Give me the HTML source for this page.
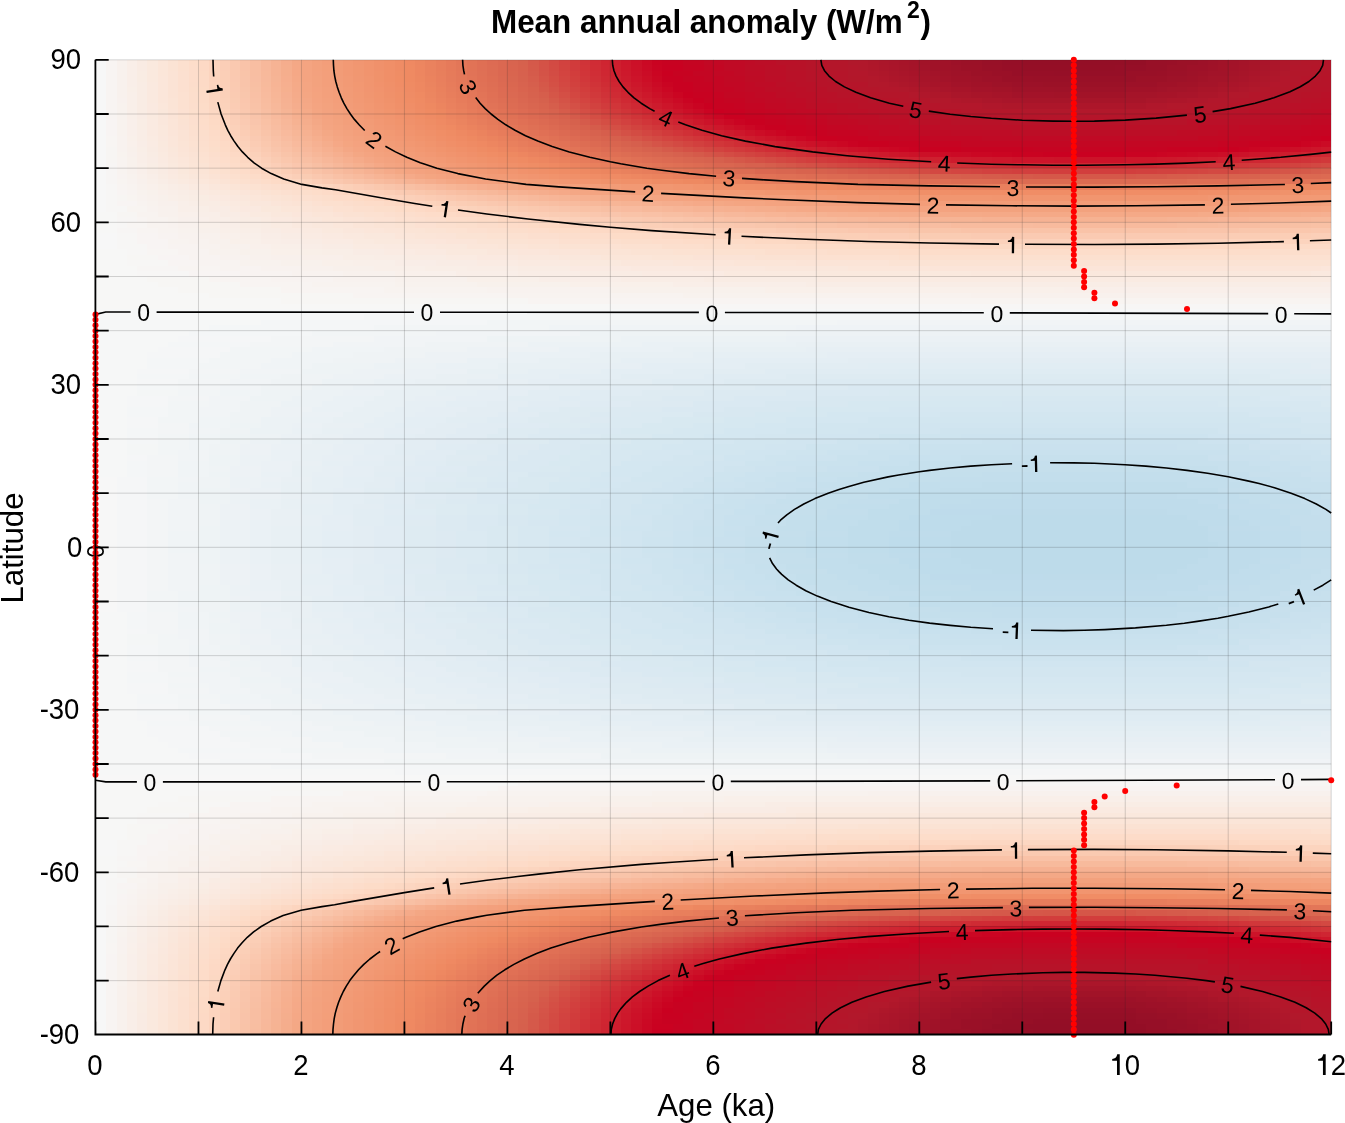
<!DOCTYPE html>
<html><head><meta charset="utf-8"><style>
html,body{margin:0;padding:0;background:#fff;}
body{width:1345px;height:1123px;position:relative;overflow:hidden;font-family:"Liberation Sans",sans-serif;}
#hm div{position:absolute;left:95.5px;width:1235.7px;}
svg{position:absolute;left:0;top:0;will-change:transform;}
</style></head><body>
<div id="hm">
<div style="top:1029.38px;height:5.44px;background:linear-gradient(90deg,#f7f7f7 0 10.3px,#f8f4f2 0 20.6px,#f8f1ed 0 30.9px,#f9eee8 0 41.2px,#f9ebe3 0 51.5px,#fae9de 0 61.8px,#fbe6d9 0 72.1px,#fbe3d4 0 82.4px,#fce0cf 0 92.7px,#fdddca 0 103.0px,#fdd9c5 0 113.3px,#fcd4be 0 123.6px,#fbceb6 0 133.9px,#fac9af 0 144.2px,#f9c3a8 0 154.5px,#f8bda1 0 164.8px,#f7b89a 0 175.1px,#f6b393 0 185.4px,#f5ad8c 0 195.7px,#f4a885 0 206.0px,#f4a480 0 216.2px,#f3a17d 0 226.5px,#f39e7a 0 236.8px,#f29c77 0 247.1px,#f29974 0 257.4px,#f19671 0 267.7px,#f1946e 0 278.0px,#f0916a 0 288.3px,#f08f67 0 298.6px,#ef8c64 0 308.9px,#ee8962 0 319.2px,#ec8560 0 329.5px,#ea815e 0 339.8px,#e87d5c 0 350.1px,#e57a5a 0 360.4px,#e37658 0 370.7px,#e17256 0 381.0px,#df6e54 0 391.3px,#dc6b52 0 401.6px,#da6751 0 411.9px,#d8644f 0 422.2px,#d6604d 0 432.5px,#d55849 0 442.8px,#d45046 0 453.1px,#d34942 0 463.4px,#d2413e 0 473.7px,#d13a3b 0 484.0px,#d03237 0 494.3px,#cf2b34 0 504.6px,#ce2431 0 514.9px,#ce1d2d 0 525.2px,#cd162a 0 535.5px,#cc0f27 0 545.8px,#cb0824 0 556.1px,#ca0121 0 576.7px,#c60422 0 597.3px,#c30723 0 617.9px,#c10924 0 638.4px,#bf0b25 0 648.7px,#bd0d26 0 669.3px,#bb0f27 0 679.6px,#b91128 0 700.2px,#b71329 0 720.8px,#b4162a 0 741.4px,#b2182b 0 762.0px,#af172b 0 772.3px,#ac162a 0 782.6px,#aa152a 0 792.9px,#a71529 0 803.2px,#a51429 0 813.5px,#a31329 0 823.8px,#a11328 0 834.1px,#9f1228 0 844.4px,#9d1128 0 854.7px,#9b1127 0 875.3px,#991027 0 885.6px,#970f27 0 906.2px,#940f26 0 937.1px,#930e26 0 1050.3px,#960f26 0 1070.9px,#970f27 0 1081.2px,#991027 0 1101.8px,#9c1128 0 1122.4px,#9f1228 0 1132.7px,#a11328 0 1143.0px,#a31329 0 1153.3px,#a51429 0 1163.6px,#a81529 0 1173.9px,#aa152a 0 1184.2px,#ad162a 0 1194.5px,#af172b 0 1204.8px,#b3172b 0 1225.4px,#b4162a 0 1236.7px)"></div>
<div style="top:1023.97px;height:5.44px;background:linear-gradient(90deg,#f7f7f7 0 10.3px,#f8f4f2 0 20.6px,#f8f1ed 0 30.9px,#f9eee8 0 41.2px,#f9ebe3 0 51.5px,#fae9de 0 61.8px,#fbe6d9 0 72.1px,#fbe3d4 0 82.4px,#fce0cf 0 92.7px,#fdddca 0 103.0px,#fdd9c5 0 113.3px,#fcd4be 0 123.6px,#fbceb7 0 133.9px,#fac9af 0 144.2px,#f9c3a8 0 154.5px,#f8bea1 0 164.8px,#f7b89a 0 175.1px,#f6b393 0 185.4px,#f5ad8c 0 195.7px,#f4a885 0 206.0px,#f4a480 0 216.2px,#f3a17d 0 226.5px,#f39e7a 0 236.8px,#f29c77 0 247.1px,#f29974 0 257.4px,#f19671 0 267.7px,#f1946e 0 278.0px,#f0916a 0 288.3px,#f08f67 0 298.6px,#ef8c64 0 308.9px,#ef8962 0 319.2px,#ec8560 0 329.5px,#ea815e 0 339.8px,#e87e5c 0 350.1px,#e57a5a 0 360.4px,#e37658 0 370.7px,#e17256 0 381.0px,#df6f54 0 391.3px,#dd6b52 0 401.6px,#da6751 0 411.9px,#d8644f 0 422.2px,#d6604d 0 432.5px,#d5594a 0 442.8px,#d45146 0 453.1px,#d34942 0 463.4px,#d2413f 0 473.7px,#d13a3b 0 484.0px,#d03238 0 494.3px,#cf2b34 0 504.6px,#ce2431 0 514.9px,#ce1d2e 0 525.2px,#cd162a 0 535.5px,#cc0f27 0 545.8px,#cb0824 0 556.1px,#ca0221 0 576.7px,#c70322 0 597.3px,#c40623 0 617.9px,#c10924 0 638.4px,#bf0b25 0 648.7px,#bd0d26 0 669.3px,#ba1027 0 689.9px,#b81228 0 710.5px,#b61429 0 731.1px,#b4162a 0 751.7px,#b2182b 0 762.0px,#af172b 0 772.3px,#ad162a 0 782.6px,#aa152a 0 792.9px,#a81529 0 803.2px,#a51429 0 813.5px,#a31329 0 823.8px,#a11328 0 834.1px,#9f1228 0 844.4px,#9d1128 0 865.0px,#9a1027 0 885.6px,#981027 0 895.9px,#950f26 0 926.8px,#930e26 0 957.7px,#930e26 0 1029.8px,#940e26 0 1050.3px,#960f27 0 1070.9px,#981027 0 1091.5px,#9a1027 0 1101.8px,#9c1127 0 1112.1px,#9e1228 0 1132.7px,#a11328 0 1143.0px,#a31329 0 1153.3px,#a61429 0 1163.6px,#a81529 0 1173.9px,#aa162a 0 1184.2px,#ad162a 0 1194.5px,#b0172b 0 1204.8px,#b3172b 0 1225.4px,#b4162a 0 1236.7px)"></div>
<div style="top:1018.55px;height:5.44px;background:linear-gradient(90deg,#f7f7f7 0 10.3px,#f8f4f2 0 20.6px,#f8f1ed 0 30.9px,#f9eee8 0 41.2px,#f9ebe3 0 51.5px,#fae9de 0 61.8px,#fbe6d9 0 72.1px,#fbe3d4 0 82.4px,#fce0cf 0 92.7px,#fdddca 0 103.0px,#fdd9c5 0 113.3px,#fcd4be 0 123.6px,#fbceb7 0 133.9px,#fac9b0 0 144.2px,#f9c3a9 0 154.5px,#f8bea2 0 164.8px,#f7b89b 0 175.1px,#f6b394 0 185.4px,#f5ad8d 0 195.7px,#f4a886 0 206.0px,#f4a481 0 216.2px,#f3a17d 0 226.5px,#f39e7a 0 236.8px,#f29c77 0 247.1px,#f29974 0 257.4px,#f19671 0 267.7px,#f1946e 0 278.0px,#f0916b 0 288.3px,#f08f68 0 298.6px,#ef8c65 0 308.9px,#ef8962 0 319.2px,#ec8660 0 329.5px,#ea825e 0 339.8px,#e87e5c 0 350.1px,#e57a5a 0 360.4px,#e37658 0 370.7px,#e17356 0 381.0px,#df6f54 0 391.3px,#dd6b53 0 401.6px,#db6851 0 411.9px,#d8644f 0 422.2px,#d6614d 0 432.5px,#d5594a 0 442.8px,#d45146 0 453.1px,#d34a43 0 463.4px,#d2423f 0 473.7px,#d13b3b 0 484.0px,#d03338 0 494.3px,#cf2c35 0 504.6px,#cf2531 0 514.9px,#ce1e2e 0 525.2px,#cd172b 0 535.5px,#cc1028 0 545.8px,#cb0924 0 556.1px,#ca0321 0 566.4px,#c80221 0 587.0px,#c60422 0 597.3px,#c40623 0 617.9px,#c20824 0 628.1px,#c00a25 0 648.7px,#be0c26 0 659.0px,#bc0e27 0 679.6px,#b91128 0 700.2px,#b71329 0 720.8px,#b5152a 0 741.4px,#b3172b 0 762.0px,#b0172b 0 772.3px,#ae172a 0 782.6px,#ab162a 0 792.9px,#a91529 0 803.2px,#a61429 0 813.5px,#a41429 0 823.8px,#a21328 0 834.1px,#a01228 0 844.4px,#9d1128 0 865.0px,#9a1027 0 885.6px,#981027 0 906.2px,#960f26 0 937.1px,#940e26 0 1040.0px,#960f27 0 1070.9px,#991027 0 1091.5px,#9b1127 0 1101.8px,#9e1128 0 1122.4px,#a01228 0 1132.7px,#a21328 0 1143.0px,#a41429 0 1153.3px,#a61429 0 1163.6px,#a9152a 0 1173.9px,#ab162a 0 1184.2px,#ae172a 0 1194.5px,#b0182b 0 1204.8px,#b3172b 0 1225.4px,#b4162a 0 1236.7px)"></div>
<div style="top:1013.13px;height:5.44px;background:linear-gradient(90deg,#f7f7f7 0 10.3px,#f8f4f2 0 20.6px,#f8f1ed 0 30.9px,#f9eee8 0 41.2px,#f9ebe3 0 51.5px,#fae9de 0 61.8px,#fbe6d9 0 72.1px,#fbe3d4 0 82.4px,#fce0d0 0 92.7px,#fdddcb 0 103.0px,#fdd9c5 0 113.3px,#fcd4be 0 123.6px,#fbceb7 0 133.9px,#fac9b0 0 144.2px,#f9c3a9 0 154.5px,#f8bea2 0 164.8px,#f7b99b 0 175.1px,#f6b394 0 185.4px,#f5ae8d 0 195.7px,#f5a886 0 206.0px,#f4a481 0 216.2px,#f3a17e 0 226.5px,#f39f7a 0 236.8px,#f29c77 0 247.1px,#f29974 0 257.4px,#f19771 0 267.7px,#f1946e 0 278.0px,#f0926b 0 288.3px,#f08f68 0 298.6px,#ef8c65 0 308.9px,#ef8a62 0 319.2px,#ed8660 0 329.5px,#ea825e 0 339.8px,#e87e5c 0 350.1px,#e67a5a 0 360.4px,#e47758 0 370.7px,#e17357 0 381.0px,#df6f55 0 391.3px,#dd6c53 0 401.6px,#db6851 0 411.9px,#d9654f 0 422.2px,#d7614e 0 432.5px,#d55a4a 0 442.8px,#d45347 0 453.1px,#d34b43 0 463.4px,#d24340 0 473.7px,#d13c3c 0 484.0px,#d13539 0 494.3px,#d02d35 0 504.6px,#cf2632 0 514.9px,#ce1f2f 0 525.2px,#cd182b 0 535.5px,#cc1128 0 545.8px,#cb0b25 0 556.1px,#cb0422 0 566.4px,#c90121 0 587.0px,#c60422 0 607.6px,#c30723 0 628.1px,#c10924 0 638.4px,#bf0b25 0 659.0px,#bd0d26 0 669.3px,#bb0f27 0 689.9px,#b81228 0 710.5px,#b61429 0 731.1px,#b4162a 0 751.7px,#b2182b 0 772.3px,#af172b 0 782.6px,#ac162a 0 792.9px,#aa152a 0 803.2px,#a81529 0 813.5px,#a61429 0 823.8px,#a31329 0 844.4px,#a01228 0 854.7px,#9d1128 0 875.3px,#9b1127 0 895.9px,#981027 0 916.5px,#960f27 0 947.4px,#950f26 0 1040.0px,#971027 0 1060.6px,#991027 0 1081.2px,#9b1127 0 1091.5px,#9d1128 0 1112.1px,#a01228 0 1122.4px,#a21328 0 1132.7px,#a41329 0 1143.0px,#a61429 0 1153.3px,#a81529 0 1163.6px,#aa162a 0 1173.9px,#ad162a 0 1184.2px,#af172b 0 1194.5px,#b2182b 0 1215.1px,#b4162a 0 1236.7px)"></div>
<div style="top:1007.72px;height:5.44px;background:linear-gradient(90deg,#f7f7f7 0 10.3px,#f8f4f2 0 20.6px,#f8f1ed 0 30.9px,#f9eee8 0 41.2px,#f9ece3 0 51.5px,#fae9de 0 61.8px,#fbe6da 0 72.1px,#fbe3d5 0 82.4px,#fce0d0 0 92.7px,#fdddcb 0 103.0px,#fddac5 0 113.3px,#fcd4be 0 123.6px,#fbcfb7 0 133.9px,#fac9b0 0 144.2px,#f9c4a9 0 154.5px,#f8bea2 0 164.8px,#f7b99b 0 175.1px,#f6b395 0 185.4px,#f6ae8e 0 195.7px,#f5a987 0 206.0px,#f4a481 0 216.2px,#f3a27e 0 226.5px,#f39f7b 0 236.8px,#f29c78 0 247.1px,#f29a75 0 257.4px,#f19771 0 267.7px,#f1946e 0 278.0px,#f0926b 0 288.3px,#f08f68 0 298.6px,#f08d65 0 308.9px,#ef8a62 0 319.2px,#ed8760 0 329.5px,#eb835e 0 339.8px,#e87f5c 0 350.1px,#e67b5b 0 360.4px,#e47759 0 370.7px,#e27457 0 381.0px,#e07055 0 391.3px,#dd6c53 0 401.6px,#db6951 0 411.9px,#d96550 0 422.2px,#d7624e 0 432.5px,#d65c4b 0 442.8px,#d55448 0 453.1px,#d44d44 0 463.4px,#d34540 0 473.7px,#d23e3d 0 484.0px,#d1363a 0 494.3px,#d02f36 0 504.6px,#cf2833 0 514.9px,#ce2130 0 525.2px,#cd1a2c 0 535.5px,#cc1329 0 545.8px,#cc0d26 0 556.1px,#cb0623 0 566.4px,#ca0020 0 576.7px,#c80221 0 597.3px,#c50522 0 617.9px,#c30723 0 628.1px,#c00a24 0 648.7px,#bf0b25 0 659.0px,#bd0d26 0 679.6px,#ba1027 0 700.2px,#b81228 0 720.8px,#b61429 0 741.4px,#b3172a 0 772.3px,#b1182b 0 782.6px,#ae172a 0 792.9px,#ac162a 0 803.2px,#aa152a 0 813.5px,#a81529 0 823.8px,#a61429 0 834.1px,#a41329 0 844.4px,#a21328 0 854.7px,#9f1228 0 875.3px,#9d1128 0 895.9px,#9a1027 0 916.5px,#981027 0 947.4px,#970f27 0 1040.0px,#9a1027 0 1060.6px,#9c1127 0 1081.2px,#9d1128 0 1091.5px,#a01228 0 1112.1px,#a21328 0 1122.4px,#a41329 0 1132.7px,#a61429 0 1143.0px,#a81529 0 1153.3px,#aa152a 0 1163.6px,#ac162a 0 1173.9px,#af172a 0 1184.2px,#b1182b 0 1194.5px,#b4162a 0 1225.4px,#b51529 0 1236.7px)"></div>
<div style="top:1002.30px;height:5.44px;background:linear-gradient(90deg,#f7f7f7 0 10.3px,#f8f4f2 0 20.6px,#f8f1ed 0 30.9px,#f9eee8 0 41.2px,#f9ece3 0 51.5px,#fae9df 0 61.8px,#fbe6da 0 72.1px,#fbe3d5 0 82.4px,#fce0d0 0 92.7px,#fcddcb 0 103.0px,#fddac6 0 113.3px,#fcd5bf 0 123.6px,#fbcfb8 0 133.9px,#facab1 0 144.2px,#f9c4aa 0 154.5px,#f8bfa3 0 164.8px,#f7b99c 0 175.1px,#f7b495 0 185.4px,#f6af8e 0 195.7px,#f5a988 0 206.0px,#f4a481 0 216.2px,#f3a27e 0 226.5px,#f39f7b 0 236.8px,#f29d78 0 247.1px,#f29a75 0 257.4px,#f19772 0 267.7px,#f1956f 0 278.0px,#f1926c 0 288.3px,#f09069 0 298.6px,#f08d66 0 308.9px,#ef8b63 0 319.2px,#ed8761 0 329.5px,#eb835f 0 339.8px,#e9805d 0 350.1px,#e77c5b 0 360.4px,#e47859 0 370.7px,#e27557 0 381.0px,#e07155 0 391.3px,#de6d54 0 401.6px,#dc6a52 0 411.9px,#da6650 0 422.2px,#d8634e 0 432.5px,#d65e4c 0 442.8px,#d55749 0 453.1px,#d44f45 0 463.4px,#d34842 0 473.7px,#d2403e 0 484.0px,#d1393b 0 494.3px,#d03237 0 504.6px,#cf2b34 0 514.9px,#ce2431 0 525.2px,#ce1d2e 0 535.5px,#cd162a 0 545.8px,#cc1027 0 556.1px,#cb0924 0 566.4px,#ca0321 0 576.7px,#c80221 0 597.3px,#c50522 0 617.9px,#c30723 0 638.4px,#c10924 0 648.7px,#bf0b25 0 669.3px,#bc0e26 0 689.9px,#ba1027 0 710.5px,#b81228 0 731.1px,#b61429 0 751.7px,#b4162a 0 772.3px,#b2182b 0 792.9px,#af172a 0 803.2px,#ac162a 0 813.5px,#aa152a 0 823.8px,#a81529 0 834.1px,#a61429 0 844.4px,#a41329 0 865.0px,#a11228 0 885.6px,#9e1228 0 906.2px,#9c1128 0 926.8px,#9a1027 0 968.0px,#9a1027 0 1029.8px,#9b1127 0 1050.3px,#9d1128 0 1070.9px,#9f1228 0 1091.5px,#a11328 0 1101.8px,#a31329 0 1112.1px,#a51429 0 1132.7px,#a81529 0 1143.0px,#aa162a 0 1153.3px,#ac162a 0 1163.6px,#af172a 0 1173.9px,#b1182b 0 1184.2px,#b3172a 0 1215.1px,#b61429 0 1236.7px)"></div>
<div style="top:996.88px;height:5.44px;background:linear-gradient(90deg,#f7f7f7 0 10.3px,#f8f4f2 0 20.6px,#f8f1ed 0 30.9px,#f9efe8 0 41.2px,#f9ece4 0 51.5px,#fae9df 0 61.8px,#fbe6da 0 72.1px,#fbe3d5 0 82.4px,#fce0d0 0 92.7px,#fcdecb 0 103.0px,#fddac6 0 113.3px,#fcd5bf 0 123.6px,#fbd0b8 0 133.9px,#facab2 0 144.2px,#f9c5ab 0 154.5px,#f8bfa4 0 164.8px,#f8ba9d 0 175.1px,#f7b596 0 185.4px,#f6af8f 0 195.7px,#f5aa88 0 206.0px,#f4a582 0 216.2px,#f3a27f 0 226.5px,#f3a07c 0 236.8px,#f39d79 0 247.1px,#f29a75 0 257.4px,#f29872 0 267.7px,#f1956f 0 278.0px,#f1936c 0 288.3px,#f09069 0 298.6px,#f08e66 0 308.9px,#ef8b64 0 319.2px,#ee8861 0 329.5px,#ec845f 0 339.8px,#e9815d 0 350.1px,#e77d5b 0 360.4px,#e5795a 0 370.7px,#e37658 0 381.0px,#e17256 0 391.3px,#df6e54 0 401.6px,#dc6b52 0 411.9px,#da6751 0 422.2px,#d8644f 0 432.5px,#d6614d 0 442.8px,#d5594a 0 453.1px,#d45246 0 463.4px,#d34a43 0 473.7px,#d2433f 0 484.0px,#d13c3c 0 494.3px,#d13539 0 504.6px,#d02e35 0 514.9px,#cf2732 0 525.2px,#ce202f 0 535.5px,#cd192c 0 545.8px,#cc1329 0 556.1px,#cc0c26 0 566.4px,#cb0623 0 576.7px,#ca0020 0 587.0px,#c80221 0 607.6px,#c60422 0 617.9px,#c30723 0 638.4px,#c10924 0 659.0px,#be0c25 0 679.6px,#bc0e26 0 700.2px,#ba1027 0 720.8px,#b81228 0 741.4px,#b61429 0 762.0px,#b4162a 0 792.9px,#b2182b 0 803.2px,#af172b 0 813.5px,#ad172a 0 823.8px,#ab162a 0 834.1px,#a91529 0 854.7px,#a51429 0 875.3px,#a31329 0 895.9px,#a01228 0 916.5px,#9e1228 0 947.4px,#9d1128 0 1040.0px,#9f1228 0 1060.6px,#a11328 0 1081.2px,#a31329 0 1091.5px,#a51429 0 1112.1px,#a81529 0 1122.4px,#ab162a 0 1143.0px,#ad172a 0 1153.3px,#b0172b 0 1163.6px,#b2182b 0 1184.2px,#b4162a 0 1215.1px,#b71329 0 1236.7px)"></div>
<div style="top:991.47px;height:5.44px;background:linear-gradient(90deg,#f7f7f7 0 10.3px,#f8f4f2 0 20.6px,#f8f1ed 0 30.9px,#f9efe9 0 41.2px,#f9ece4 0 51.5px,#fae9df 0 61.8px,#fbe6da 0 72.1px,#fbe3d5 0 82.4px,#fce1d1 0 92.7px,#fcdecc 0 103.0px,#fddbc7 0 113.3px,#fcd6c0 0 123.6px,#fbd0b9 0 133.9px,#facbb2 0 144.2px,#f9c5ab 0 154.5px,#f9c0a5 0 164.8px,#f8bb9e 0 175.1px,#f7b597 0 185.4px,#f6b090 0 195.7px,#f5ab8a 0 206.0px,#f4a683 0 216.2px,#f4a37f 0 226.5px,#f3a07c 0 236.8px,#f39e79 0 247.1px,#f29b76 0 257.4px,#f29873 0 267.7px,#f19670 0 278.0px,#f1936d 0 288.3px,#f0916a 0 298.6px,#f08e67 0 308.9px,#ef8c64 0 319.2px,#ef8962 0 329.5px,#ec8660 0 339.8px,#ea825e 0 350.1px,#e87e5c 0 360.4px,#e67a5a 0 370.7px,#e47758 0 381.0px,#e17357 0 391.3px,#df7055 0 401.6px,#dd6c53 0 411.9px,#db6951 0 422.2px,#d96550 0 432.5px,#d7624e 0 442.8px,#d65d4b 0 453.1px,#d55548 0 463.4px,#d44e44 0 473.7px,#d34741 0 484.0px,#d23f3e 0 494.3px,#d1383a 0 504.6px,#d03137 0 514.9px,#cf2a34 0 525.2px,#ce2431 0 535.5px,#ce1d2e 0 545.8px,#cd172b 0 556.1px,#cc1028 0 566.4px,#cb0a25 0 576.7px,#ca0422 0 587.0px,#ca0020 0 597.3px,#c70321 0 617.9px,#c50522 0 638.4px,#c30723 0 648.7px,#c10924 0 669.3px,#be0c25 0 689.9px,#bc0e26 0 710.5px,#ba1027 0 731.1px,#b81228 0 751.7px,#b61429 0 782.6px,#b4162a 0 803.2px,#b2182b 0 823.8px,#af172b 0 834.1px,#ac162a 0 854.7px,#aa152a 0 865.0px,#a81529 0 885.6px,#a51429 0 906.2px,#a31329 0 926.8px,#a11328 0 1050.3px,#a41429 0 1070.9px,#a71429 0 1091.5px,#a9152a 0 1112.1px,#ad162a 0 1132.7px,#af172b 0 1143.0px,#b2182b 0 1163.6px,#b4162a 0 1184.2px,#b61429 0 1215.1px,#b81228 0 1236.7px)"></div>
<div style="top:986.05px;height:5.44px;background:linear-gradient(90deg,#f7f7f7 0 10.3px,#f8f4f2 0 20.6px,#f8f1ed 0 30.9px,#f9efe9 0 41.2px,#f9ece4 0 51.5px,#fae9df 0 61.8px,#fbe6da 0 72.1px,#fbe4d6 0 82.4px,#fce1d1 0 92.7px,#fcdecc 0 103.0px,#fddbc7 0 113.3px,#fcd6c1 0 123.6px,#fbd1ba 0 133.9px,#facbb3 0 144.2px,#fac6ac 0 154.5px,#f9c1a6 0 164.8px,#f8bc9f 0 175.1px,#f7b698 0 185.4px,#f6b192 0 195.7px,#f5ac8b 0 206.0px,#f4a784 0 216.2px,#f4a380 0 226.5px,#f3a17d 0 236.8px,#f39e7a 0 247.1px,#f29c77 0 257.4px,#f29974 0 267.7px,#f19771 0 278.0px,#f1946e 0 288.3px,#f0926b 0 298.6px,#f08f68 0 308.9px,#f08d65 0 319.2px,#ef8a62 0 329.5px,#ed8760 0 339.8px,#eb835f 0 350.1px,#e97f5d 0 360.4px,#e77c5b 0 370.7px,#e47859 0 381.0px,#e27557 0 391.3px,#e07156 0 401.6px,#de6e54 0 411.9px,#dc6a52 0 422.2px,#da6750 0 432.5px,#d8644f 0 442.8px,#d6604d 0 453.1px,#d5594a 0 463.4px,#d45246 0 473.7px,#d34b43 0 484.0px,#d24340 0 494.3px,#d23c3c 0 504.6px,#d13639 0 514.9px,#d02f36 0 525.2px,#cf2833 0 535.5px,#ce2230 0 545.8px,#cd1b2d 0 556.1px,#cd152a 0 566.4px,#cc0f27 0 576.7px,#cb0924 0 587.0px,#ca0321 0 597.3px,#c90121 0 617.9px,#c60422 0 638.4px,#c30723 0 659.0px,#c10924 0 679.6px,#be0c25 0 700.2px,#bc0e26 0 720.8px,#ba1027 0 741.4px,#b81228 0 762.0px,#b61429 0 782.6px,#b5152a 0 813.5px,#b2172b 0 844.4px,#b0172b 0 854.7px,#ae172a 0 875.3px,#ac162a 0 885.6px,#aa152a 0 906.2px,#a81529 0 937.1px,#a61429 0 1040.0px,#a81529 0 1070.9px,#aa162a 0 1081.2px,#ac162a 0 1101.8px,#af172b 0 1122.4px,#b3172b 0 1153.3px,#b5152a 0 1184.2px,#b71329 0 1204.8px,#b81228 0 1225.4px,#ba1027 0 1236.7px)"></div>
<div style="top:980.64px;height:5.44px;background:linear-gradient(90deg,#f7f7f7 0 10.3px,#f8f4f2 0 20.6px,#f8f2ee 0 30.9px,#f9efe9 0 41.2px,#f9ece4 0 51.5px,#fae9df 0 61.8px,#fbe7db 0 72.1px,#fbe4d6 0 82.4px,#fce1d1 0 92.7px,#fcdecd 0 103.0px,#fddcc8 0 113.3px,#fcd7c2 0 123.6px,#fbd2bb 0 133.9px,#fbccb4 0 144.2px,#fac7ae 0 154.5px,#f9c2a7 0 164.8px,#f8bda0 0 175.1px,#f7b79a 0 185.4px,#f6b293 0 195.7px,#f5ad8c 0 206.0px,#f4a886 0 216.2px,#f4a481 0 226.5px,#f3a17e 0 236.8px,#f39f7b 0 247.1px,#f29c78 0 257.4px,#f29a75 0 267.7px,#f19772 0 278.0px,#f1956f 0 288.3px,#f1926c 0 298.6px,#f09069 0 308.9px,#f08e66 0 319.2px,#ef8b64 0 329.5px,#ee8861 0 339.8px,#ec855f 0 350.1px,#ea815e 0 360.4px,#e87d5c 0 370.7px,#e57a5a 0 381.0px,#e37658 0 391.3px,#e17356 0 401.6px,#df6f55 0 411.9px,#dd6c53 0 422.2px,#db6951 0 432.5px,#d96550 0 442.8px,#d7624e 0 453.1px,#d65e4c 0 463.4px,#d55648 0 473.7px,#d44f45 0 484.0px,#d34842 0 494.3px,#d2413f 0 504.6px,#d13a3b 0 514.9px,#d03438 0 525.2px,#d02d35 0 535.5px,#cf2732 0 545.8px,#ce202f 0 556.1px,#cd1a2c 0 566.4px,#cd1429 0 576.7px,#cc0e27 0 587.0px,#cb0824 0 597.3px,#ca0221 0 617.9px,#c70321 0 638.4px,#c50522 0 659.0px,#c20824 0 679.6px,#c00a25 0 700.2px,#be0c26 0 720.8px,#bc0e27 0 741.4px,#ba1027 0 762.0px,#b81228 0 792.9px,#b51529 0 823.8px,#b4162a 0 854.7px,#b2182b 0 885.6px,#b0172b 0 895.9px,#ae172a 0 926.8px,#ab162a 0 968.0px,#ab162a 0 1029.8px,#ac162a 0 1050.3px,#ae172a 0 1070.9px,#b0172b 0 1091.5px,#b3172b 0 1122.4px,#b5152a 0 1163.6px,#b71329 0 1184.2px,#b91128 0 1215.1px,#bb0f27 0 1236.7px)"></div>
<div style="top:975.22px;height:5.44px;background:linear-gradient(90deg,#f7f7f7 0 10.3px,#f8f4f2 0 20.6px,#f8f2ee 0 30.9px,#f9efe9 0 41.2px,#f9ece4 0 51.5px,#fae9e0 0 61.8px,#fae7db 0 72.1px,#fbe4d6 0 82.4px,#fce1d2 0 92.7px,#fcdfcd 0 103.0px,#fddcc9 0 113.3px,#fcd8c3 0 123.6px,#fcd2bc 0 133.9px,#fbcdb5 0 144.2px,#fac8af 0 154.5px,#f9c3a8 0 164.8px,#f8bea2 0 175.1px,#f7b99b 0 185.4px,#f6b495 0 195.7px,#f6ae8e 0 206.0px,#f5a988 0 216.2px,#f4a582 0 226.5px,#f3a27f 0 236.8px,#f3a07c 0 247.1px,#f39d79 0 257.4px,#f29b76 0 267.7px,#f29873 0 278.0px,#f19670 0 288.3px,#f1936d 0 298.6px,#f0916a 0 308.9px,#f08f68 0 319.2px,#ef8c65 0 329.5px,#ef8a62 0 339.8px,#ed8660 0 350.1px,#eb835e 0 360.4px,#e97f5d 0 370.7px,#e77c5b 0 381.0px,#e47859 0 391.3px,#e27557 0 401.6px,#e07156 0 411.9px,#de6e54 0 422.2px,#dc6b52 0 432.5px,#db6851 0 442.8px,#d9644f 0 453.1px,#d7614e 0 463.4px,#d55c4b 0 473.7px,#d55448 0 484.0px,#d44e44 0 494.3px,#d34741 0 504.6px,#d2403e 0 514.9px,#d1393b 0 525.2px,#d03338 0 535.5px,#d02c35 0 545.8px,#cf2632 0 556.1px,#ce202f 0 566.4px,#cd1a2c 0 576.7px,#cd1429 0 587.0px,#cc0e27 0 597.3px,#cb0924 0 607.6px,#ca0321 0 617.9px,#c90121 0 638.4px,#c60422 0 659.0px,#c40623 0 679.6px,#c20824 0 700.2px,#bf0b25 0 720.8px,#bd0d26 0 741.4px,#bc0e27 0 762.0px,#b91128 0 792.9px,#b71329 0 823.8px,#b51529 0 854.7px,#b4162a 0 906.2px,#b2182b 0 968.0px,#b1182b 0 1029.8px,#b3172b 0 1091.5px,#b5152a 0 1132.7px,#b71329 0 1163.6px,#b91128 0 1194.5px,#bb0f27 0 1215.1px,#bd0d26 0 1236.7px)"></div>
<div style="top:969.80px;height:5.44px;background:linear-gradient(90deg,#f7f7f7 0 10.3px,#f8f4f2 0 20.6px,#f8f2ee 0 30.9px,#f9efe9 0 41.2px,#f9ece5 0 51.5px,#faeae0 0 61.8px,#fae7dc 0 72.1px,#fbe4d7 0 82.4px,#fce2d2 0 92.7px,#fcdfce 0 103.0px,#fddcc9 0 113.3px,#fdd8c4 0 123.6px,#fcd3bd 0 133.9px,#fbceb7 0 144.2px,#fac9b0 0 154.5px,#f9c4aa 0 164.8px,#f8bfa3 0 175.1px,#f7ba9d 0 185.4px,#f7b596 0 195.7px,#f6b090 0 206.0px,#f5ab8a 0 216.2px,#f4a683 0 226.5px,#f4a380 0 236.8px,#f3a17d 0 247.1px,#f39e7a 0 257.4px,#f29c77 0 267.7px,#f29974 0 278.0px,#f19771 0 288.3px,#f1956e 0 298.6px,#f1926c 0 308.9px,#f09069 0 319.2px,#f08d66 0 329.5px,#ef8b63 0 339.8px,#ee8861 0 350.1px,#ec855f 0 360.4px,#ea815e 0 370.7px,#e87e5c 0 381.0px,#e67a5a 0 391.3px,#e47759 0 401.6px,#e27457 0 411.9px,#e07055 0 422.2px,#de6d54 0 432.5px,#dc6a52 0 442.8px,#da6750 0 453.1px,#d8644f 0 463.4px,#d6614d 0 473.7px,#d55a4a 0 484.0px,#d45347 0 494.3px,#d44d44 0 504.6px,#d34641 0 514.9px,#d2403e 0 525.2px,#d1393b 0 535.5px,#d03338 0 545.8px,#d02d35 0 556.1px,#cf2732 0 566.4px,#ce212f 0 576.7px,#cd1b2d 0 587.0px,#cd152a 0 597.3px,#cc1027 0 607.6px,#cb0a25 0 617.9px,#cb0522 0 628.1px,#c90120 0 648.7px,#c70321 0 669.3px,#c50523 0 689.9px,#c20824 0 710.5px,#c00a24 0 731.1px,#be0c25 0 751.7px,#bd0d26 0 772.3px,#bb0f27 0 803.2px,#b91128 0 834.1px,#b61429 0 885.6px,#b4162a 0 1112.1px,#b71328 0 1143.0px,#b91128 0 1173.9px,#bc0e27 0 1204.8px,#be0c26 0 1225.4px,#bf0b25 0 1236.7px)"></div>
<div style="top:964.39px;height:5.44px;background:linear-gradient(90deg,#f7f7f7 0 10.3px,#f8f4f3 0 20.6px,#f8f2ee 0 30.9px,#f9efea 0 41.2px,#f9ede5 0 51.5px,#faeae1 0 61.8px,#fae7dc 0 72.1px,#fbe5d8 0 82.4px,#fbe2d3 0 92.7px,#fcdfcf 0 103.0px,#fdddca 0 113.3px,#fdd9c5 0 123.6px,#fcd4bf 0 133.9px,#fbcfb8 0 144.2px,#facab2 0 154.5px,#f9c5ab 0 164.8px,#f9c0a5 0 175.1px,#f8bb9f 0 185.4px,#f7b698 0 195.7px,#f6b292 0 206.0px,#f5ad8c 0 216.2px,#f4a886 0 226.5px,#f4a481 0 236.8px,#f3a27e 0 247.1px,#f39f7b 0 257.4px,#f29d78 0 267.7px,#f29a75 0 278.0px,#f29873 0 288.3px,#f19670 0 298.6px,#f1936d 0 308.9px,#f0916a 0 319.2px,#f08f68 0 329.5px,#ef8d65 0 339.8px,#ef8a62 0 350.1px,#ed8760 0 360.4px,#eb845f 0 370.7px,#e9805d 0 381.0px,#e77d5b 0 391.3px,#e5795a 0 401.6px,#e37658 0 411.9px,#e17356 0 422.2px,#df7055 0 432.5px,#dd6d53 0 442.8px,#dc6952 0 453.1px,#da6650 0 463.4px,#d8634f 0 473.7px,#d6604d 0 484.0px,#d55a4a 0 494.3px,#d45347 0 504.6px,#d44d44 0 514.9px,#d34641 0 525.2px,#d2403e 0 535.5px,#d13a3b 0 545.8px,#d03438 0 556.1px,#d02e36 0 566.4px,#cf2833 0 576.7px,#ce2230 0 587.0px,#ce1d2e 0 597.3px,#cd172b 0 607.6px,#cc1228 0 617.9px,#cc0d26 0 628.1px,#cb0824 0 638.4px,#ca0321 0 648.7px,#c90121 0 669.3px,#c70322 0 689.9px,#c40623 0 710.5px,#c20823 0 731.1px,#c10924 0 751.7px,#be0c25 0 782.6px,#bc0e26 0 813.5px,#ba1027 0 844.4px,#b81228 0 895.9px,#b71329 0 1101.8px,#ba1028 0 1143.0px,#bc0e27 0 1173.9px,#be0c26 0 1204.8px,#c00a25 0 1225.4px,#c10924 0 1236.7px)"></div>
<div style="top:958.97px;height:5.44px;background:linear-gradient(90deg,#f7f7f7 0 10.3px,#f8f4f3 0 20.6px,#f8f2ee 0 30.9px,#f9efea 0 41.2px,#f9ede5 0 51.5px,#faeae1 0 61.8px,#fae8dd 0 72.1px,#fbe5d8 0 82.4px,#fbe2d4 0 92.7px,#fce0cf 0 103.0px,#fdddcb 0 113.3px,#fddac6 0 123.6px,#fcd6c0 0 133.9px,#fbd1ba 0 144.2px,#faccb3 0 154.5px,#fac7ad 0 164.8px,#f9c2a7 0 175.1px,#f8bda1 0 185.4px,#f7b89b 0 195.7px,#f6b394 0 206.0px,#f6af8e 0 216.2px,#f5aa88 0 226.5px,#f4a582 0 236.8px,#f4a37f 0 247.1px,#f3a07c 0 257.4px,#f39e7a 0 267.7px,#f29c77 0 278.0px,#f29974 0 288.3px,#f19771 0 298.6px,#f1956f 0 308.9px,#f1926c 0 319.2px,#f09069 0 329.5px,#f08e67 0 339.8px,#ef8c64 0 350.1px,#ef8962 0 360.4px,#ed8660 0 370.7px,#eb835e 0 381.0px,#e97f5d 0 391.3px,#e77c5b 0 401.6px,#e57959 0 411.9px,#e37658 0 422.2px,#e17356 0 432.5px,#df6f55 0 442.8px,#dd6c53 0 453.1px,#dc6952 0 463.4px,#da6650 0 473.7px,#d8634f 0 484.0px,#d6614d 0 494.3px,#d55b4b 0 504.6px,#d55448 0 514.9px,#d44e45 0 525.2px,#d34842 0 535.5px,#d2423f 0 545.8px,#d13c3c 0 556.1px,#d13639 0 566.4px,#d03037 0 576.7px,#cf2b34 0 587.0px,#cf2531 0 597.3px,#ce202f 0 607.6px,#cd1b2c 0 617.9px,#cd152a 0 628.1px,#cc1028 0 638.4px,#cb0c25 0 648.7px,#cb0723 0 659.0px,#ca0121 0 679.6px,#c80221 0 700.2px,#c60422 0 720.8px,#c30723 0 751.7px,#c10924 0 772.3px,#bf0b25 0 803.2px,#bd0d26 0 834.1px,#bc0e27 0 875.3px,#b91128 0 1112.1px,#bd0d26 0 1153.3px,#bf0b25 0 1184.2px,#c10924 0 1204.8px,#c30723 0 1236.7px)"></div>
<div style="top:953.55px;height:5.44px;background:linear-gradient(90deg,#f7f7f7 0 10.3px,#f8f4f3 0 20.6px,#f8f2ee 0 30.9px,#f9efea 0 41.2px,#f9ede6 0 51.5px,#faeae1 0 61.8px,#fae8dd 0 72.1px,#fbe5d9 0 82.4px,#fbe3d4 0 92.7px,#fce0d0 0 103.0px,#fcdecc 0 113.3px,#fddbc8 0 123.6px,#fcd7c2 0 133.9px,#fbd2bb 0 144.2px,#fbcdb5 0 154.5px,#fac8af 0 164.8px,#f9c4a9 0 175.1px,#f8bfa3 0 185.4px,#f8ba9d 0 195.7px,#f7b597 0 206.0px,#f6b191 0 216.2px,#f5ac8b 0 226.5px,#f4a785 0 236.8px,#f4a481 0 247.1px,#f3a27e 0 257.4px,#f39f7b 0 267.7px,#f39d78 0 278.0px,#f29b76 0 288.3px,#f29873 0 298.6px,#f19670 0 308.9px,#f1946e 0 319.2px,#f0926b 0 329.5px,#f09069 0 339.8px,#f08d66 0 350.1px,#ef8b64 0 360.4px,#ee8961 0 370.7px,#ec8660 0 381.0px,#ea825e 0 391.3px,#e97f5d 0 401.6px,#e77c5b 0 411.9px,#e57959 0 422.2px,#e37658 0 432.5px,#e17356 0 442.8px,#df7055 0 453.1px,#de6d53 0 463.4px,#dc6a52 0 473.7px,#da6750 0 484.0px,#d8644f 0 494.3px,#d7614e 0 504.6px,#d65d4b 0 514.9px,#d55749 0 525.2px,#d45146 0 535.5px,#d34b43 0 545.8px,#d34540 0 556.1px,#d23f3e 0 566.4px,#d1393b 0 576.7px,#d03438 0 587.0px,#d02e36 0 597.3px,#cf2933 0 607.6px,#cf2431 0 617.9px,#ce1f2f 0 628.1px,#cd1a2c 0 638.4px,#cd152a 0 648.7px,#cc1128 0 659.0px,#cc0c26 0 669.3px,#cb0824 0 679.6px,#ca0422 0 689.9px,#c90120 0 710.5px,#c70321 0 731.1px,#c60422 0 751.7px,#c40623 0 782.6px,#c10924 0 813.5px,#bf0b25 0 854.7px,#bd0d26 0 906.2px,#bc0e26 0 1091.5px,#be0c25 0 1132.7px,#c10924 0 1173.9px,#c20823 0 1194.5px,#c40623 0 1225.4px,#c60422 0 1236.7px)"></div>
<div style="top:948.14px;height:5.44px;background:linear-gradient(90deg,#f7f7f7 0 10.3px,#f8f5f3 0 20.6px,#f8f2ef 0 30.9px,#f9f0ea 0 41.2px,#f9ede6 0 51.5px,#faebe2 0 61.8px,#fae8de 0 72.1px,#fbe6da 0 82.4px,#fbe3d5 0 92.7px,#fce1d1 0 103.0px,#fcdecd 0 113.3px,#fddcc9 0 123.6px,#fdd8c3 0 133.9px,#fcd3bd 0 144.2px,#fbcfb7 0 154.5px,#facab1 0 164.8px,#f9c5ab 0 175.1px,#f9c1a5 0 185.4px,#f8bca0 0 195.7px,#f7b89a 0 206.0px,#f6b394 0 216.2px,#f6ae8e 0 226.5px,#f5aa88 0 236.8px,#f4a582 0 247.1px,#f4a37f 0 257.4px,#f3a17d 0 267.7px,#f39e7a 0 278.0px,#f29c78 0 288.3px,#f29a75 0 298.6px,#f29872 0 308.9px,#f19670 0 319.2px,#f1946d 0 329.5px,#f0916b 0 339.8px,#f08f68 0 350.1px,#f08d66 0 360.4px,#ef8b63 0 370.7px,#ee8961 0 381.0px,#ec8560 0 391.3px,#ea825e 0 401.6px,#e97f5d 0 411.9px,#e77c5b 0 422.2px,#e5795a 0 432.5px,#e37658 0 442.8px,#e17357 0 453.1px,#e07055 0 463.4px,#de6e54 0 473.7px,#dc6b52 0 484.0px,#db6851 0 494.3px,#d96550 0 504.6px,#d8634e 0 514.9px,#d6604d 0 525.2px,#d55a4a 0 535.5px,#d55447 0 545.8px,#d44e45 0 556.1px,#d34942 0 566.4px,#d24340 0 576.7px,#d23e3d 0 587.0px,#d1393b 0 597.3px,#d03338 0 607.6px,#d02e36 0 617.9px,#cf2a33 0 628.1px,#cf2531 0 638.4px,#ce202f 0 648.7px,#cd1c2d 0 659.0px,#cd172b 0 669.3px,#cc1329 0 679.6px,#cc0f27 0 689.9px,#cb0b25 0 700.2px,#cb0723 0 710.5px,#ca0321 0 720.8px,#c90120 0 741.4px,#c70321 0 772.3px,#c50522 0 792.9px,#c40623 0 834.1px,#c10924 0 875.3px,#bf0b25 0 1112.1px,#c20823 0 1153.3px,#c40623 0 1184.2px,#c70322 0 1215.1px,#c90121 0 1236.7px)"></div>
<div style="top:942.72px;height:5.44px;background:linear-gradient(90deg,#f7f7f7 0 10.3px,#f8f5f3 0 20.6px,#f8f2ef 0 30.9px,#f9f0eb 0 41.2px,#f9ede7 0 51.5px,#faebe3 0 61.8px,#fae9de 0 72.1px,#fbe6da 0 82.4px,#fbe4d6 0 92.7px,#fce1d2 0 103.0px,#fcdfce 0 113.3px,#fdddca 0 123.6px,#fddac5 0 133.9px,#fcd5bf 0 144.2px,#fbd1ba 0 154.5px,#faccb4 0 164.8px,#fac7ae 0 175.1px,#f9c3a8 0 185.4px,#f8bea2 0 195.7px,#f7ba9d 0 206.0px,#f7b597 0 216.2px,#f6b191 0 226.5px,#f5ad8c 0 236.8px,#f5a886 0 247.1px,#f4a481 0 257.4px,#f3a27f 0 267.7px,#f3a07c 0 278.0px,#f39e7a 0 288.3px,#f29c77 0 298.6px,#f29a75 0 308.9px,#f29872 0 319.2px,#f19570 0 329.5px,#f1936d 0 339.8px,#f0916b 0 350.1px,#f08f68 0 360.4px,#f08d66 0 370.7px,#ef8b64 0 381.0px,#ee8961 0 391.3px,#ed8660 0 401.6px,#eb835e 0 411.9px,#e9805d 0 422.2px,#e77d5b 0 432.5px,#e67a5a 0 442.8px,#e47759 0 453.1px,#e27457 0 463.4px,#e07256 0 473.7px,#df6f54 0 484.0px,#dd6c53 0 494.3px,#dc6a52 0 504.6px,#da6750 0 514.9px,#d9644f 0 525.2px,#d7624e 0 535.5px,#d65e4c 0 545.8px,#d5594a 0 556.1px,#d45347 0 566.4px,#d44e45 0 576.7px,#d34942 0 587.0px,#d24440 0 597.3px,#d23f3d 0 607.6px,#d13a3b 0 617.9px,#d13539 0 628.1px,#d03037 0 638.4px,#cf2c35 0 648.7px,#cf2732 0 659.0px,#ce2330 0 669.3px,#ce1f2f 0 679.6px,#cd1b2d 0 689.9px,#cd172b 0 700.2px,#cc1329 0 710.5px,#cc0f27 0 720.8px,#cb0c26 0 731.1px,#cb0924 0 741.4px,#cb0522 0 751.7px,#ca0221 0 762.0px,#c90120 0 782.6px,#c80221 0 813.5px,#c50522 0 865.0px,#c30723 0 926.8px,#c20824 0 1081.2px,#c50523 0 1132.7px,#c70322 0 1163.6px,#c80221 0 1194.5px,#ca0020 0 1204.8px,#ca0221 0 1215.1px,#cb0522 0 1225.4px,#cb0824 0 1236.7px)"></div>
<div style="top:937.30px;height:5.44px;background:linear-gradient(90deg,#f7f7f7 0 10.3px,#f7f5f3 0 20.6px,#f8f2ef 0 30.9px,#f8f0eb 0 41.2px,#f9eee7 0 51.5px,#f9ebe3 0 61.8px,#fae9df 0 72.1px,#fae7db 0 82.4px,#fbe4d7 0 92.7px,#fbe2d3 0 103.0px,#fce0cf 0 113.3px,#fcdecb 0 123.6px,#fddbc7 0 133.9px,#fcd7c2 0 144.2px,#fcd3bc 0 154.5px,#fbceb6 0 164.8px,#facab1 0 175.1px,#f9c5ab 0 185.4px,#f9c1a6 0 195.7px,#f8bda0 0 206.0px,#f7b89b 0 216.2px,#f6b495 0 226.5px,#f6b090 0 236.8px,#f5ab8a 0 247.1px,#f4a785 0 257.4px,#f4a481 0 267.7px,#f3a27e 0 278.0px,#f3a07c 0 288.3px,#f39e79 0 298.6px,#f29c77 0 308.9px,#f29a74 0 319.2px,#f29872 0 329.5px,#f19670 0 339.8px,#f1946d 0 350.1px,#f0926b 0 360.4px,#f09069 0 370.7px,#f08e66 0 381.0px,#ef8c64 0 391.3px,#ef8a62 0 401.6px,#ed8760 0 411.9px,#eb845f 0 422.2px,#ea815e 0 432.5px,#e87e5c 0 442.8px,#e67c5b 0 453.1px,#e57959 0 463.4px,#e37658 0 473.7px,#e27357 0 484.0px,#e07155 0 494.3px,#de6e54 0 504.6px,#dd6c53 0 514.9px,#db6952 0 525.2px,#da6750 0 535.5px,#d9644f 0 545.8px,#d7624e 0 556.1px,#d65f4d 0 566.4px,#d55a4a 0 576.7px,#d55548 0 587.0px,#d45045 0 597.3px,#d34b43 0 607.6px,#d34641 0 617.9px,#d2423f 0 628.1px,#d23d3d 0 638.4px,#d1393b 0 648.7px,#d13439 0 659.0px,#d03037 0 669.3px,#d02c35 0 679.6px,#cf2833 0 689.9px,#cf2431 0 700.2px,#ce212f 0 710.5px,#ce1d2e 0 720.8px,#cd1a2c 0 731.1px,#cd162a 0 741.4px,#cc1329 0 751.7px,#cc1028 0 762.0px,#cc0d26 0 772.3px,#cb0a25 0 782.6px,#cb0824 0 792.9px,#cb0522 0 803.2px,#ca0321 0 813.5px,#c90120 0 854.7px,#c70321 0 916.5px,#c60422 0 1091.5px,#c80221 0 1132.7px,#ca0020 0 1153.3px,#ca0321 0 1163.6px,#cb0522 0 1173.9px,#cb0824 0 1184.2px,#cb0a25 0 1194.5px,#cc0d26 0 1204.8px,#cc1028 0 1215.1px,#cc1329 0 1225.4px,#cd162a 0 1236.7px)"></div>
<div style="top:931.89px;height:5.44px;background:linear-gradient(90deg,#f7f7f7 0 10.3px,#f7f5f3 0 20.6px,#f8f3ef 0 30.9px,#f8f0ec 0 41.2px,#f9eee8 0 51.5px,#f9ece4 0 61.8px,#faeae0 0 72.1px,#fae7dc 0 82.4px,#fbe5d8 0 92.7px,#fbe3d4 0 103.0px,#fce1d1 0 113.3px,#fcdecd 0 123.6px,#fddcc9 0 133.9px,#fdd9c4 0 144.2px,#fcd5bf 0 154.5px,#fbd0b9 0 164.8px,#fbccb4 0 175.1px,#fac8af 0 185.4px,#f9c4a9 0 195.7px,#f8bfa4 0 206.0px,#f8bb9e 0 216.2px,#f7b799 0 226.5px,#f6b394 0 236.8px,#f6af8e 0 247.1px,#f5ab89 0 257.4px,#f4a784 0 267.7px,#f4a481 0 278.0px,#f3a27e 0 288.3px,#f3a07c 0 298.6px,#f39e79 0 308.9px,#f29c77 0 319.2px,#f29a75 0 329.5px,#f29872 0 339.8px,#f19670 0 350.1px,#f1946e 0 360.4px,#f1926c 0 370.7px,#f09069 0 381.0px,#f08e67 0 391.3px,#ef8d65 0 401.6px,#ef8b63 0 411.9px,#ee8861 0 422.2px,#ec8660 0 432.5px,#eb835e 0 442.8px,#e9805d 0 453.1px,#e87e5c 0 463.4px,#e67b5b 0 473.7px,#e57859 0 484.0px,#e37658 0 494.3px,#e27357 0 504.6px,#e07155 0 514.9px,#df6f54 0 525.2px,#dd6c53 0 535.5px,#dc6a52 0 545.8px,#da6851 0 556.1px,#d96550 0 566.4px,#d8634f 0 576.7px,#d7614d 0 587.0px,#d65d4c 0 597.3px,#d5594a 0 607.6px,#d55447 0 617.9px,#d45045 0 628.1px,#d34b43 0 638.4px,#d34741 0 648.7px,#d2433f 0 659.0px,#d23f3d 0 669.3px,#d13b3c 0 679.6px,#d1373a 0 689.9px,#d03338 0 700.2px,#d03036 0 710.5px,#d02c35 0 720.8px,#cf2933 0 731.1px,#cf2632 0 741.4px,#ce2330 0 751.7px,#ce202f 0 762.0px,#ce1d2d 0 772.3px,#cd1a2c 0 782.6px,#cd172b 0 792.9px,#cd152a 0 803.2px,#cc1329 0 813.5px,#cc1028 0 823.8px,#cc0e27 0 834.1px,#cb0c25 0 854.7px,#cb0924 0 865.0px,#cb0723 0 885.6px,#cb0422 0 906.2px,#ca0221 0 926.8px,#ca0120 0 1060.6px,#ca0322 0 1070.9px,#cb0522 0 1091.5px,#cb0723 0 1101.8px,#cb0924 0 1112.1px,#cb0b25 0 1132.7px,#cc0e27 0 1143.0px,#cc1028 0 1153.3px,#cc1329 0 1163.6px,#cd152a 0 1173.9px,#cd172b 0 1184.2px,#cd1a2c 0 1194.5px,#ce1d2d 0 1204.8px,#ce1f2f 0 1215.1px,#ce2230 0 1225.4px,#cf2532 0 1236.7px)"></div>
<div style="top:926.47px;height:5.44px;background:linear-gradient(90deg,#f7f7f7 0 10.3px,#f7f5f3 0 20.6px,#f8f3f0 0 30.9px,#f8f1ec 0 41.2px,#f9eee8 0 51.5px,#f9ece5 0 61.8px,#faeae1 0 72.1px,#fae8dd 0 82.4px,#fbe6da 0 92.7px,#fbe4d6 0 103.0px,#fce1d2 0 113.3px,#fcdfce 0 123.6px,#fdddcb 0 133.9px,#fddbc7 0 144.2px,#fcd7c2 0 154.5px,#fcd3bd 0 164.8px,#fbcfb7 0 175.1px,#facbb2 0 185.4px,#fac7ad 0 195.7px,#f9c3a8 0 206.0px,#f8bfa3 0 216.2px,#f8bb9e 0 226.5px,#f7b798 0 236.8px,#f6b393 0 247.1px,#f6af8e 0 257.4px,#f5ab89 0 267.7px,#f4a784 0 278.0px,#f4a481 0 288.3px,#f3a27e 0 298.6px,#f3a07c 0 308.9px,#f39e7a 0 319.2px,#f29c78 0 329.5px,#f29a76 0 339.8px,#f29973 0 350.1px,#f19771 0 360.4px,#f1956f 0 370.7px,#f1936d 0 381.0px,#f0916b 0 391.3px,#f09069 0 401.6px,#f08e67 0 411.9px,#ef8c65 0 422.2px,#ef8a63 0 432.5px,#ee8861 0 442.8px,#ec8560 0 453.1px,#eb835e 0 463.4px,#e9805d 0 473.7px,#e87e5c 0 484.0px,#e67b5b 0 494.3px,#e5795a 0 504.6px,#e47758 0 514.9px,#e27457 0 525.2px,#e17256 0 535.5px,#df7055 0 545.8px,#de6e54 0 556.1px,#dd6c53 0 566.4px,#dc6952 0 576.7px,#da6751 0 587.0px,#d96550 0 597.3px,#d8634f 0 607.6px,#d7614e 0 617.9px,#d65f4c 0 628.1px,#d55b4a 0 638.4px,#d55649 0 648.7px,#d45247 0 659.0px,#d44f45 0 669.3px,#d34b43 0 679.6px,#d34741 0 689.9px,#d24340 0 700.2px,#d2403e 0 710.5px,#d23d3c 0 720.8px,#d1393b 0 731.1px,#d13639 0 741.4px,#d03338 0 751.7px,#d03137 0 762.0px,#d02e35 0 772.3px,#cf2b34 0 782.6px,#cf2933 0 792.9px,#cf2632 0 803.2px,#cf2431 0 813.5px,#ce2230 0 823.8px,#ce202f 0 834.1px,#ce1e2e 0 844.4px,#cd1c2d 0 865.0px,#cd192c 0 885.6px,#cd162a 0 906.2px,#cd1429 0 926.8px,#cc1229 0 968.0px,#cc1228 0 1029.8px,#cc1429 0 1060.6px,#cd152a 0 1070.9px,#cd172b 0 1091.5px,#cd192c 0 1101.8px,#cd1b2d 0 1122.4px,#ce1e2e 0 1132.7px,#ce202f 0 1143.0px,#ce2230 0 1153.3px,#ce2431 0 1163.6px,#cf2632 0 1173.9px,#cf2933 0 1184.2px,#cf2b34 0 1194.5px,#d02e35 0 1204.8px,#d03037 0 1215.1px,#d03338 0 1225.4px,#d13639 0 1236.7px)"></div>
<div style="top:921.05px;height:5.44px;background:linear-gradient(90deg,#f7f7f7 0 10.3px,#f7f5f3 0 20.6px,#f8f3f0 0 30.9px,#f8f1ec 0 41.2px,#f9efe9 0 51.5px,#f9ede5 0 61.8px,#faebe2 0 72.1px,#fae9de 0 82.4px,#fbe7db 0 92.7px,#fbe5d7 0 103.0px,#fbe2d4 0 113.3px,#fce0d0 0 123.6px,#fcdecd 0 133.9px,#fddcc9 0 144.2px,#fddac5 0 154.5px,#fcd6c0 0 164.8px,#fbd2bb 0 175.1px,#fbceb6 0 185.4px,#facab1 0 195.7px,#fac6ac 0 206.0px,#f9c2a7 0 216.2px,#f8bea3 0 226.5px,#f8bb9e 0 236.8px,#f7b799 0 247.1px,#f6b394 0 257.4px,#f6af8f 0 267.7px,#f5ac8a 0 278.0px,#f4a886 0 288.3px,#f4a582 0 298.6px,#f4a37f 0 308.9px,#f3a17d 0 319.2px,#f39f7b 0 329.5px,#f39d79 0 339.8px,#f29c77 0 350.1px,#f29a75 0 360.4px,#f29873 0 370.7px,#f19671 0 381.0px,#f1956f 0 391.3px,#f1936d 0 401.6px,#f0916b 0 411.9px,#f09069 0 422.2px,#f08e67 0 432.5px,#ef8c65 0 442.8px,#ef8b63 0 453.1px,#ee8961 0 463.4px,#ed8660 0 473.7px,#eb845f 0 484.0px,#ea825e 0 494.3px,#e97f5d 0 504.6px,#e77d5c 0 514.9px,#e67b5a 0 525.2px,#e57959 0 535.5px,#e37758 0 545.8px,#e27457 0 556.1px,#e17256 0 566.4px,#e07055 0 576.7px,#df6e54 0 587.0px,#dd6b53 0 607.6px,#db6951 0 617.9px,#da6750 0 628.1px,#d96550 0 638.4px,#d8634e 0 659.0px,#d6604d 0 669.3px,#d65c4b 0 679.6px,#d5594a 0 689.9px,#d55648 0 700.2px,#d45247 0 710.5px,#d44f45 0 720.8px,#d34c44 0 731.1px,#d34942 0 741.4px,#d34641 0 751.7px,#d24340 0 762.0px,#d2413e 0 772.3px,#d23e3d 0 782.6px,#d13c3c 0 792.9px,#d13a3b 0 803.2px,#d1373a 0 813.5px,#d13539 0 823.8px,#d03338 0 844.4px,#d03037 0 854.7px,#d02e35 0 875.3px,#cf2b34 0 895.9px,#cf2933 0 926.8px,#cf2632 0 978.3px,#cf2632 0 1029.8px,#cf2833 0 1060.6px,#cf2a34 0 1081.2px,#d02c35 0 1101.8px,#d02e36 0 1112.1px,#d03036 0 1122.4px,#d03238 0 1143.0px,#d13539 0 1153.3px,#d1373a 0 1163.6px,#d1393b 0 1173.9px,#d13c3c 0 1184.2px,#d23e3d 0 1194.5px,#d2413e 0 1204.8px,#d2433f 0 1215.1px,#d34641 0 1225.4px,#d34942 0 1236.7px)"></div>
<div style="top:915.64px;height:5.44px;background:linear-gradient(90deg,#f7f7f7 0 10.3px,#f7f5f4 0 20.6px,#f8f3f0 0 30.9px,#f8f1ed 0 41.2px,#f9efea 0 51.5px,#f9ede6 0 61.8px,#f9ebe3 0 72.1px,#fae9e0 0 82.4px,#fae7dc 0 92.7px,#fbe6d9 0 103.0px,#fbe4d6 0 113.3px,#fce2d2 0 123.6px,#fce0cf 0 133.9px,#fcdecc 0 144.2px,#fddcc8 0 154.5px,#fdd9c4 0 164.8px,#fcd5c0 0 175.1px,#fbd2bb 0 185.4px,#fbceb6 0 195.7px,#facab1 0 206.0px,#fac7ad 0 216.2px,#f9c3a8 0 226.5px,#f8bfa4 0 236.8px,#f8bc9f 0 247.1px,#f7b89a 0 257.4px,#f7b596 0 267.7px,#f6b191 0 278.0px,#f5ad8d 0 288.3px,#f5aa88 0 298.6px,#f4a684 0 308.9px,#f4a481 0 319.2px,#f3a27f 0 329.5px,#f3a17d 0 339.8px,#f39f7b 0 350.1px,#f39d79 0 360.4px,#f29c77 0 370.7px,#f29a75 0 381.0px,#f29873 0 391.3px,#f19771 0 401.6px,#f1956f 0 411.9px,#f1946d 0 422.2px,#f0926c 0 432.5px,#f0916a 0 442.8px,#f08f68 0 453.1px,#f08e66 0 463.4px,#ef8b64 0 484.0px,#ee8961 0 494.3px,#ed8760 0 504.6px,#ec845f 0 514.9px,#ea825e 0 525.2px,#e9805d 0 535.5px,#e87e5c 0 545.8px,#e77c5b 0 556.1px,#e67a5a 0 566.4px,#e47859 0 576.7px,#e37658 0 587.0px,#e27457 0 607.6px,#e07155 0 617.9px,#df6f55 0 628.1px,#de6d53 0 648.7px,#dc6952 0 669.3px,#da6650 0 689.9px,#d8644f 0 710.5px,#d7624e 0 720.8px,#d6604d 0 731.1px,#d65e4c 0 741.4px,#d55b4b 0 751.7px,#d5594a 0 762.0px,#d55648 0 772.3px,#d45447 0 782.6px,#d45146 0 792.9px,#d44f45 0 803.2px,#d44d44 0 813.5px,#d34b43 0 823.8px,#d34942 0 844.4px,#d34541 0 865.0px,#d2433f 0 885.6px,#d2403e 0 906.2px,#d23e3d 0 937.1px,#d23d3c 0 1050.3px,#d23f3e 0 1070.9px,#d2413f 0 1091.5px,#d24440 0 1112.1px,#d34641 0 1122.4px,#d34842 0 1143.0px,#d34b43 0 1153.3px,#d44d44 0 1163.6px,#d44f45 0 1173.9px,#d45146 0 1184.2px,#d45347 0 1194.5px,#d55648 0 1204.8px,#d55849 0 1215.1px,#d55b4b 0 1225.4px,#d65e4c 0 1236.7px)"></div>
<div style="top:910.22px;height:5.44px;background:linear-gradient(90deg,#f7f7f7 0 10.3px,#f7f5f4 0 20.6px,#f8f3f1 0 30.9px,#f8f2ee 0 41.2px,#f9f0eb 0 51.5px,#f9eee7 0 61.8px,#f9ece4 0 72.1px,#faeae1 0 82.4px,#fae9de 0 92.7px,#fae7db 0 103.0px,#fbe5d8 0 113.3px,#fbe3d5 0 123.6px,#fce1d2 0 133.9px,#fcdfcf 0 144.2px,#fcdecc 0 154.5px,#fddcc8 0 164.8px,#fdd9c5 0 175.1px,#fcd6c0 0 185.4px,#fcd2bc 0 195.7px,#fbcfb7 0 206.0px,#facbb3 0 216.2px,#fac8af 0 226.5px,#f9c5aa 0 236.8px,#f9c1a6 0 247.1px,#f8bea2 0 257.4px,#f8bb9d 0 267.7px,#f7b799 0 278.0px,#f6b495 0 288.3px,#f6b191 0 298.6px,#f5ad8d 0 308.9px,#f5aa89 0 319.2px,#f4a784 0 329.5px,#f4a481 0 339.8px,#f4a37f 0 350.1px,#f3a17e 0 360.4px,#f3a07c 0 370.7px,#f39e7a 0 381.0px,#f29d78 0 391.3px,#f29a75 0 411.9px,#f29873 0 422.2px,#f19771 0 432.5px,#f1956e 0 453.1px,#f1926c 0 463.4px,#f0906a 0 484.0px,#f08e66 0 504.6px,#ef8c64 0 514.9px,#ef8a63 0 525.2px,#ee8961 0 535.5px,#ed8760 0 545.8px,#ec855f 0 556.1px,#eb835f 0 566.4px,#ea815e 0 576.7px,#e87f5c 0 597.3px,#e77c5b 0 607.6px,#e57a5a 0 628.1px,#e37658 0 648.7px,#e27357 0 669.3px,#e07155 0 689.9px,#de6e54 0 710.5px,#dd6b53 0 731.1px,#dc6a52 0 741.4px,#db6851 0 762.0px,#d96650 0 782.6px,#d8644f 0 813.5px,#d7614e 0 834.1px,#d6604d 0 854.7px,#d65d4c 0 875.3px,#d55b4b 0 895.9px,#d5594a 0 916.5px,#d55749 0 947.4px,#d55648 0 1040.0px,#d5594a 0 1070.9px,#d55b4b 0 1091.5px,#d65d4c 0 1112.1px,#d6604d 0 1132.7px,#d7614e 0 1153.3px,#d8634f 0 1184.2px,#d96650 0 1204.8px,#db6851 0 1225.4px,#dc6952 0 1236.7px)"></div>
<div style="top:904.81px;height:5.44px;background:linear-gradient(90deg,#f7f7f7 0 10.3px,#f7f5f4 0 20.6px,#f8f4f1 0 30.9px,#f8f2ef 0 41.2px,#f8f0ec 0 51.5px,#f9efe9 0 61.8px,#f9ede6 0 72.1px,#f9ebe3 0 82.4px,#faeae0 0 92.7px,#fae8dd 0 103.0px,#fbe6db 0 113.3px,#fbe5d8 0 123.6px,#fbe3d5 0 133.9px,#fce1d2 0 144.2px,#fce0cf 0 154.5px,#fcdecc 0 164.8px,#fdddca 0 175.1px,#fddbc7 0 185.4px,#fcd8c3 0 195.7px,#fcd5bf 0 206.0px,#fbd1bb 0 216.2px,#fbceb7 0 226.5px,#facbb3 0 236.8px,#fac8af 0 247.1px,#f9c5ab 0 257.4px,#f9c2a7 0 267.7px,#f8bfa3 0 278.0px,#f8bc9f 0 288.3px,#f7b99b 0 298.6px,#f7b697 0 308.9px,#f6b394 0 319.2px,#f6b090 0 329.5px,#f5ad8c 0 339.8px,#f5aa88 0 350.1px,#f4a785 0 360.4px,#f4a582 0 370.7px,#f4a380 0 381.0px,#f3a27e 0 391.3px,#f3a07d 0 401.6px,#f39f7b 0 411.9px,#f39e79 0 422.2px,#f29c78 0 432.5px,#f29a75 0 453.1px,#f29872 0 473.7px,#f1956f 0 494.3px,#f1936c 0 514.9px,#f0906a 0 535.5px,#f08f68 0 545.8px,#f08d66 0 566.4px,#ef8b64 0 576.7px,#ef8a62 0 597.3px,#ed8760 0 617.9px,#eb845f 0 638.4px,#e9815d 0 659.0px,#e87f5c 0 669.3px,#e77d5b 0 689.9px,#e67a5a 0 710.5px,#e47859 0 731.1px,#e37658 0 751.7px,#e27457 0 772.3px,#e07156 0 803.2px,#df6f55 0 823.8px,#de6e54 0 854.7px,#dd6c53 0 885.6px,#dc6a52 0 947.4px,#dc6a52 0 1060.6px,#dd6c53 0 1112.1px,#de6e54 0 1143.0px,#df7055 0 1173.9px,#e17256 0 1194.5px,#e27457 0 1215.1px,#e37658 0 1236.7px)"></div>
<div style="top:899.39px;height:5.44px;background:linear-gradient(90deg,#f7f7f7 0 10.3px,#f7f6f5 0 20.6px,#f8f4f2 0 30.9px,#f8f3f0 0 41.2px,#f8f1ed 0 51.5px,#f9f0eb 0 61.8px,#f9eee8 0 72.1px,#f9ede6 0 82.4px,#f9ece4 0 92.7px,#faeae1 0 103.0px,#fae9df 0 113.3px,#fae7dc 0 123.6px,#fbe6da 0 133.9px,#fbe4d7 0 144.2px,#fbe3d5 0 154.5px,#fce2d2 0 164.8px,#fce0d0 0 175.1px,#fcdfcd 0 185.4px,#fcddcb 0 195.7px,#fddcc9 0 206.0px,#fddac6 0 216.2px,#fcd7c2 0 226.5px,#fcd5bf 0 236.8px,#fcd2bc 0 247.1px,#fbcfb8 0 257.4px,#fbcdb5 0 267.7px,#facab1 0 278.0px,#fac7ae 0 288.3px,#f9c5ab 0 298.6px,#f9c2a7 0 308.9px,#f8c0a4 0 319.2px,#f8bda1 0 329.5px,#f8ba9d 0 339.8px,#f7b89a 0 350.1px,#f7b597 0 360.4px,#f6b394 0 370.7px,#f6b091 0 381.0px,#f6ae8e 0 391.3px,#f5ac8a 0 401.6px,#f5a987 0 411.9px,#f4a784 0 422.2px,#f4a582 0 432.5px,#f4a480 0 442.8px,#f3a27e 0 463.4px,#f3a07c 0 484.0px,#f39e7a 0 494.3px,#f29c78 0 514.9px,#f29a75 0 535.5px,#f29873 0 556.1px,#f19671 0 576.7px,#f1946e 0 597.3px,#f1936c 0 617.9px,#f0916a 0 638.4px,#f08f68 0 659.0px,#f08e66 0 679.6px,#ef8c65 0 700.2px,#ef8a63 0 731.1px,#ee8861 0 751.7px,#ed8660 0 772.3px,#ec845f 0 803.2px,#ea825e 0 834.1px,#e9805d 0 865.0px,#e87f5c 0 926.8px,#e77d5c 0 1070.9px,#e97f5d 0 1122.4px,#ea815e 0 1153.3px,#eb835f 0 1184.2px,#ec8560 0 1204.8px,#ed8761 0 1236.7px)"></div>
<div style="top:893.97px;height:5.44px;background:linear-gradient(90deg,#f7f7f7 0 10.3px,#f7f6f5 0 20.6px,#f8f4f3 0 30.9px,#f8f3f1 0 41.2px,#f8f2ee 0 51.5px,#f8f1ec 0 61.8px,#f9efea 0 72.1px,#f9eee8 0 82.4px,#f9ede6 0 92.7px,#f9ece3 0 103.0px,#faeae1 0 113.3px,#fae9df 0 123.6px,#fae8dd 0 133.9px,#fbe7db 0 144.2px,#fbe5d9 0 154.5px,#fbe4d6 0 164.8px,#fbe3d4 0 175.1px,#fce1d2 0 185.4px,#fce0d0 0 195.7px,#fcdfce 0 206.0px,#fcdecc 0 216.2px,#fddcca 0 226.5px,#fddbc7 0 236.8px,#fdd9c5 0 247.1px,#fcd7c2 0 257.4px,#fcd4bf 0 267.7px,#fcd2bc 0 278.0px,#fbd0b9 0 288.3px,#fbcdb6 0 298.6px,#facbb3 0 308.9px,#fac9b0 0 319.2px,#fac7ad 0 329.5px,#f9c4aa 0 339.8px,#f9c2a7 0 350.1px,#f8c0a4 0 360.4px,#f8bea1 0 370.7px,#f8bb9f 0 381.0px,#f7b99c 0 391.3px,#f7b799 0 401.6px,#f7b597 0 411.9px,#f6b394 0 422.2px,#f6b191 0 432.5px,#f6af8f 0 442.8px,#f5ad8c 0 453.1px,#f5ab89 0 463.4px,#f5a987 0 473.7px,#f4a785 0 484.0px,#f4a581 0 504.6px,#f4a37f 0 525.2px,#f3a17d 0 545.8px,#f39f7b 0 566.4px,#f39e79 0 587.0px,#f29c77 0 607.6px,#f29a75 0 628.1px,#f29974 0 648.7px,#f19772 0 679.6px,#f1956f 0 710.5px,#f1946d 0 741.4px,#f0926b 0 772.3px,#f0906a 0 813.5px,#f08f67 0 875.3px,#f08d66 0 968.0px,#f08d65 0 1081.2px,#f08e67 0 1132.7px,#f08f68 0 1173.9px,#f0916a 0 1204.8px,#f1926c 0 1236.7px)"></div>
<div style="top:888.56px;height:5.44px;background:linear-gradient(90deg,#f7f7f7 0 10.3px,#f7f6f5 0 20.6px,#f7f5f3 0 30.9px,#f8f4f1 0 41.2px,#f8f2ef 0 51.5px,#f8f1ed 0 61.8px,#f8f0eb 0 72.1px,#f9efe9 0 82.4px,#f9eee7 0 92.7px,#f9ede5 0 103.0px,#f9ece3 0 113.3px,#faeae1 0 123.6px,#fae9df 0 144.2px,#fae7dc 0 154.5px,#fbe6da 0 164.8px,#fbe5d8 0 175.1px,#fbe4d6 0 185.4px,#fbe2d4 0 195.7px,#fce1d2 0 206.0px,#fce0d0 0 216.2px,#fcdfce 0 226.5px,#fcdecc 0 236.8px,#fdddca 0 247.1px,#fddcc8 0 257.4px,#fddac6 0 267.7px,#fdd8c3 0 278.0px,#fcd6c1 0 288.3px,#fcd4be 0 298.6px,#fcd2bc 0 308.9px,#fbd0b9 0 319.2px,#fbceb6 0 329.5px,#faccb4 0 339.8px,#facab1 0 350.1px,#fac8af 0 360.4px,#f9c6ac 0 370.7px,#f9c4aa 0 381.0px,#f9c2a7 0 391.3px,#f9c0a5 0 401.6px,#f8bea2 0 411.9px,#f8bca0 0 422.2px,#f8ba9d 0 432.5px,#f7b99b 0 442.8px,#f7b799 0 453.1px,#f7b597 0 463.4px,#f6b394 0 473.7px,#f6b292 0 484.0px,#f6b090 0 494.3px,#f6ae8e 0 504.6px,#f5ac8c 0 514.9px,#f5ab89 0 525.2px,#f5a987 0 535.5px,#f4a885 0 545.8px,#f4a583 0 566.4px,#f4a480 0 587.0px,#f3a27f 0 607.6px,#f3a17d 0 638.4px,#f39f7a 0 669.3px,#f29d78 0 700.2px,#f29b76 0 731.1px,#f29a74 0 772.3px,#f29872 0 813.5px,#f19671 0 875.3px,#f1956f 0 947.4px,#f1956f 0 1091.5px,#f19670 0 1153.3px,#f29872 0 1194.5px,#f29974 0 1225.4px,#f29a75 0 1236.7px)"></div>
<div style="top:883.14px;height:5.44px;background:linear-gradient(90deg,#f7f7f7 0 10.3px,#f7f6f5 0 20.6px,#f8f4f3 0 41.2px,#f8f3f0 0 51.5px,#f8f2ee 0 61.8px,#f8f0eb 0 82.4px,#f9efe9 0 92.7px,#f9eee7 0 103.0px,#f9ede5 0 113.3px,#faebe3 0 133.9px,#faeae0 0 144.2px,#fae8de 0 154.5px,#fae7db 0 175.1px,#fbe5d9 0 185.4px,#fbe4d7 0 195.7px,#fbe3d4 0 216.2px,#fce1d2 0 226.5px,#fce0d0 0 236.8px,#fcdfce 0 257.4px,#fdddcb 0 267.7px,#fddcc8 0 288.3px,#fddac5 0 298.6px,#fcd8c3 0 308.9px,#fcd6c1 0 319.2px,#fcd4be 0 329.5px,#fcd2bc 0 339.8px,#fbd1ba 0 350.1px,#fbcfb7 0 360.4px,#fbcdb5 0 370.7px,#facbb3 0 381.0px,#fac9b1 0 391.3px,#fac8ae 0 401.6px,#f9c6ac 0 411.9px,#f9c4aa 0 422.2px,#f9c3a8 0 432.5px,#f9c1a6 0 442.8px,#f8bfa4 0 453.1px,#f8bea2 0 463.4px,#f8bc9f 0 473.7px,#f8ba9d 0 484.0px,#f7b99b 0 494.3px,#f7b79a 0 504.6px,#f7b698 0 514.9px,#f7b496 0 525.2px,#f6b394 0 535.5px,#f6b292 0 545.8px,#f6b090 0 556.1px,#f6af8e 0 566.4px,#f5ad8d 0 576.7px,#f5ac8b 0 587.0px,#f5ab89 0 597.3px,#f5a988 0 607.6px,#f4a885 0 628.1px,#f4a582 0 648.7px,#f4a481 0 679.6px,#f3a27f 0 710.5px,#f3a17d 0 731.1px,#f3a07c 0 782.6px,#f39e79 0 834.1px,#f29c77 0 916.5px,#f29b77 0 1122.4px,#f39d79 0 1163.6px,#f39f7a 0 1215.1px,#f3a07c 0 1236.7px)"></div>
<div style="top:877.72px;height:5.44px;background:linear-gradient(90deg,#f7f7f7 0 10.3px,#f7f6f5 0 30.9px,#f8f4f1 0 51.5px,#f8f2ef 0 61.8px,#f8f1ed 0 82.4px,#f9efea 0 92.7px,#f9eee8 0 113.3px,#f9ece4 0 133.9px,#faebe2 0 144.2px,#fae9e0 0 164.8px,#fae7dc 0 185.4px,#fbe6da 0 195.7px,#fbe5d8 0 216.2px,#fbe3d4 0 236.8px,#fce1d1 0 257.4px,#fce0cf 0 267.7px,#fcdecd 0 288.3px,#fdddca 0 308.9px,#fddbc7 0 319.2px,#fddac5 0 329.5px,#fdd8c3 0 339.8px,#fcd6c1 0 350.1px,#fcd5bf 0 360.4px,#fcd3bd 0 370.7px,#fbd2bb 0 381.0px,#fbd0b9 0 391.3px,#fbceb7 0 401.6px,#fbcdb5 0 411.9px,#facbb3 0 422.2px,#facab1 0 432.5px,#fac8af 0 442.8px,#fac7ad 0 453.1px,#f9c5ab 0 463.4px,#f9c4a9 0 473.7px,#f9c2a8 0 484.0px,#f9c1a6 0 494.3px,#f8c0a4 0 504.6px,#f8bea2 0 514.9px,#f8bca0 0 535.5px,#f8ba9d 0 545.8px,#f7b89b 0 566.4px,#f7b698 0 587.0px,#f6b395 0 607.6px,#f6b192 0 628.1px,#f6b090 0 638.4px,#f6ae8e 0 659.0px,#f5ad8c 0 669.3px,#f5ab8a 0 689.9px,#f5a987 0 710.5px,#f4a885 0 731.1px,#f4a683 0 751.7px,#f4a481 0 792.9px,#f4a380 0 844.4px,#f3a27e 0 916.5px,#f3a17d 0 1112.1px,#f4a37f 0 1173.9px,#f4a481 0 1204.8px,#f4a582 0 1236.7px)"></div>
<div style="top:872.31px;height:5.44px;background:linear-gradient(90deg,#f7f7f6 0 20.6px,#f7f5f3 0 41.2px,#f8f3f0 0 61.8px,#f8f1ed 0 82.4px,#f9f0ea 0 103.0px,#f9eee8 0 123.6px,#f9ece5 0 144.2px,#faebe2 0 164.8px,#fae9df 0 185.4px,#fae8dd 0 195.7px,#fbe6da 0 216.2px,#fbe5d8 0 236.8px,#fbe3d5 0 257.4px,#fce2d3 0 267.7px,#fce1d0 0 288.3px,#fcdfce 0 308.9px,#fcdecc 0 319.2px,#fdddca 0 339.8px,#fddbc8 0 350.1px,#fddac6 0 360.4px,#fdd9c4 0 370.7px,#fcd7c2 0 381.0px,#fcd6c0 0 391.3px,#fcd4be 0 411.9px,#fbd2bb 0 422.2px,#fbd0b9 0 432.5px,#fbcfb7 0 442.8px,#fbcdb6 0 453.1px,#fbccb4 0 463.4px,#facbb2 0 473.7px,#fac9b1 0 484.0px,#fac8af 0 494.3px,#fac6ad 0 514.9px,#f9c4a9 0 535.5px,#f9c1a6 0 556.1px,#f8bfa3 0 576.7px,#f8bea1 0 587.0px,#f8bc9f 0 607.6px,#f7ba9d 0 628.1px,#f7b89a 0 648.7px,#f7b698 0 669.3px,#f7b496 0 689.9px,#f6b393 0 710.5px,#f6b191 0 731.1px,#f6b090 0 751.7px,#f6ae8e 0 772.3px,#f5ad8c 0 792.9px,#f5ac8b 0 823.8px,#f5aa89 0 854.7px,#f5a987 0 885.6px,#f4a886 0 1112.1px,#f5aa88 0 1143.0px,#f5ab8a 0 1163.6px,#f5ac8b 0 1194.5px,#f5ae8d 0 1215.1px,#f6af8f 0 1236.7px)"></div>
<div style="top:866.89px;height:5.44px;background:linear-gradient(90deg,#f7f7f6 0 20.6px,#f7f5f4 0 41.2px,#f8f4f2 0 51.5px,#f8f3f0 0 72.1px,#f8f2ee 0 82.4px,#f8f0ec 0 103.0px,#f9efea 0 113.3px,#f9eee8 0 133.9px,#f9ede6 0 144.2px,#f9ece4 0 164.8px,#faebe2 0 175.1px,#fae9e0 0 195.7px,#fae8de 0 206.0px,#fae7dc 0 226.5px,#fbe6da 0 236.8px,#fbe5d8 0 257.4px,#fbe3d5 0 278.0px,#fce2d3 0 298.6px,#fce0d0 0 319.2px,#fcdfce 0 339.8px,#fcddcb 0 360.4px,#fddcc9 0 381.0px,#fddbc7 0 391.3px,#fddac5 0 401.6px,#fdd8c4 0 411.9px,#fcd7c1 0 432.5px,#fcd5bf 0 442.8px,#fcd3bd 0 463.4px,#fbd0ba 0 484.0px,#fbceb7 0 504.6px,#faccb4 0 525.2px,#facab2 0 535.5px,#fac9af 0 556.1px,#fac7ad 0 576.7px,#f9c5aa 0 597.3px,#f9c3a8 0 617.9px,#f9c1a6 0 638.4px,#f8bfa3 0 659.0px,#f8bda1 0 679.6px,#f8bc9f 0 700.2px,#f8ba9d 0 720.8px,#f7b99c 0 741.4px,#f7b79a 0 772.3px,#f7b697 0 803.2px,#f7b496 0 834.1px,#f6b394 0 885.6px,#f6b192 0 1112.1px,#f6b394 0 1153.3px,#f7b596 0 1184.2px,#f7b698 0 1204.8px,#f7b79a 0 1236.7px)"></div>
<div style="top:861.47px;height:5.44px;background:linear-gradient(90deg,#f7f7f6 0 20.6px,#f7f6f5 0 30.9px,#f8f5f3 0 51.5px,#f8f3f0 0 72.1px,#f8f2ee 0 92.7px,#f8f0eb 0 113.3px,#f9efea 0 123.6px,#f9eee8 0 144.2px,#f9ede5 0 164.8px,#f9ece4 0 175.1px,#faebe2 0 195.7px,#fae9df 0 216.2px,#fae8de 0 226.5px,#fae7dc 0 247.1px,#fbe6d9 0 267.7px,#fbe4d7 0 288.3px,#fbe3d5 0 308.9px,#fce2d3 0 329.5px,#fce0d0 0 350.1px,#fcdfce 0 370.7px,#fcdecc 0 391.3px,#fdddca 0 411.9px,#fddbc8 0 432.5px,#fddac5 0 453.1px,#fcd7c2 0 473.7px,#fcd5c0 0 494.3px,#fcd4be 0 504.6px,#fcd2bc 0 525.2px,#fbd0b9 0 545.8px,#fbceb7 0 566.4px,#fbccb4 0 587.0px,#facbb3 0 597.3px,#facab1 0 617.9px,#fac8af 0 638.4px,#fac6ad 0 659.0px,#f9c5ab 0 679.6px,#f9c3a9 0 710.5px,#f9c2a7 0 731.1px,#f9c0a5 0 762.0px,#f8bfa3 0 792.9px,#f8bda1 0 823.8px,#f8bc9f 0 854.7px,#f8bb9d 0 926.8px,#f7ba9c 0 1091.5px,#f8bb9e 0 1143.0px,#f8bda0 0 1184.2px,#f8bea2 0 1215.1px,#f8c0a4 0 1236.7px)"></div>
<div style="top:856.06px;height:5.44px;background:linear-gradient(90deg,#f7f7f6 0 20.6px,#f7f5f4 0 41.2px,#f8f4f3 0 51.5px,#f8f3f1 0 72.1px,#f8f2ef 0 92.7px,#f8f1ed 0 113.3px,#f9f0ea 0 133.9px,#f9eee8 0 154.5px,#f9ede6 0 175.1px,#f9ece4 0 195.7px,#faeae2 0 216.2px,#fae9df 0 236.8px,#fae8dd 0 257.4px,#fae7db 0 278.0px,#fbe6da 0 288.3px,#fbe5d8 0 308.9px,#fbe4d6 0 329.5px,#fbe3d4 0 350.1px,#fce1d2 0 370.7px,#fce0d0 0 391.3px,#fcdfce 0 411.9px,#fcdecc 0 432.5px,#fdddca 0 453.1px,#fddcc9 0 473.7px,#fddbc7 0 494.3px,#fdd9c4 0 514.9px,#fcd8c3 0 525.2px,#fcd6c1 0 545.8px,#fcd4bf 0 566.4px,#fcd3bc 0 587.0px,#fbd1ba 0 607.6px,#fbd0b8 0 628.1px,#fbceb7 0 648.7px,#fbcdb5 0 669.3px,#facbb3 0 689.9px,#facab1 0 710.5px,#fac9b0 0 741.4px,#fac7ae 0 772.3px,#f9c5ac 0 813.5px,#f9c4a9 0 865.0px,#f9c2a7 0 947.4px,#f9c2a7 0 1081.2px,#f9c3a8 0 1132.7px,#f9c4aa 0 1163.6px,#f9c5ab 0 1204.8px,#fac7ad 0 1236.7px)"></div>
<div style="top:850.64px;height:5.44px;background:linear-gradient(90deg,#f7f7f7 0 20.6px,#f7f6f5 0 41.2px,#f8f4f3 0 61.8px,#f8f3f1 0 82.4px,#f8f2ef 0 103.0px,#f8f1ec 0 123.6px,#f9f0eb 0 144.2px,#f9efe9 0 164.8px,#f9ede7 0 185.4px,#f9ece5 0 206.0px,#faebe3 0 226.5px,#faeae1 0 247.1px,#fae9df 0 267.7px,#fae8dd 0 288.3px,#fbe6da 0 319.2px,#fbe5d8 0 339.8px,#fbe4d6 0 360.4px,#fbe3d5 0 381.0px,#fce2d2 0 411.9px,#fce0d0 0 432.5px,#fcdfcf 0 453.1px,#fcdecd 0 484.0px,#fdddca 0 514.9px,#fddcc8 0 535.5px,#fddbc7 0 556.1px,#fdd9c5 0 576.7px,#fcd8c3 0 597.3px,#fcd6c1 0 617.9px,#fcd5bf 0 638.4px,#fcd4bd 0 669.3px,#fbd2bb 0 689.9px,#fbd1ba 0 720.8px,#fbcfb8 0 751.7px,#fbceb6 0 772.3px,#fbccb4 0 823.8px,#facbb2 0 875.3px,#facab1 0 1143.0px,#faccb3 0 1184.2px,#fbcdb5 0 1225.4px,#fbceb7 0 1236.7px)"></div>
<div style="top:845.22px;height:5.44px;background:linear-gradient(90deg,#f7f7f7 0 20.6px,#f7f6f5 0 41.2px,#f8f4f3 0 72.1px,#f8f3f0 0 92.7px,#f8f2ee 0 113.3px,#f8f1ed 0 133.9px,#f9f0eb 0 154.5px,#f9efe9 0 185.4px,#f9ede6 0 206.0px,#f9ece5 0 226.5px,#faebe3 0 247.1px,#faeae1 0 267.7px,#fae9df 0 288.3px,#fae8de 0 308.9px,#fae7dc 0 339.8px,#fbe6da 0 360.4px,#fbe5d8 0 391.3px,#fbe4d6 0 411.9px,#fbe2d4 0 442.8px,#fce1d1 0 473.7px,#fce0cf 0 504.6px,#fcdfcd 0 535.5px,#fcdecb 0 566.4px,#fddcca 0 597.3px,#fddbc8 0 638.4px,#fddac6 0 659.0px,#fdd8c4 0 689.9px,#fcd7c2 0 731.1px,#fcd5bf 0 762.0px,#fcd4be 0 813.5px,#fcd2bc 0 854.7px,#fbd1ba 0 916.5px,#fbd0b9 0 1112.1px,#fbd2bb 0 1163.6px,#fcd3bd 0 1194.5px,#fcd4be 0 1236.7px)"></div>
<div style="top:839.81px;height:5.44px;background:linear-gradient(90deg,#f7f7f7 0 20.6px,#f7f6f5 0 51.5px,#f8f4f3 0 72.1px,#f8f3f1 0 103.0px,#f8f2ef 0 123.6px,#f8f1ec 0 154.5px,#f9f0ea 0 175.1px,#f9efe8 0 206.0px,#f9ede7 0 226.5px,#f9ece5 0 257.4px,#faebe3 0 278.0px,#faeae1 0 308.9px,#fae9de 0 339.8px,#fae7dc 0 370.7px,#fbe6da 0 391.3px,#fbe5d9 0 422.2px,#fbe4d7 0 453.1px,#fbe3d5 0 484.0px,#fce2d3 0 525.2px,#fce1d0 0 556.1px,#fcdfcf 0 597.3px,#fcdecc 0 638.4px,#fdddcb 0 679.6px,#fddcc9 0 741.4px,#fddbc6 0 792.9px,#fdd9c5 0 834.1px,#fdd8c3 0 885.6px,#fcd7c2 0 1143.0px,#fdd9c4 0 1194.5px,#fddac6 0 1225.4px,#fddbc7 0 1236.7px)"></div>
<div style="top:834.39px;height:5.44px;background:linear-gradient(90deg,#f7f7f6 0 30.9px,#f7f6f4 0 51.5px,#f8f4f3 0 82.4px,#f8f3f1 0 113.3px,#f8f2ee 0 144.2px,#f8f1ed 0 164.8px,#f9f0eb 0 195.7px,#f9efe9 0 226.5px,#f9ede7 0 257.4px,#f9ece4 0 288.3px,#faebe2 0 319.2px,#faeae0 0 350.1px,#fae9df 0 381.0px,#fae8dd 0 411.9px,#fbe6da 0 453.1px,#fbe5d8 0 484.0px,#fbe4d6 0 525.2px,#fbe3d4 0 566.4px,#fce2d2 0 607.6px,#fce0d0 0 659.0px,#fcdfce 0 710.5px,#fcdecc 0 782.6px,#fdddca 0 875.3px,#fddcc9 0 1173.9px,#fcddcb 0 1236.7px)"></div>
<div style="top:828.98px;height:5.44px;background:linear-gradient(90deg,#f7f7f6 0 30.9px,#f7f6f4 0 61.8px,#f8f4f3 0 92.7px,#f8f3f1 0 123.6px,#f8f2ef 0 154.5px,#f8f1ed 0 195.7px,#f9f0ea 0 226.5px,#f9efe8 0 257.4px,#f9ede7 0 288.3px,#f9ece5 0 329.5px,#faebe2 0 360.4px,#faeae0 0 401.6px,#fae9de 0 442.8px,#fae8dc 0 473.7px,#fbe6da 0 525.2px,#fbe5d8 0 566.4px,#fbe4d6 0 617.9px,#fbe3d4 0 669.3px,#fce2d2 0 741.4px,#fce1d0 0 823.8px,#fcdfcf 0 1215.1px,#fce1d1 0 1236.7px)"></div>
<div style="top:823.56px;height:5.44px;background:linear-gradient(90deg,#f7f7f6 0 30.9px,#f7f6f4 0 72.1px,#f8f4f3 0 103.0px,#f8f3f1 0 144.2px,#f8f2ee 0 185.4px,#f8f1ec 0 216.2px,#f9f0eb 0 257.4px,#f9eee8 0 298.6px,#f9ede6 0 339.8px,#f9ece4 0 381.0px,#faebe2 0 422.2px,#faeae0 0 463.4px,#fae9de 0 514.9px,#fae7dc 0 566.4px,#fbe6da 0 617.9px,#fbe5d8 0 689.9px,#fbe4d6 0 762.0px,#fbe3d4 0 895.9px,#fbe2d3 0 1184.2px,#fbe3d5 0 1236.7px)"></div>
<div style="top:818.14px;height:5.44px;background:linear-gradient(90deg,#f7f7f6 0 41.2px,#f7f5f4 0 82.4px,#f8f4f2 0 123.6px,#f8f3f0 0 164.8px,#f8f2ef 0 206.0px,#f8f1ec 0 257.4px,#f9f0ea 0 298.6px,#f9efe9 0 339.8px,#f9ede7 0 391.3px,#f9ece5 0 442.8px,#faebe3 0 494.3px,#faeae0 0 556.1px,#fae9de 0 617.9px,#fae7dc 0 700.2px,#fbe6da 0 792.9px,#fbe5d8 0 1236.7px)"></div>
<div style="top:812.73px;height:5.44px;background:linear-gradient(90deg,#f7f7f6 0 41.2px,#f7f6f5 0 92.7px,#f8f4f2 0 144.2px,#f8f3f0 0 195.7px,#f8f2ee 0 247.1px,#f8f1ec 0 298.6px,#f9f0eb 0 350.1px,#f9efe8 0 411.9px,#f9ede6 0 473.7px,#f9ece4 0 535.5px,#faebe3 0 607.6px,#faeae0 0 700.2px,#fae9de 0 823.8px,#fae8dd 0 1236.7px)"></div>
<div style="top:807.31px;height:5.44px;background:linear-gradient(90deg,#f7f7f6 0 51.5px,#f7f6f4 0 113.3px,#f8f4f2 0 175.1px,#f8f3f0 0 236.8px,#f8f2ee 0 298.6px,#f8f1ec 0 360.4px,#f9f0ea 0 432.5px,#f9efe8 0 504.6px,#f9ede7 0 587.0px,#f9ece5 0 689.9px,#faebe2 0 834.1px,#faeae1 0 1236.7px)"></div>
<div style="top:801.89px;height:5.44px;background:linear-gradient(90deg,#f7f7f6 0 61.8px,#f7f6f5 0 133.9px,#f8f4f2 0 216.2px,#f8f3f0 0 288.3px,#f8f2ee 0 370.7px,#f8f1ed 0 453.1px,#f9f0eb 0 556.1px,#f9efe8 0 669.3px,#f9ede6 0 844.4px,#f9ede5 0 1236.7px)"></div>
<div style="top:796.48px;height:5.44px;background:linear-gradient(90deg,#f7f7f6 0 82.4px,#f7f6f4 0 175.1px,#f8f4f2 0 278.0px,#f8f3f0 0 381.0px,#f8f2ee 0 494.3px,#f8f1ec 0 628.1px,#f9f0ea 0 834.1px,#f9efe9 0 1236.7px)"></div>
<div style="top:791.06px;height:5.44px;background:linear-gradient(90deg,#f7f7f6 0 103.0px,#f7f6f5 0 247.1px,#f8f4f2 0 391.3px,#f8f3f0 0 556.1px,#f8f2ee 0 772.3px,#f8f1ed 0 1236.7px)"></div>
<div style="top:785.64px;height:5.44px;background:linear-gradient(90deg,#f7f7f6 0 175.1px,#f7f6f4 0 401.6px,#f8f4f2 0 679.6px,#f8f3f1 0 1236.7px)"></div>
<div style="top:780.23px;height:5.44px;background:linear-gradient(90deg,#f7f7f6 0 422.2px,#f7f5f4 0 1204.8px,#f7f5f3 0 1236.7px)"></div>
<div style="top:774.81px;height:5.44px;background:linear-gradient(90deg,#f7f7f7 0 1236.7px)"></div>
<div style="top:769.39px;height:5.44px;background:linear-gradient(90deg,#f6f7f7 0 298.6px,#f5f6f7 0 1236.7px)"></div>
<div style="top:763.98px;height:5.44px;background:linear-gradient(90deg,#f6f7f7 0 175.1px,#f4f6f7 0 411.9px,#f2f5f6 0 1236.7px)"></div>
<div style="top:758.56px;height:5.44px;background:linear-gradient(90deg,#f6f7f7 0 123.6px,#f4f6f7 0 288.3px,#f2f5f6 0 473.7px,#f0f4f6 0 772.3px,#f0f3f6 0 1236.7px)"></div>
<div style="top:753.14px;height:5.44px;background:linear-gradient(90deg,#f6f7f7 0 92.7px,#f5f6f7 0 216.2px,#f3f5f6 0 350.1px,#f1f4f6 0 504.6px,#eef3f5 0 741.4px,#edf2f5 0 1236.7px)"></div>
<div style="top:747.73px;height:5.44px;background:linear-gradient(90deg,#f6f7f7 0 82.4px,#f4f6f7 0 185.4px,#f2f5f6 0 288.3px,#f0f4f6 0 401.6px,#eef3f5 0 535.5px,#ecf2f5 0 731.1px,#ebf1f5 0 1236.7px)"></div>
<div style="top:742.31px;height:5.44px;background:linear-gradient(90deg,#f6f7f7 0 72.1px,#f5f6f7 0 154.5px,#f3f5f6 0 247.1px,#f0f4f6 0 339.8px,#eef3f5 0 442.8px,#ecf2f5 0 566.4px,#eaf1f5 0 731.1px,#e9f0f4 0 1236.7px)"></div>
<div style="top:736.90px;height:5.44px;background:linear-gradient(90deg,#f6f7f7 0 61.8px,#f5f6f7 0 133.9px,#f3f5f6 0 216.2px,#f0f4f6 0 298.6px,#eef3f5 0 381.0px,#edf2f5 0 473.7px,#eaf1f5 0 587.0px,#e8f0f4 0 741.4px,#e7eff4 0 1236.7px)"></div>
<div style="top:731.48px;height:5.44px;background:linear-gradient(90deg,#f6f7f7 0 51.5px,#f5f6f7 0 123.6px,#f2f5f6 0 195.7px,#f0f4f6 0 267.7px,#eef3f5 0 339.8px,#ecf2f5 0 422.2px,#eaf1f5 0 504.6px,#e9f0f4 0 607.6px,#e6eff4 0 762.0px,#e5eff4 0 1225.4px,#e7eff4 0 1236.7px)"></div>
<div style="top:726.06px;height:5.44px;background:linear-gradient(90deg,#f6f7f7 0 51.5px,#f5f6f7 0 113.3px,#f3f5f6 0 175.1px,#f1f4f6 0 236.8px,#eef3f5 0 308.9px,#ecf2f5 0 370.7px,#eaf1f5 0 453.1px,#e8f0f4 0 535.5px,#e6eff4 0 638.4px,#e4eef4 0 782.6px,#e3eef3 0 1204.8px,#e5eef4 0 1236.7px)"></div>
<div style="top:720.65px;height:5.44px;background:linear-gradient(90deg,#f6f7f7 0 51.5px,#f4f6f7 0 103.0px,#f2f5f6 0 164.8px,#f1f4f6 0 216.2px,#eff3f5 0 278.0px,#edf2f5 0 339.8px,#eaf1f5 0 411.9px,#e8f0f4 0 484.0px,#e6eff4 0 556.1px,#e4eef4 0 659.0px,#e2edf3 0 803.2px,#e1edf3 0 1184.2px,#e3edf3 0 1236.7px)"></div>
<div style="top:715.23px;height:5.44px;background:linear-gradient(90deg,#f6f7f7 0 41.2px,#f5f6f7 0 92.7px,#f3f5f6 0 154.5px,#f0f4f6 0 206.0px,#eef3f5 0 257.4px,#ecf2f5 0 319.2px,#eaf1f5 0 370.7px,#e8f0f4 0 442.8px,#e6eff4 0 504.6px,#e4eef4 0 587.0px,#e2edf3 0 679.6px,#e0ecf3 0 834.1px,#dfecf3 0 1163.6px,#e1edf3 0 1236.7px)"></div>
<div style="top:709.81px;height:5.44px;background:linear-gradient(90deg,#f6f7f7 0 41.2px,#f4f6f7 0 92.7px,#f2f5f6 0 144.2px,#f0f4f6 0 195.7px,#eef3f5 0 236.8px,#ecf2f5 0 298.6px,#eaf1f5 0 350.1px,#e9f0f4 0 401.6px,#e7eff4 0 463.4px,#e5eef4 0 535.5px,#e3edf3 0 607.6px,#e0ecf3 0 710.5px,#deebf2 0 875.3px,#deebf2 0 1143.0px,#dfecf3 0 1236.7px)"></div>
<div style="top:704.40px;height:5.44px;background:linear-gradient(90deg,#f6f7f7 0 41.2px,#f5f6f7 0 82.4px,#f3f5f6 0 133.9px,#f1f4f6 0 175.1px,#eff3f5 0 226.5px,#ecf2f5 0 278.0px,#eaf1f5 0 329.5px,#e8f0f4 0 381.0px,#e6eff4 0 432.5px,#e5eef4 0 494.3px,#e3edf3 0 556.1px,#e1ecf3 0 638.4px,#deebf2 0 741.4px,#dceaf2 0 1236.7px)"></div>
<div style="top:698.98px;height:5.44px;background:linear-gradient(90deg,#f6f7f7 0 41.2px,#f4f6f7 0 82.4px,#f3f5f6 0 123.6px,#f0f4f6 0 175.1px,#eef3f5 0 216.2px,#edf2f5 0 257.4px,#ebf1f5 0 308.9px,#e8f0f4 0 360.4px,#e6eff4 0 411.9px,#e4eef4 0 463.4px,#e2edf3 0 525.2px,#e0ecf3 0 587.0px,#deebf2 0 669.3px,#dceaf2 0 772.3px,#dbeaf2 0 1204.8px,#ddebf2 0 1236.7px)"></div>
<div style="top:693.56px;height:5.44px;background:linear-gradient(90deg,#f6f7f7 0 41.2px,#f4f6f7 0 82.4px,#f2f5f6 0 123.6px,#f0f4f6 0 164.8px,#eef3f5 0 206.0px,#ecf2f5 0 247.1px,#ebf1f5 0 288.3px,#e9f0f4 0 339.8px,#e7eff4 0 381.0px,#e5eef4 0 432.5px,#e2edf3 0 494.3px,#e0ecf3 0 545.8px,#deebf2 0 617.9px,#dceaf2 0 700.2px,#dae9f2 0 813.5px,#d9e9f1 0 1173.9px,#dbeaf2 0 1236.7px)"></div>
<div style="top:688.15px;height:5.44px;background:linear-gradient(90deg,#f6f7f7 0 30.9px,#f5f6f7 0 72.1px,#f3f5f6 0 113.3px,#f1f4f6 0 154.5px,#eff3f5 0 195.7px,#ecf2f5 0 236.8px,#eaf1f5 0 278.0px,#e9f0f4 0 319.2px,#e6eff4 0 370.7px,#e4eef4 0 411.9px,#e3edf3 0 463.4px,#e1ecf3 0 514.9px,#deebf2 0 576.7px,#ddeaf2 0 638.4px,#dae9f2 0 731.1px,#d8e8f1 0 865.0px,#d7e8f1 0 1143.0px,#d9e9f2 0 1236.7px)"></div>
<div style="top:682.73px;height:5.44px;background:linear-gradient(90deg,#f6f7f7 0 30.9px,#f5f6f7 0 72.1px,#f2f5f6 0 113.3px,#f1f4f6 0 144.2px,#eff3f5 0 185.4px,#edf2f5 0 226.5px,#eaf1f5 0 267.7px,#e8f0f4 0 308.9px,#e6eff4 0 350.1px,#e5eef4 0 391.3px,#e3edf3 0 442.8px,#e0ecf3 0 494.3px,#deebf2 0 545.8px,#dceaf2 0 607.6px,#dae9f2 0 669.3px,#d9e9f1 0 762.0px,#d6e8f1 0 1204.8px,#d9e9f1 0 1236.7px)"></div>
<div style="top:677.31px;height:5.44px;background:linear-gradient(90deg,#f6f7f7 0 30.9px,#f4f6f7 0 72.1px,#f3f5f6 0 103.0px,#f1f4f6 0 144.2px,#eef3f5 0 185.4px,#ecf2f5 0 216.2px,#ebf1f5 0 257.4px,#e8f0f4 0 298.6px,#e6eff4 0 339.8px,#e4eef4 0 381.0px,#e2edf3 0 422.2px,#e1ecf3 0 463.4px,#dfebf3 0 514.9px,#ddeaf2 0 566.4px,#dbeaf2 0 628.1px,#d9e9f1 0 700.2px,#d7e8f1 0 803.2px,#d5e7f1 0 1173.9px,#d7e8f1 0 1236.7px)"></div>
<div style="top:671.90px;height:5.44px;background:linear-gradient(90deg,#f6f7f7 0 30.9px,#f4f6f7 0 72.1px,#f2f5f6 0 103.0px,#f1f4f6 0 133.9px,#eff3f5 0 175.1px,#edf2f5 0 206.0px,#ebf1f5 0 247.1px,#e8f0f4 0 288.3px,#e7eff4 0 319.2px,#e5eef4 0 360.4px,#e3edf3 0 401.6px,#e1ecf3 0 442.8px,#dfebf3 0 494.3px,#dceaf2 0 545.8px,#dae9f2 0 597.3px,#d9e9f1 0 659.0px,#d7e8f1 0 741.4px,#d4e7f1 0 865.0px,#d3e6f0 0 1132.7px,#d5e7f1 0 1225.4px,#d7e8f1 0 1236.7px)"></div>
<div style="top:666.48px;height:5.44px;background:linear-gradient(90deg,#f6f7f7 0 30.9px,#f5f6f7 0 61.8px,#f3f5f6 0 103.0px,#f0f4f6 0 133.9px,#eff3f5 0 164.8px,#edf2f5 0 206.0px,#eaf1f5 0 236.8px,#e8f0f4 0 278.0px,#e7eff4 0 308.9px,#e5eef4 0 350.1px,#e2edf3 0 391.3px,#e0ecf3 0 432.5px,#deebf2 0 473.7px,#dceaf2 0 525.2px,#dae9f2 0 576.7px,#d8e9f1 0 628.1px,#d6e8f1 0 700.2px,#d4e7f1 0 782.6px,#d3e6f0 0 1194.5px,#d5e7f1 0 1236.7px)"></div>
<div style="top:661.07px;height:5.44px;background:linear-gradient(90deg,#f6f7f7 0 30.9px,#f5f6f7 0 61.8px,#f3f5f6 0 92.7px,#f1f4f6 0 133.9px,#eef3f5 0 164.8px,#edf2f5 0 195.7px,#eaf1f5 0 236.8px,#e8f0f4 0 267.7px,#e7eff4 0 298.6px,#e5eef4 0 339.8px,#e2edf3 0 381.0px,#e0ecf3 0 411.9px,#dfebf3 0 453.1px,#ddeaf2 0 504.6px,#dae9f2 0 545.8px,#d9e9f1 0 597.3px,#d7e8f1 0 659.0px,#d4e7f1 0 731.1px,#d2e6f0 0 834.1px,#d1e5f0 0 1153.3px,#d4e6f0 0 1236.7px)"></div>
<div style="top:655.65px;height:5.44px;background:linear-gradient(90deg,#f6f7f7 0 30.9px,#f4f6f7 0 61.8px,#f3f5f6 0 92.7px,#f1f4f6 0 123.6px,#eff3f5 0 154.5px,#edf2f5 0 195.7px,#eaf1f5 0 226.5px,#e9f0f4 0 257.4px,#e6eff4 0 298.6px,#e4eef4 0 329.5px,#e3edf3 0 360.4px,#e1ecf3 0 401.6px,#dfebf2 0 442.8px,#dceaf2 0 484.0px,#dbeaf2 0 525.2px,#d9e9f1 0 576.7px,#d7e8f1 0 628.1px,#d5e7f1 0 689.9px,#d3e6f0 0 772.3px,#d1e5f0 0 865.0px,#cfe4ef 0 1112.1px,#d2e5f0 0 1194.5px,#d3e6f0 0 1236.7px)"></div>
<div style="top:650.23px;height:5.44px;background:linear-gradient(90deg,#f6f7f7 0 30.9px,#f4f6f7 0 61.8px,#f2f5f6 0 92.7px,#f0f4f6 0 123.6px,#eff3f5 0 154.5px,#edf2f5 0 185.4px,#ebf1f5 0 216.2px,#e8f0f4 0 257.4px,#e6eff4 0 288.3px,#e4eef4 0 319.2px,#e3edf3 0 350.1px,#e1ecf3 0 391.3px,#deebf2 0 432.5px,#dceaf2 0 473.7px,#dae9f2 0 514.9px,#d8e9f1 0 556.1px,#d6e8f1 0 607.6px,#d5e7f1 0 659.0px,#d3e6f0 0 731.1px,#d1e5f0 0 792.9px,#cee4ef 0 875.3px,#cde3ef 0 1101.8px,#cfe4f0 0 1163.6px,#d2e5f0 0 1236.7px)"></div>
<div style="top:644.82px;height:5.44px;background:linear-gradient(90deg,#f6f7f7 0 30.9px,#f4f6f7 0 61.8px,#f2f5f6 0 92.7px,#f0f4f6 0 123.6px,#eef3f5 0 154.5px,#ecf2f5 0 185.4px,#eaf1f5 0 216.2px,#e8f0f4 0 247.1px,#e6eff4 0 278.0px,#e5eef4 0 308.9px,#e2edf3 0 350.1px,#e0ecf3 0 381.0px,#deebf2 0 422.2px,#dceaf2 0 453.1px,#dbeaf2 0 494.3px,#d9e9f1 0 535.5px,#d7e8f1 0 587.0px,#d4e7f1 0 638.4px,#d2e6f0 0 700.2px,#d1e5f0 0 751.7px,#cee4ef 0 813.5px,#cce3ef 0 906.2px,#cbe2ee 0 1081.2px,#cde3ef 0 1153.3px,#d0e4f0 0 1204.8px,#d1e5f0 0 1236.7px)"></div>
<div style="top:639.40px;height:5.44px;background:linear-gradient(90deg,#f6f7f7 0 30.9px,#f4f6f6 0 61.8px,#f2f5f6 0 92.7px,#f1f4f6 0 113.3px,#eff3f5 0 144.2px,#edf2f5 0 175.1px,#ebf1f5 0 206.0px,#e9f0f4 0 236.8px,#e7eff4 0 267.7px,#e5eef4 0 308.9px,#e2edf3 0 339.8px,#e0ecf3 0 370.7px,#deebf2 0 411.9px,#dceaf2 0 442.8px,#dae9f2 0 484.0px,#d8e9f1 0 525.2px,#d7e8f1 0 566.4px,#d5e7f1 0 617.9px,#d3e6f0 0 669.3px,#d1e5f0 0 720.8px,#cee4ef 0 762.0px,#cde3ef 0 823.8px,#cae2ee 0 1143.0px,#cee3ef 0 1194.5px,#d0e4f0 0 1236.7px)"></div>
<div style="top:633.98px;height:5.44px;background:linear-gradient(90deg,#f6f7f7 0 30.9px,#f4f6f6 0 61.8px,#f2f5f6 0 82.4px,#f1f4f6 0 113.3px,#eff3f5 0 144.2px,#edf2f5 0 175.1px,#eaf1f5 0 206.0px,#e8f0f4 0 236.8px,#e6eff4 0 267.7px,#e4eef4 0 298.6px,#e3edf3 0 329.5px,#e1ecf3 0 360.4px,#deebf2 0 401.6px,#dceaf2 0 432.5px,#dae9f2 0 473.7px,#d8e8f1 0 514.9px,#d6e8f1 0 556.1px,#d4e7f1 0 597.3px,#d3e6f0 0 648.7px,#d1e5f0 0 689.9px,#cfe4ef 0 731.1px,#cce3ef 0 782.6px,#cae2ee 0 844.4px,#c9e1ee 0 1122.4px,#cbe2ee 0 1173.9px,#cde3ef 0 1215.1px,#cfe4ef 0 1236.7px)"></div>
<div style="top:628.57px;height:5.44px;background:linear-gradient(90deg,#f6f7f7 0 30.9px,#f5f6f7 0 51.5px,#f3f5f6 0 82.4px,#f1f4f6 0 113.3px,#eef3f5 0 144.2px,#ecf2f5 0 175.1px,#eaf1f5 0 206.0px,#e9f0f4 0 226.5px,#e7eff4 0 257.4px,#e5eef4 0 288.3px,#e3edf3 0 319.2px,#e1ecf3 0 360.4px,#deebf2 0 391.3px,#ddeaf2 0 422.2px,#dae9f2 0 463.4px,#d9e9f1 0 494.3px,#d7e8f1 0 535.5px,#d4e7f1 0 587.0px,#d2e6f0 0 628.1px,#d1e5f0 0 669.3px,#cee4ef 0 710.5px,#cce3ef 0 751.7px,#cae2ee 0 803.2px,#c8e1ee 0 875.3px,#c7e0ed 0 1101.8px,#cae1ee 0 1163.6px,#cce2ee 0 1204.8px,#cde3ef 0 1236.7px)"></div>
<div style="top:623.15px;height:5.44px;background:linear-gradient(90deg,#f6f7f7 0 30.9px,#f4f6f7 0 51.5px,#f3f5f6 0 82.4px,#f0f4f6 0 113.3px,#eef3f5 0 144.2px,#edf2f5 0 164.8px,#ebf1f5 0 195.7px,#e9f0f4 0 226.5px,#e7eff4 0 257.4px,#e4eef4 0 288.3px,#e2edf3 0 319.2px,#e0ecf3 0 350.1px,#dfebf2 0 381.0px,#ddebf2 0 411.9px,#dbeaf2 0 453.1px,#d9e9f1 0 484.0px,#d7e8f1 0 525.2px,#d5e7f1 0 566.4px,#d2e6f0 0 617.9px,#d1e5f0 0 648.7px,#cfe4ef 0 679.6px,#cde3ef 0 720.8px,#cbe2ee 0 762.0px,#c9e1ee 0 823.8px,#c6e0ed 0 937.1px,#c6dfed 0 1070.9px,#c7e0ed 0 1143.0px,#c9e1ee 0 1184.2px,#cbe2ee 0 1225.4px,#cde3ef 0 1236.7px)"></div>
<div style="top:617.73px;height:5.44px;background:linear-gradient(90deg,#f6f7f7 0 30.9px,#f4f6f7 0 51.5px,#f3f5f6 0 82.4px,#f0f4f6 0 113.3px,#eff3f5 0 133.9px,#edf2f5 0 164.8px,#ebf1f5 0 195.7px,#e8f0f4 0 226.5px,#e6eff4 0 257.4px,#e4eef4 0 278.0px,#e3edf3 0 308.9px,#e1ecf3 0 339.8px,#dfecf3 0 370.7px,#ddeaf2 0 411.9px,#dae9f2 0 442.8px,#d9e9f1 0 473.7px,#d7e8f1 0 514.9px,#d5e7f1 0 556.1px,#d3e6f0 0 597.3px,#d1e5f0 0 638.4px,#cee4ef 0 669.3px,#cce3ef 0 700.2px,#cae2ee 0 741.4px,#c8e1ee 0 792.9px,#c6e0ed 0 854.7px,#c5dfed 0 1112.1px,#c7e0ed 0 1173.9px,#cae1ee 0 1215.1px,#cbe2ee 0 1236.7px)"></div>
<div style="top:612.32px;height:5.44px;background:linear-gradient(90deg,#f6f7f7 0 30.9px,#f4f6f7 0 51.5px,#f3f5f6 0 82.4px,#f0f4f6 0 113.3px,#eef3f5 0 133.9px,#edf2f5 0 164.8px,#eaf1f5 0 195.7px,#e9f0f4 0 216.2px,#e7eff4 0 247.1px,#e5eef4 0 278.0px,#e2edf3 0 308.9px,#e0ecf3 0 339.8px,#deebf2 0 370.7px,#dceaf2 0 401.6px,#dbeaf2 0 432.5px,#d8e9f1 0 473.7px,#d6e8f1 0 504.6px,#d5e7f1 0 545.8px,#d3e6f0 0 587.0px,#d1e5f0 0 617.9px,#cfe4ef 0 648.7px,#cde3ef 0 679.6px,#cbe2ee 0 720.8px,#c8e1ee 0 762.0px,#c6e0ed 0 813.5px,#c4dfec 0 895.9px,#c3deec 0 1081.2px,#c5dfed 0 1143.0px,#c7e0ed 0 1194.5px,#cae1ee 0 1236.7px)"></div>
<div style="top:606.90px;height:5.44px;background:linear-gradient(90deg,#f7f7f7 0 20.6px,#f5f6f7 0 51.5px,#f2f5f6 0 82.4px,#f1f4f6 0 103.0px,#eff3f5 0 133.9px,#ecf2f5 0 164.8px,#ebf1f5 0 185.4px,#e9f0f4 0 216.2px,#e6eff4 0 247.1px,#e4eef4 0 278.0px,#e3edf3 0 298.6px,#e1ecf3 0 329.5px,#dfecf3 0 360.4px,#ddebf2 0 391.3px,#dbeaf2 0 432.5px,#d8e8f1 0 463.4px,#d7e8f1 0 494.3px,#d5e7f1 0 535.5px,#d3e6f0 0 576.7px,#d1e5f0 0 607.6px,#cee4ef 0 638.4px,#cce3ef 0 669.3px,#cae2ee 0 700.2px,#c8e1ee 0 741.4px,#c7e0ed 0 782.6px,#c5dfec 0 844.4px,#c3deec 0 1122.4px,#c6dfed 0 1173.9px,#c8e0ed 0 1215.1px,#c9e1ee 0 1236.7px)"></div>
<div style="top:601.48px;height:5.44px;background:linear-gradient(90deg,#f7f7f7 0 20.6px,#f5f6f7 0 51.5px,#f2f5f6 0 82.4px,#f0f4f6 0 103.0px,#eff3f5 0 133.9px,#ecf2f5 0 164.8px,#eaf1f5 0 185.4px,#e9f0f4 0 216.2px,#e6eff4 0 247.1px,#e4eef4 0 267.7px,#e3edf3 0 298.6px,#e1ecf3 0 329.5px,#deebf2 0 360.4px,#dceaf2 0 391.3px,#dae9f2 0 422.2px,#d9e9f1 0 453.1px,#d6e8f1 0 494.3px,#d4e7f1 0 525.2px,#d3e6f0 0 566.4px,#d1e5f0 0 597.3px,#cee4ef 0 628.1px,#cce3ef 0 659.0px,#cae2ee 0 689.9px,#c8e1ee 0 720.8px,#c7e0ed 0 762.0px,#c5dfec 0 813.5px,#c2deec 0 895.9px,#c1ddec 0 1081.2px,#c3deec 0 1143.0px,#c5dfed 0 1194.5px,#c7e0ed 0 1225.4px,#c9e1ee 0 1236.7px)"></div>
<div style="top:596.07px;height:5.44px;background:linear-gradient(90deg,#f7f7f7 0 20.6px,#f5f6f7 0 51.5px,#f2f5f6 0 82.4px,#f0f4f6 0 103.0px,#eef3f5 0 133.9px,#edf2f5 0 154.5px,#ebf1f5 0 185.4px,#e8f0f4 0 216.2px,#e6eff4 0 236.8px,#e5eef4 0 267.7px,#e2edf3 0 298.6px,#e0ecf3 0 329.5px,#dfebf2 0 350.1px,#ddebf2 0 381.0px,#dae9f2 0 422.2px,#d8e8f1 0 453.1px,#d6e8f1 0 484.0px,#d4e7f1 0 525.2px,#d2e6f0 0 556.1px,#d1e5f0 0 587.0px,#cee4ef 0 617.9px,#cde3ef 0 638.4px,#cbe2ee 0 669.3px,#c9e1ee 0 710.5px,#c7e0ed 0 741.4px,#c5dfec 0 792.9px,#c2deec 0 854.7px,#c1ddeb 0 1112.1px,#c3deec 0 1163.6px,#c5dfed 0 1204.8px,#c7e0ed 0 1236.7px)"></div>
<div style="top:590.65px;height:5.44px;background:linear-gradient(90deg,#f7f7f7 0 20.6px,#f5f6f7 0 51.5px,#f2f5f6 0 82.4px,#f0f4f6 0 103.0px,#eef3f5 0 133.9px,#ecf2f5 0 154.5px,#ebf1f5 0 185.4px,#e9f0f4 0 206.0px,#e7eff4 0 236.8px,#e4eef4 0 267.7px,#e3edf3 0 288.3px,#e1ecf3 0 319.2px,#dfebf3 0 350.1px,#ddeaf2 0 381.0px,#dbeaf2 0 411.9px,#d9e9f1 0 442.8px,#d7e8f1 0 473.7px,#d5e7f1 0 514.9px,#d2e6f0 0 556.1px,#d1e5f0 0 576.7px,#cfe4ef 0 607.6px,#cce3ef 0 638.4px,#cae2ee 0 659.0px,#c8e1ee 0 700.2px,#c6e0ed 0 731.1px,#c5dfec 0 772.3px,#c3deec 0 823.8px,#c0ddeb 0 926.8px,#c0dceb 0 1070.9px,#c1ddec 0 1132.7px,#c3deec 0 1184.2px,#c6dfed 0 1225.4px,#c7e0ed 0 1236.7px)"></div>
<div style="top:585.24px;height:5.44px;background:linear-gradient(90deg,#f7f7f7 0 20.6px,#f5f6f7 0 51.5px,#f3f5f6 0 72.1px,#f1f4f6 0 103.0px,#eef3f5 0 133.9px,#ecf2f5 0 154.5px,#eaf1f5 0 185.4px,#e8f0f4 0 206.0px,#e7eff4 0 236.8px,#e4eef4 0 267.7px,#e2edf3 0 288.3px,#e1ecf3 0 319.2px,#deebf2 0 350.1px,#dceaf2 0 381.0px,#dae9f2 0 411.9px,#d8e8f1 0 442.8px,#d6e8f1 0 473.7px,#d5e7f1 0 504.6px,#d3e6f0 0 545.8px,#d0e5f0 0 576.7px,#cee4ef 0 597.3px,#cce3ef 0 628.1px,#cbe2ee 0 648.7px,#c9e1ee 0 679.6px,#c7e0ed 0 720.8px,#c4dfec 0 762.0px,#c2deec 0 803.2px,#c1ddeb 0 875.3px,#bfdceb 0 1101.8px,#c2ddec 0 1153.3px,#c3deec 0 1194.5px,#c5dfed 0 1236.7px)"></div>
<div style="top:579.82px;height:5.44px;background:linear-gradient(90deg,#f7f7f7 0 20.6px,#f5f6f7 0 51.5px,#f3f5f6 0 72.1px,#f1f4f6 0 103.0px,#eff3f5 0 123.6px,#edf2f5 0 154.5px,#eaf1f5 0 185.4px,#e8f0f4 0 206.0px,#e6eff4 0 236.8px,#e5eef4 0 257.4px,#e3edf3 0 288.3px,#e0ecf3 0 319.2px,#deebf2 0 350.1px,#dceaf2 0 370.7px,#dbeaf2 0 401.6px,#d9e9f1 0 432.5px,#d6e8f1 0 473.7px,#d4e7f1 0 504.6px,#d3e6f0 0 535.5px,#d1e5f0 0 566.4px,#cfe4ef 0 587.0px,#cde3ef 0 617.9px,#cae2ee 0 648.7px,#c8e1ee 0 679.6px,#c6e0ed 0 710.5px,#c4dfec 0 751.7px,#c2deec 0 792.9px,#c0ddeb 0 854.7px,#bfdceb 0 1112.1px,#c1ddec 0 1163.6px,#c3deec 0 1204.8px,#c5dfed 0 1236.7px)"></div>
<div style="top:574.40px;height:5.44px;background:linear-gradient(90deg,#f7f7f7 0 20.6px,#f5f6f7 0 51.5px,#f3f5f6 0 72.1px,#f1f4f6 0 103.0px,#eff3f5 0 123.6px,#edf2f5 0 154.5px,#ebf1f5 0 175.1px,#e9f0f4 0 206.0px,#e6eff4 0 236.8px,#e4eef4 0 257.4px,#e2edf3 0 288.3px,#e0ecf3 0 319.2px,#deebf2 0 339.8px,#ddebf2 0 370.7px,#dbeaf2 0 401.6px,#d9e9f1 0 432.5px,#d7e8f1 0 463.4px,#d4e7f1 0 504.6px,#d2e6f0 0 535.5px,#d0e5f0 0 566.4px,#cee4ef 0 587.0px,#cde3ef 0 607.6px,#cbe2ee 0 638.4px,#c8e1ee 0 669.3px,#c6e0ed 0 700.2px,#c4dfec 0 741.4px,#c2deec 0 782.6px,#c0ddeb 0 834.1px,#bedbeb 0 947.4px,#bedbea 0 1060.6px,#bfdceb 0 1132.7px,#c1ddec 0 1173.9px,#c3deec 0 1215.1px,#c5dfed 0 1236.7px)"></div>
<div style="top:568.99px;height:5.44px;background:linear-gradient(90deg,#f7f7f7 0 20.6px,#f5f6f7 0 51.5px,#f3f5f6 0 72.1px,#f1f4f6 0 103.0px,#eff3f5 0 123.6px,#edf2f5 0 154.5px,#ebf1f5 0 175.1px,#e9f0f4 0 206.0px,#e7eff4 0 226.5px,#e5eef4 0 257.4px,#e2edf3 0 288.3px,#e1ecf3 0 308.9px,#dfebf3 0 339.8px,#dceaf2 0 370.7px,#dae9f2 0 401.6px,#d8e8f1 0 432.5px,#d6e8f1 0 463.4px,#d5e7f1 0 494.3px,#d2e6f0 0 535.5px,#d1e5f0 0 556.1px,#cee4ef 0 587.0px,#cce3ef 0 607.6px,#cae2ee 0 638.4px,#c8e1ee 0 659.0px,#c7e0ed 0 689.9px,#c5dfec 0 731.1px,#c2deec 0 772.3px,#c0ddeb 0 823.8px,#bedceb 0 895.9px,#bddbea 0 1081.2px,#bfdceb 0 1143.0px,#c1ddec 0 1184.2px,#c3deec 0 1225.4px,#c5dfed 0 1236.7px)"></div>
<div style="top:563.57px;height:5.44px;background:linear-gradient(90deg,#f7f7f7 0 20.6px,#f5f6f7 0 51.5px,#f3f5f6 0 72.1px,#f1f4f6 0 103.0px,#eff3f5 0 123.6px,#edf2f5 0 154.5px,#ebf1f5 0 175.1px,#e9f0f4 0 206.0px,#e7eff4 0 226.5px,#e5eef4 0 257.4px,#e2edf3 0 288.3px,#e0ecf3 0 308.9px,#dfebf2 0 339.8px,#dceaf2 0 370.7px,#dae9f2 0 401.6px,#d8e8f1 0 432.5px,#d6e7f1 0 463.4px,#d4e7f1 0 494.3px,#d3e6f0 0 525.2px,#d1e5f0 0 556.1px,#cee4ef 0 576.7px,#cce3ef 0 607.6px,#cae2ee 0 628.1px,#c8e1ee 0 659.0px,#c6e0ed 0 689.9px,#c4dfec 0 720.8px,#c2deec 0 762.0px,#c0ddeb 0 813.5px,#bedceb 0 875.3px,#bddbea 0 1091.5px,#bfdceb 0 1153.3px,#c1ddec 0 1194.5px,#c4deec 0 1236.7px)"></div>
<div style="top:558.15px;height:5.44px;background:linear-gradient(90deg,#f7f7f7 0 20.6px,#f5f6f7 0 51.5px,#f3f5f6 0 72.1px,#f1f4f6 0 103.0px,#eef3f5 0 123.6px,#ecf2f5 0 154.5px,#eaf1f5 0 175.1px,#e8f0f4 0 206.0px,#e6eff4 0 226.5px,#e5eef4 0 257.4px,#e3edf3 0 278.0px,#e1ecf3 0 308.9px,#deebf2 0 339.8px,#dceaf2 0 370.7px,#dbeaf2 0 391.3px,#d9e9f1 0 422.2px,#d7e8f1 0 453.1px,#d5e7f1 0 494.3px,#d2e6f0 0 525.2px,#d0e5f0 0 556.1px,#cee4ef 0 576.7px,#cde3ef 0 597.3px,#cbe2ee 0 628.1px,#c9e1ee 0 648.7px,#c7e0ed 0 679.6px,#c5dfec 0 720.8px,#c2deec 0 751.7px,#c1ddeb 0 803.2px,#bedceb 0 865.0px,#bddbea 0 1101.8px,#bfdceb 0 1163.6px,#c2ddec 0 1204.8px,#c4deec 0 1236.7px)"></div>
<div style="top:552.74px;height:5.44px;background:linear-gradient(90deg,#f7f7f7 0 20.6px,#f5f6f7 0 51.5px,#f3f5f6 0 72.1px,#f1f4f6 0 103.0px,#eef3f5 0 123.6px,#ecf2f5 0 154.5px,#eaf1f5 0 175.1px,#e8f0f4 0 206.0px,#e6eff4 0 226.5px,#e4eef4 0 257.4px,#e3edf3 0 278.0px,#e1ecf3 0 308.9px,#deebf2 0 339.8px,#ddeaf2 0 360.4px,#dbeaf2 0 391.3px,#d9e9f1 0 422.2px,#d7e8f1 0 453.1px,#d4e7f1 0 494.3px,#d2e6f0 0 525.2px,#d1e5f0 0 545.8px,#cfe4ef 0 576.7px,#cce3ef 0 597.3px,#cae2ee 0 628.1px,#c8e1ee 0 648.7px,#c7e0ed 0 679.6px,#c5dfec 0 710.5px,#c3deec 0 751.7px,#c1ddeb 0 792.9px,#bfdceb 0 854.7px,#bddbea 0 1112.1px,#bfdceb 0 1163.6px,#c1ddec 0 1204.8px,#c3deec 0 1236.7px)"></div>
<div style="top:547.32px;height:5.44px;background:linear-gradient(90deg,#f7f7f7 0 20.6px,#f5f6f7 0 51.5px,#f3f5f6 0 72.1px,#f0f4f6 0 103.0px,#eef3f5 0 123.6px,#ecf2f5 0 154.5px,#eaf1f5 0 175.1px,#e8f0f4 0 206.0px,#e6eff4 0 226.5px,#e4eef4 0 257.4px,#e3edf3 0 278.0px,#e1ecf3 0 308.9px,#deebf2 0 339.8px,#ddeaf2 0 360.4px,#dbeaf2 0 391.3px,#d9e9f1 0 422.2px,#d7e8f1 0 453.1px,#d5e7f1 0 484.0px,#d3e6f0 0 525.2px,#d1e5f0 0 545.8px,#cee4ef 0 576.7px,#cce3ef 0 597.3px,#cbe2ee 0 617.9px,#c9e1ee 0 648.7px,#c6e0ed 0 679.6px,#c4dfec 0 710.5px,#c2deec 0 751.7px,#c0ddeb 0 792.9px,#bedceb 0 854.7px,#bddbea 0 1112.1px,#bfdceb 0 1163.6px,#c1ddec 0 1204.8px,#c3deec 0 1236.7px)"></div>
<div style="top:541.90px;height:5.44px;background:linear-gradient(90deg,#f7f7f7 0 20.6px,#f5f6f7 0 51.5px,#f3f5f6 0 72.1px,#f0f4f6 0 103.0px,#eef3f5 0 123.6px,#ecf2f5 0 154.5px,#eaf1f5 0 175.1px,#e8f0f4 0 206.0px,#e6eff4 0 226.5px,#e4eef4 0 257.4px,#e3edf3 0 278.0px,#e1ecf3 0 308.9px,#deebf2 0 339.8px,#ddeaf2 0 360.4px,#dbeaf2 0 391.3px,#d9e9f1 0 422.2px,#d7e8f1 0 453.1px,#d5e7f1 0 484.0px,#d3e6f0 0 525.2px,#d1e5f0 0 545.8px,#cee4ef 0 576.7px,#cce3ef 0 597.3px,#cbe2ee 0 617.9px,#c9e1ee 0 648.7px,#c6e0ed 0 679.6px,#c4dfec 0 710.5px,#c2deec 0 751.7px,#c0ddeb 0 792.9px,#bedceb 0 854.7px,#bddbea 0 1122.4px,#bfdceb 0 1163.6px,#c1ddec 0 1204.8px,#c3deec 0 1236.7px)"></div>
<div style="top:536.49px;height:5.44px;background:linear-gradient(90deg,#f7f7f7 0 20.6px,#f5f6f7 0 51.5px,#f3f5f6 0 72.1px,#f0f4f6 0 103.0px,#eef3f5 0 123.6px,#ecf2f5 0 154.5px,#eaf1f5 0 175.1px,#e8f0f4 0 206.0px,#e6eff4 0 226.5px,#e4eef4 0 257.4px,#e3edf3 0 278.0px,#e1ecf3 0 308.9px,#deebf2 0 339.8px,#ddeaf2 0 360.4px,#dbeaf2 0 391.3px,#d9e9f1 0 422.2px,#d7e8f1 0 453.1px,#d5e7f1 0 484.0px,#d3e6f0 0 525.2px,#d1e5f0 0 545.8px,#cee4ef 0 576.7px,#cce3ef 0 597.3px,#cbe2ee 0 617.9px,#c9e1ee 0 648.7px,#c6e0ed 0 679.6px,#c4dfec 0 710.5px,#c2deec 0 751.7px,#c0ddeb 0 792.9px,#bedceb 0 854.7px,#bddbea 0 1112.1px,#bfdceb 0 1163.6px,#c1ddec 0 1204.8px,#c3deec 0 1236.7px)"></div>
<div style="top:531.07px;height:5.44px;background:linear-gradient(90deg,#f7f7f7 0 20.6px,#f5f6f7 0 51.5px,#f3f5f6 0 72.1px,#f0f4f6 0 103.0px,#eef3f5 0 123.6px,#ecf2f5 0 154.5px,#eaf1f5 0 175.1px,#e8f0f4 0 206.0px,#e6eff4 0 226.5px,#e4eef4 0 257.4px,#e3edf3 0 278.0px,#e1ecf3 0 308.9px,#deebf2 0 339.8px,#ddeaf2 0 360.4px,#dbeaf2 0 391.3px,#d9e9f1 0 422.2px,#d7e8f1 0 453.1px,#d4e7f1 0 494.3px,#d2e6f0 0 525.2px,#d1e5f0 0 545.8px,#cfe4ef 0 576.7px,#cce3ef 0 597.3px,#cae2ee 0 628.1px,#c8e1ee 0 648.7px,#c7e0ed 0 679.6px,#c5dfec 0 710.5px,#c3deec 0 751.7px,#c0ddeb 0 792.9px,#bfdceb 0 854.7px,#bddbea 0 1112.1px,#bfdceb 0 1163.6px,#c1ddec 0 1204.8px,#c3deec 0 1236.7px)"></div>
<div style="top:525.65px;height:5.44px;background:linear-gradient(90deg,#f7f7f7 0 20.6px,#f5f6f7 0 51.5px,#f3f5f6 0 72.1px,#f1f4f6 0 103.0px,#eef3f5 0 123.6px,#ecf2f5 0 154.5px,#eaf1f5 0 175.1px,#e8f0f4 0 206.0px,#e6eff4 0 226.5px,#e5eef4 0 257.4px,#e3edf3 0 278.0px,#e1ecf3 0 308.9px,#deebf2 0 339.8px,#dceaf2 0 370.7px,#dae9f2 0 391.3px,#d9e9f1 0 422.2px,#d7e8f1 0 453.1px,#d5e7f1 0 494.3px,#d2e6f0 0 525.2px,#d0e5f0 0 556.1px,#cee4ef 0 576.7px,#cde3ef 0 597.3px,#cae2ee 0 628.1px,#c9e1ee 0 648.7px,#c7e0ed 0 679.6px,#c4dfec 0 720.8px,#c2deec 0 751.7px,#c0ddeb 0 803.2px,#bedceb 0 865.0px,#bddbea 0 1112.1px,#c0dceb 0 1163.6px,#c2ddec 0 1204.8px,#c4deec 0 1236.7px)"></div>
<div style="top:520.24px;height:5.44px;background:linear-gradient(90deg,#f7f7f7 0 20.6px,#f5f6f7 0 51.5px,#f3f5f6 0 72.1px,#f1f4f6 0 103.0px,#eff3f5 0 123.6px,#ecf2f5 0 154.5px,#eaf1f5 0 175.1px,#e9f0f4 0 206.0px,#e7eff4 0 226.5px,#e5eef4 0 257.4px,#e2edf3 0 288.3px,#e0ecf3 0 308.9px,#dfebf2 0 339.8px,#dceaf2 0 370.7px,#dae9f2 0 401.6px,#d8e8f1 0 432.5px,#d6e7f1 0 463.4px,#d4e7f1 0 494.3px,#d3e6f0 0 525.2px,#d1e5f0 0 556.1px,#cee4ef 0 576.7px,#cde3ef 0 597.3px,#cbe2ee 0 628.1px,#c8e1ee 0 659.0px,#c6e0ed 0 689.9px,#c4dfec 0 720.8px,#c2deec 0 762.0px,#c0ddeb 0 803.2px,#bedceb 0 875.3px,#bddbea 0 1101.8px,#bfdceb 0 1153.3px,#c1ddec 0 1194.5px,#c4deec 0 1236.7px)"></div>
<div style="top:514.82px;height:5.44px;background:linear-gradient(90deg,#f7f7f7 0 20.6px,#f5f6f7 0 51.5px,#f3f5f6 0 72.1px,#f1f4f6 0 103.0px,#eff3f5 0 123.6px,#edf2f5 0 154.5px,#ebf1f5 0 175.1px,#e9f0f4 0 206.0px,#e7eff4 0 226.5px,#e5eef4 0 257.4px,#e2edf3 0 288.3px,#e0ecf3 0 308.9px,#dfebf3 0 339.8px,#dceaf2 0 370.7px,#dae9f2 0 401.6px,#d8e8f1 0 432.5px,#d6e8f1 0 463.4px,#d4e7f1 0 494.3px,#d2e6f0 0 535.5px,#d1e5f0 0 556.1px,#cfe4ef 0 576.7px,#cde3ef 0 607.6px,#cbe2ee 0 628.1px,#c9e1ee 0 659.0px,#c7e0ed 0 689.9px,#c4dfec 0 731.1px,#c2deec 0 772.3px,#c0ddeb 0 813.5px,#bedceb 0 895.9px,#bddbea 0 1091.5px,#bfdceb 0 1143.0px,#c1ddec 0 1194.5px,#c4deec 0 1225.4px,#c5dfec 0 1236.7px)"></div>
<div style="top:509.40px;height:5.44px;background:linear-gradient(90deg,#f7f7f7 0 20.6px,#f5f6f7 0 51.5px,#f3f5f6 0 72.1px,#f1f4f6 0 103.0px,#eff3f5 0 123.6px,#edf2f5 0 154.5px,#ebf1f5 0 175.1px,#e9f0f4 0 206.0px,#e6eff4 0 236.8px,#e4eef4 0 257.4px,#e2edf3 0 288.3px,#e1ecf3 0 308.9px,#dfecf3 0 339.8px,#ddebf2 0 370.7px,#dbeaf2 0 401.6px,#d9e9f1 0 432.5px,#d7e8f1 0 463.4px,#d5e7f1 0 494.3px,#d3e6f0 0 535.5px,#d0e5f0 0 566.4px,#cee4ef 0 587.0px,#cde3ef 0 607.6px,#cbe2ee 0 638.4px,#c8e1ee 0 669.3px,#c6e0ed 0 700.2px,#c5dfec 0 731.1px,#c3deec 0 772.3px,#c0ddeb 0 834.1px,#bedbeb 0 926.8px,#bedbea 0 1070.9px,#bfdceb 0 1132.7px,#c1ddec 0 1184.2px,#c3deec 0 1215.1px,#c5dfed 0 1236.7px)"></div>
<div style="top:503.99px;height:5.44px;background:linear-gradient(90deg,#f7f7f7 0 20.6px,#f5f6f7 0 51.5px,#f3f5f6 0 72.1px,#f1f4f6 0 103.0px,#eff3f5 0 123.6px,#edf2f5 0 154.5px,#eaf1f5 0 185.4px,#e8f0f4 0 206.0px,#e6eff4 0 236.8px,#e4eef4 0 257.4px,#e3edf3 0 288.3px,#e0ecf3 0 319.2px,#dfebf2 0 339.8px,#ddebf2 0 370.7px,#dbeaf2 0 401.6px,#d9e9f1 0 432.5px,#d6e8f1 0 473.7px,#d4e7f1 0 504.6px,#d3e6f0 0 535.5px,#d1e5f0 0 566.4px,#cfe4ef 0 587.0px,#cde3ef 0 617.9px,#cae2ee 0 648.7px,#c8e1ee 0 669.3px,#c7e0ed 0 710.5px,#c4dfec 0 741.4px,#c2deec 0 792.9px,#c0ddeb 0 844.4px,#bfdceb 0 1122.4px,#c2ddec 0 1173.9px,#c4deec 0 1215.1px,#c5dfed 0 1236.7px)"></div>
<div style="top:498.57px;height:5.44px;background:linear-gradient(90deg,#f7f7f7 0 20.6px,#f5f6f7 0 51.5px,#f3f5f6 0 72.1px,#f1f4f6 0 103.0px,#eef3f5 0 133.9px,#ecf2f5 0 154.5px,#eaf1f5 0 185.4px,#e8f0f4 0 206.0px,#e7eff4 0 236.8px,#e4eef4 0 267.7px,#e2edf3 0 288.3px,#e1ecf3 0 319.2px,#deebf2 0 350.1px,#dceaf2 0 381.0px,#dae9f2 0 411.9px,#d8e8f1 0 442.8px,#d6e8f1 0 473.7px,#d5e7f1 0 504.6px,#d3e6f0 0 545.8px,#d0e5f0 0 576.7px,#cee4ef 0 597.3px,#cce3ef 0 628.1px,#cae2ee 0 648.7px,#c9e1ee 0 679.6px,#c6e0ed 0 720.8px,#c4dfec 0 751.7px,#c3deec 0 803.2px,#c0ddeb 0 875.3px,#bfdceb 0 1101.8px,#c1ddec 0 1153.3px,#c3deec 0 1204.8px,#c6dfed 0 1236.7px)"></div>
<div style="top:493.16px;height:5.44px;background:linear-gradient(90deg,#f7f7f7 0 20.6px,#f5f6f7 0 51.5px,#f2f5f6 0 82.4px,#f0f4f6 0 103.0px,#eef3f5 0 133.9px,#ecf2f5 0 154.5px,#ebf1f5 0 185.4px,#e9f0f4 0 206.0px,#e7eff4 0 236.8px,#e4eef4 0 267.7px,#e3edf3 0 288.3px,#e1ecf3 0 319.2px,#dfebf3 0 350.1px,#ddeaf2 0 381.0px,#dae9f2 0 411.9px,#d9e9f1 0 442.8px,#d7e8f1 0 473.7px,#d5e7f1 0 514.9px,#d3e6f0 0 545.8px,#d1e5f0 0 576.7px,#cee4ef 0 607.6px,#cce3ef 0 628.1px,#cbe2ee 0 659.0px,#c9e1ee 0 689.9px,#c7e0ed 0 731.1px,#c4dfec 0 772.3px,#c2deec 0 823.8px,#c0ddeb 0 916.5px,#c0dceb 0 1081.2px,#c1ddec 0 1143.0px,#c3deec 0 1184.2px,#c5dfed 0 1225.4px,#c7e0ed 0 1236.7px)"></div>
<div style="top:487.74px;height:5.44px;background:linear-gradient(90deg,#f7f7f7 0 20.6px,#f5f6f7 0 51.5px,#f2f5f6 0 82.4px,#f0f4f6 0 103.0px,#eef3f5 0 133.9px,#edf2f5 0 154.5px,#ebf1f5 0 185.4px,#e8f0f4 0 216.2px,#e6eff4 0 236.8px,#e5eef4 0 267.7px,#e2edf3 0 298.6px,#e0ecf3 0 329.5px,#deebf2 0 350.1px,#ddebf2 0 381.0px,#dbeaf2 0 411.9px,#d9e9f1 0 453.1px,#d6e8f1 0 484.0px,#d5e7f1 0 514.9px,#d3e6f0 0 556.1px,#d1e5f0 0 587.0px,#cee4ef 0 617.9px,#cce3ef 0 638.4px,#cbe2ee 0 669.3px,#c9e1ee 0 700.2px,#c7e0ed 0 741.4px,#c4dfec 0 792.9px,#c2deec 0 844.4px,#c1ddeb 0 1122.4px,#c4deec 0 1173.9px,#c6dfed 0 1215.1px,#c7e0ed 0 1236.7px)"></div>
<div style="top:482.32px;height:5.44px;background:linear-gradient(90deg,#f7f7f7 0 20.6px,#f5f6f7 0 51.5px,#f2f5f6 0 82.4px,#f0f4f6 0 103.0px,#eff3f5 0 133.9px,#ecf2f5 0 164.8px,#eaf1f5 0 185.4px,#e8f0f4 0 216.2px,#e6eff4 0 247.1px,#e4eef4 0 267.7px,#e3edf3 0 298.6px,#e0ecf3 0 329.5px,#deebf2 0 360.4px,#dceaf2 0 391.3px,#dae9f2 0 422.2px,#d9e9f1 0 453.1px,#d6e8f1 0 494.3px,#d4e7f1 0 525.2px,#d3e6f0 0 566.4px,#d1e5f0 0 597.3px,#cfe4ef 0 617.9px,#cde3ef 0 648.7px,#cbe2ee 0 679.6px,#c9e1ee 0 720.8px,#c6e0ed 0 762.0px,#c4dfec 0 813.5px,#c2deec 0 885.6px,#c1ddeb 0 1091.5px,#c3deec 0 1153.3px,#c5dfed 0 1194.5px,#c7e0ed 0 1236.7px)"></div>
<div style="top:476.91px;height:5.44px;background:linear-gradient(90deg,#f7f7f7 0 20.6px,#f5f6f7 0 51.5px,#f2f5f6 0 82.4px,#f1f4f6 0 103.0px,#eff3f5 0 133.9px,#ecf2f5 0 164.8px,#ebf1f5 0 185.4px,#e9f0f4 0 216.2px,#e6eff4 0 247.1px,#e4eef4 0 278.0px,#e3edf3 0 298.6px,#e1ecf3 0 329.5px,#dfebf3 0 360.4px,#ddebf2 0 391.3px,#dbeaf2 0 422.2px,#d9e9f1 0 463.4px,#d7e8f1 0 494.3px,#d5e7f1 0 535.5px,#d2e6f0 0 576.7px,#d1e5f0 0 607.6px,#cee4ef 0 638.4px,#cce3ef 0 669.3px,#cae2ee 0 700.2px,#c8e1ee 0 741.4px,#c6e0ed 0 782.6px,#c4dfec 0 844.4px,#c3deec 0 1132.7px,#c5dfed 0 1173.9px,#c7e0ed 0 1215.1px,#c9e1ee 0 1236.7px)"></div>
<div style="top:471.49px;height:5.44px;background:linear-gradient(90deg,#f6f7f7 0 30.9px,#f4f6f7 0 51.5px,#f3f5f6 0 82.4px,#f0f4f6 0 113.3px,#eef3f5 0 133.9px,#edf2f5 0 164.8px,#eaf1f5 0 195.7px,#e8f0f4 0 216.2px,#e7eff4 0 247.1px,#e5eef4 0 278.0px,#e2edf3 0 308.9px,#e0ecf3 0 339.8px,#deebf2 0 370.7px,#dceaf2 0 401.6px,#dbeaf2 0 432.5px,#d8e8f1 0 473.7px,#d6e8f1 0 504.6px,#d4e7f1 0 545.8px,#d2e6f0 0 587.0px,#d1e5f0 0 617.9px,#cee4ef 0 648.7px,#cce3ef 0 679.6px,#cae2ee 0 720.8px,#c8e1ed 0 762.0px,#c6e0ed 0 803.2px,#c4dfec 0 885.6px,#c3deec 0 1091.5px,#c5dfed 0 1153.3px,#c8e0ed 0 1204.8px,#cae1ee 0 1236.7px)"></div>
<div style="top:466.07px;height:5.44px;background:linear-gradient(90deg,#f6f7f7 0 30.9px,#f4f6f7 0 51.5px,#f3f5f6 0 82.4px,#f0f4f6 0 113.3px,#eff3f5 0 133.9px,#edf2f5 0 164.8px,#ebf1f5 0 195.7px,#e8f0f4 0 226.5px,#e7eff4 0 247.1px,#e5eef4 0 278.0px,#e3edf3 0 308.9px,#e1ecf3 0 339.8px,#dfebf3 0 370.7px,#dceaf2 0 411.9px,#dae9f2 0 442.8px,#d9e9f1 0 473.7px,#d7e8f1 0 514.9px,#d4e7f1 0 556.1px,#d2e6f0 0 597.3px,#d1e5f0 0 628.1px,#cfe4ef 0 659.0px,#cde3ef 0 700.2px,#cbe2ee 0 731.1px,#c9e1ee 0 782.6px,#c6e0ed 0 844.4px,#c5dfec 0 1122.4px,#c7e0ed 0 1173.9px,#c9e1ee 0 1215.1px,#cbe2ee 0 1236.7px)"></div>
<div style="top:460.66px;height:5.44px;background:linear-gradient(90deg,#f6f7f7 0 30.9px,#f4f6f7 0 51.5px,#f3f5f6 0 82.4px,#f0f4f6 0 113.3px,#eef3f5 0 144.2px,#ecf2f5 0 164.8px,#ebf1f5 0 195.7px,#e9f0f4 0 226.5px,#e6eff4 0 257.4px,#e4eef4 0 288.3px,#e2edf3 0 319.2px,#e0ecf3 0 350.1px,#deebf2 0 381.0px,#ddeaf2 0 411.9px,#dae9f2 0 453.1px,#d8e9f1 0 484.0px,#d7e8f1 0 525.2px,#d4e7f1 0 566.4px,#d3e6f0 0 607.6px,#d1e5f0 0 648.7px,#cee4ef 0 679.6px,#cce3ef 0 720.8px,#cae2ee 0 762.0px,#c8e1ee 0 813.5px,#c6e0ed 0 906.2px,#c5dfed 0 1081.2px,#c7e0ed 0 1153.3px,#c9e1ee 0 1194.5px,#cbe2ee 0 1236.7px)"></div>
<div style="top:455.24px;height:5.44px;background:linear-gradient(90deg,#f6f7f7 0 30.9px,#f5f6f7 0 51.5px,#f3f5f6 0 82.4px,#f1f4f6 0 113.3px,#eef3f5 0 144.2px,#ecf2f5 0 175.1px,#eaf1f5 0 206.0px,#e8f0f4 0 226.5px,#e7eff4 0 257.4px,#e5eef4 0 288.3px,#e3edf3 0 319.2px,#e1ecf3 0 350.1px,#dfebf2 0 391.3px,#dceaf2 0 422.2px,#dae9f2 0 463.4px,#d8e9f1 0 494.3px,#d7e8f1 0 535.5px,#d5e7f1 0 576.7px,#d3e6f0 0 628.1px,#d0e5f0 0 669.3px,#cee4ef 0 700.2px,#cde3ef 0 741.4px,#cae2ee 0 792.9px,#c8e1ee 0 865.0px,#c7e0ed 0 1112.1px,#cae1ee 0 1173.9px,#cce2ee 0 1215.1px,#cde3ef 0 1236.7px)"></div>
<div style="top:449.82px;height:5.44px;background:linear-gradient(90deg,#f6f7f7 0 30.9px,#f4f6f6 0 61.8px,#f2f5f6 0 82.4px,#f1f4f6 0 113.3px,#eff3f5 0 144.2px,#edf2f5 0 175.1px,#eaf1f5 0 206.0px,#e8f0f4 0 236.8px,#e6eff4 0 267.7px,#e4eef4 0 298.6px,#e2edf3 0 329.5px,#e1ecf3 0 360.4px,#deebf2 0 401.6px,#dceaf2 0 432.5px,#dae9f2 0 473.7px,#d8e9f1 0 504.6px,#d7e8f1 0 545.8px,#d5e7f1 0 597.3px,#d2e6f0 0 648.7px,#d0e5f0 0 689.9px,#cee4ef 0 731.1px,#cce3ef 0 772.3px,#cae2ee 0 834.1px,#c9e1ee 0 1132.7px,#cbe2ee 0 1184.2px,#cde3ef 0 1225.4px,#cfe4ef 0 1236.7px)"></div>
<div style="top:444.41px;height:5.44px;background:linear-gradient(90deg,#f6f7f7 0 30.9px,#f4f6f6 0 61.8px,#f2f5f6 0 92.7px,#f0f4f6 0 113.3px,#eff3f5 0 144.2px,#edf2f5 0 175.1px,#ebf1f5 0 206.0px,#e9f0f4 0 236.8px,#e7eff4 0 267.7px,#e5eef4 0 298.6px,#e3edf3 0 339.8px,#e0ecf3 0 370.7px,#dfebf3 0 401.6px,#ddeaf2 0 442.8px,#dae9f2 0 484.0px,#d8e8f1 0 525.2px,#d6e8f1 0 566.4px,#d4e7f1 0 617.9px,#d2e6f0 0 669.3px,#d1e5f0 0 710.5px,#cee4ef 0 762.0px,#cce3ef 0 813.5px,#cae2ee 0 916.5px,#cae1ee 0 1081.2px,#cbe2ee 0 1153.3px,#cee3ef 0 1204.8px,#cfe4f0 0 1236.7px)"></div>
<div style="top:438.99px;height:5.44px;background:linear-gradient(90deg,#f6f7f7 0 30.9px,#f4f6f7 0 61.8px,#f2f5f6 0 92.7px,#f0f4f6 0 123.6px,#eef3f5 0 154.5px,#ecf2f5 0 185.4px,#eaf1f5 0 216.2px,#e8f0f4 0 247.1px,#e6eff4 0 278.0px,#e5eef4 0 308.9px,#e3edf3 0 339.8px,#e1ecf3 0 381.0px,#dfebf2 0 411.9px,#ddebf2 0 453.1px,#dae9f2 0 494.3px,#d9e9f1 0 535.5px,#d6e8f1 0 587.0px,#d4e7f1 0 638.4px,#d2e6f0 0 689.9px,#d1e5f0 0 741.4px,#cee4ef 0 803.2px,#cce3ef 0 885.6px,#cbe2ee 0 1101.8px,#cde3ef 0 1163.6px,#d0e4f0 0 1215.1px,#d1e5f0 0 1236.7px)"></div>
<div style="top:433.57px;height:5.44px;background:linear-gradient(90deg,#f6f7f7 0 30.9px,#f4f6f7 0 61.8px,#f2f5f6 0 92.7px,#f0f4f6 0 123.6px,#eef3f5 0 154.5px,#edf2f5 0 185.4px,#ebf1f5 0 216.2px,#e9f0f4 0 247.1px,#e7eff4 0 288.3px,#e4eef4 0 319.2px,#e3edf3 0 350.1px,#e1ecf3 0 391.3px,#deebf2 0 432.5px,#dceaf2 0 463.4px,#dbeaf2 0 504.6px,#d9e9f1 0 556.1px,#d6e8f1 0 607.6px,#d4e7f1 0 659.0px,#d3e6f0 0 720.8px,#d1e5f0 0 782.6px,#cee4ef 0 865.0px,#cde3ef 0 1112.1px,#cfe4f0 0 1173.9px,#d1e5f0 0 1236.7px)"></div>
<div style="top:428.16px;height:5.44px;background:linear-gradient(90deg,#f6f7f7 0 30.9px,#f4f6f7 0 61.8px,#f3f5f6 0 92.7px,#f1f4f6 0 123.6px,#eff3f5 0 154.5px,#ecf2f5 0 195.7px,#eaf1f5 0 226.5px,#e8f0f4 0 257.4px,#e7eff4 0 288.3px,#e5eef4 0 329.5px,#e3edf3 0 360.4px,#e1ecf3 0 401.6px,#deebf2 0 442.8px,#dceaf2 0 484.0px,#dae9f2 0 525.2px,#d8e9f1 0 576.7px,#d6e8f1 0 628.1px,#d4e7f1 0 689.9px,#d2e6f0 0 762.0px,#d1e5f0 0 844.4px,#cfe4ef 0 1122.4px,#d1e5f0 0 1204.8px,#d3e6f0 0 1236.7px)"></div>
<div style="top:422.74px;height:5.44px;background:linear-gradient(90deg,#f6f7f7 0 30.9px,#f5f6f7 0 61.8px,#f3f5f6 0 92.7px,#f0f4f6 0 133.9px,#eef3f5 0 164.8px,#ecf2f5 0 195.7px,#ebf1f5 0 226.5px,#e9f0f4 0 267.7px,#e6eff4 0 298.6px,#e4eef4 0 339.8px,#e3edf3 0 370.7px,#e1ecf3 0 411.9px,#dfebf3 0 453.1px,#ddebf2 0 494.3px,#dbeaf2 0 545.8px,#d8e9f1 0 597.3px,#d6e8f1 0 659.0px,#d4e7f1 0 720.8px,#d2e6f0 0 823.8px,#d1e5f0 0 1163.6px,#d3e6f0 0 1236.7px)"></div>
<div style="top:417.33px;height:5.44px;background:linear-gradient(90deg,#f6f7f7 0 30.9px,#f5f6f7 0 61.8px,#f2f5f6 0 103.0px,#f0f4f6 0 133.9px,#eff3f5 0 164.8px,#ecf2f5 0 206.0px,#eaf1f5 0 236.8px,#e8f0f4 0 278.0px,#e6eff4 0 308.9px,#e4eef4 0 350.1px,#e2edf3 0 391.3px,#e0ecf3 0 432.5px,#deebf2 0 473.7px,#ddeaf2 0 514.9px,#dbeaf2 0 566.4px,#d8e9f1 0 628.1px,#d6e8f1 0 689.9px,#d4e7f1 0 772.3px,#d2e6f0 0 1204.8px,#d5e7f1 0 1236.7px)"></div>
<div style="top:411.91px;height:5.44px;background:linear-gradient(90deg,#f6f7f7 0 30.9px,#f4f6f7 0 72.1px,#f2f5f6 0 103.0px,#f1f4f6 0 133.9px,#eff3f5 0 175.1px,#edf2f5 0 206.0px,#ebf1f5 0 247.1px,#e8f0f4 0 288.3px,#e6eff4 0 319.2px,#e5eef4 0 360.4px,#e3edf3 0 401.6px,#e1ecf3 0 442.8px,#deebf2 0 494.3px,#dceaf2 0 535.5px,#dbeaf2 0 597.3px,#d8e8f1 0 659.0px,#d6e8f1 0 731.1px,#d4e7f1 0 844.4px,#d3e6f0 0 1153.3px,#d5e7f1 0 1236.7px)"></div>
<div style="top:406.49px;height:5.44px;background:linear-gradient(90deg,#f6f7f7 0 30.9px,#f4f6f7 0 72.1px,#f2f5f6 0 103.0px,#f1f4f6 0 144.2px,#eff3f5 0 175.1px,#edf2f5 0 216.2px,#eaf1f5 0 257.4px,#e8f0f4 0 298.6px,#e6eff4 0 329.5px,#e5eef4 0 370.7px,#e3edf3 0 422.2px,#e0ecf3 0 463.4px,#deebf2 0 514.9px,#dceaf2 0 566.4px,#dae9f2 0 628.1px,#d8e8f1 0 700.2px,#d6e8f1 0 792.9px,#d5e7f1 0 1194.5px,#d7e8f1 0 1236.7px)"></div>
<div style="top:401.08px;height:5.44px;background:linear-gradient(90deg,#f6f7f7 0 30.9px,#f5f6f7 0 72.1px,#f2f5f6 0 113.3px,#f1f4f6 0 144.2px,#eff3f5 0 185.4px,#ecf2f5 0 226.5px,#eaf1f5 0 267.7px,#e8f0f4 0 308.9px,#e6eff4 0 350.1px,#e4eef4 0 391.3px,#e3edf3 0 432.5px,#e1ecf3 0 484.0px,#dfebf3 0 535.5px,#ddeaf2 0 597.3px,#dae9f2 0 669.3px,#d8e8f1 0 751.7px,#d6e8f1 0 906.2px,#d6e7f1 0 1122.4px,#d7e8f1 0 1225.4px,#d9e9f1 0 1236.7px)"></div>
<div style="top:395.66px;height:5.44px;background:linear-gradient(90deg,#f6f7f7 0 30.9px,#f5f6f7 0 72.1px,#f3f5f6 0 113.3px,#f1f4f6 0 154.5px,#eef3f5 0 195.7px,#ecf2f5 0 236.8px,#eaf1f5 0 278.0px,#e8f0f4 0 319.2px,#e7eff4 0 360.4px,#e5eef4 0 411.9px,#e2edf3 0 463.4px,#e0ecf3 0 514.9px,#deebf2 0 566.4px,#dceaf2 0 638.4px,#dae9f2 0 720.8px,#d8e8f1 0 834.1px,#d7e8f1 0 1163.6px,#d9e9f2 0 1236.7px)"></div>
<div style="top:390.24px;height:5.44px;background:linear-gradient(90deg,#f6f7f7 0 41.2px,#f4f6f6 0 82.4px,#f2f5f6 0 123.6px,#f0f4f6 0 164.8px,#eef3f5 0 206.0px,#ecf2f5 0 247.1px,#ebf1f5 0 288.3px,#e8f0f4 0 339.8px,#e6eff4 0 381.0px,#e5eef4 0 432.5px,#e2edf3 0 484.0px,#e0ecf3 0 545.8px,#deebf2 0 607.6px,#dceaf2 0 689.9px,#dae9f2 0 792.9px,#d9e9f1 0 1194.5px,#dbeaf2 0 1236.7px)"></div>
<div style="top:384.83px;height:5.44px;background:linear-gradient(90deg,#f6f7f7 0 41.2px,#f4f6f7 0 82.4px,#f3f5f6 0 123.6px,#f1f4f6 0 164.8px,#eff3f5 0 216.2px,#ecf2f5 0 257.4px,#eaf1f5 0 308.9px,#e8f0f4 0 350.1px,#e7eff4 0 401.6px,#e5eef4 0 453.1px,#e3edf3 0 514.9px,#e1ecf3 0 576.7px,#deebf2 0 659.0px,#dceaf2 0 751.7px,#dae9f2 0 1225.4px,#ddeaf2 0 1236.7px)"></div>
<div style="top:379.41px;height:5.44px;background:linear-gradient(90deg,#f6f7f7 0 41.2px,#f5f6f7 0 82.4px,#f3f5f6 0 133.9px,#f1f4f6 0 175.1px,#eff3f5 0 226.5px,#ecf2f5 0 278.0px,#eaf1f5 0 319.2px,#e9f0f4 0 370.7px,#e7eff4 0 432.5px,#e5eef4 0 484.0px,#e3edf3 0 556.1px,#e0ecf3 0 628.1px,#deebf2 0 720.8px,#dceaf2 0 885.6px,#dceaf2 0 1143.0px,#ddebf2 0 1236.7px)"></div>
<div style="top:373.99px;height:5.44px;background:linear-gradient(90deg,#f6f7f7 0 41.2px,#f4f6f7 0 92.7px,#f2f5f6 0 144.2px,#f0f4f6 0 185.4px,#eff3f5 0 236.8px,#edf2f5 0 288.3px,#ebf1f5 0 339.8px,#e9f0f4 0 401.6px,#e6eff4 0 463.4px,#e4eef4 0 525.2px,#e2edf3 0 607.6px,#e0ecf3 0 689.9px,#deebf2 0 834.1px,#ddebf2 0 1173.9px,#dfecf3 0 1236.7px)"></div>
<div style="top:368.58px;height:5.44px;background:linear-gradient(90deg,#f6f7f7 0 41.2px,#f5f6f7 0 92.7px,#f3f5f6 0 144.2px,#f1f4f6 0 206.0px,#eef3f5 0 257.4px,#edf2f5 0 308.9px,#ebf1f5 0 370.7px,#e8f0f4 0 432.5px,#e6eff4 0 504.6px,#e4eef4 0 576.7px,#e2edf3 0 669.3px,#e0ecf3 0 803.2px,#dfecf3 0 1194.5px,#e1ecf3 0 1236.7px)"></div>
<div style="top:363.16px;height:5.44px;background:linear-gradient(90deg,#f6f7f7 0 51.5px,#f4f6f7 0 103.0px,#f2f5f6 0 164.8px,#f0f4f6 0 216.2px,#eef3f5 0 278.0px,#ecf2f5 0 339.8px,#eaf1f5 0 401.6px,#e8f0f4 0 473.7px,#e7eff4 0 545.8px,#e4eef4 0 648.7px,#e2edf3 0 772.3px,#e1edf3 0 1215.1px,#e3edf3 0 1236.7px)"></div>
<div style="top:357.74px;height:5.44px;background:linear-gradient(90deg,#f6f7f7 0 51.5px,#f4f6f7 0 113.3px,#f2f5f6 0 175.1px,#f0f4f6 0 236.8px,#eff3f5 0 298.6px,#edf2f5 0 370.7px,#eaf1f5 0 442.8px,#e8f0f4 0 525.2px,#e6eff4 0 617.9px,#e4eef4 0 751.7px,#e3edf3 0 1236.7px)"></div>
<div style="top:352.33px;height:5.44px;background:linear-gradient(90deg,#f6f7f7 0 51.5px,#f5f6f7 0 123.6px,#f2f5f6 0 195.7px,#f0f4f6 0 257.4px,#eff3f5 0 329.5px,#edf2f5 0 411.9px,#eaf1f5 0 494.3px,#e8f0f4 0 597.3px,#e6eff4 0 731.1px,#e5eef4 0 1236.7px)"></div>
<div style="top:346.91px;height:5.44px;background:linear-gradient(90deg,#f6f7f7 0 61.8px,#f5f6f7 0 133.9px,#f2f5f6 0 216.2px,#f0f4f6 0 288.3px,#eff3f5 0 370.7px,#edf2f5 0 463.4px,#eaf1f5 0 576.7px,#e8f0f4 0 710.5px,#e7eff4 0 1236.7px)"></div>
<div style="top:341.50px;height:5.44px;background:linear-gradient(90deg,#f6f7f7 0 72.1px,#f4f6f7 0 154.5px,#f3f5f6 0 236.8px,#f1f4f6 0 329.5px,#eff3f5 0 432.5px,#ecf2f5 0 545.8px,#eaf1f5 0 700.2px,#e9f0f4 0 1236.7px)"></div>
<div style="top:336.08px;height:5.44px;background:linear-gradient(90deg,#f6f7f7 0 82.4px,#f5f6f7 0 175.1px,#f3f5f6 0 278.0px,#f1f4f6 0 391.3px,#eef3f5 0 525.2px,#ecf2f5 0 689.9px,#ebf1f5 0 1236.7px)"></div>
<div style="top:330.66px;height:5.44px;background:linear-gradient(90deg,#f6f7f7 0 92.7px,#f4f6f7 0 216.2px,#f2f5f6 0 339.8px,#f1f4f6 0 484.0px,#eef3f5 0 689.9px,#edf2f5 0 1236.7px)"></div>
<div style="top:325.25px;height:5.44px;background:linear-gradient(90deg,#f6f7f7 0 113.3px,#f4f6f7 0 278.0px,#f2f5f6 0 453.1px,#f0f4f6 0 700.2px,#eff3f6 0 1236.7px)"></div>
<div style="top:319.83px;height:5.44px;background:linear-gradient(90deg,#f6f7f7 0 164.8px,#f4f6f7 0 391.3px,#f2f5f6 0 741.4px,#f1f4f6 0 1236.7px)"></div>
<div style="top:314.41px;height:5.44px;background:linear-gradient(90deg,#f6f7f7 0 267.7px,#f4f6f6 0 1236.7px)"></div>
<div style="top:309.00px;height:5.44px;background:linear-gradient(90deg,#f6f7f7 0 1236.7px)"></div>
<div style="top:303.58px;height:5.44px;background:linear-gradient(90deg,#f7f7f6 0 514.9px,#f7f6f5 0 1236.7px)"></div>
<div style="top:298.16px;height:5.44px;background:linear-gradient(90deg,#f7f7f6 0 185.4px,#f7f6f4 0 432.5px,#f8f4f2 0 782.6px,#f8f4f1 0 1236.7px)"></div>
<div style="top:292.75px;height:5.44px;background:linear-gradient(90deg,#f7f7f6 0 113.3px,#f7f6f4 0 257.4px,#f8f4f2 0 411.9px,#f8f3f0 0 587.0px,#f8f2ee 0 875.3px,#f8f1ed 0 1236.7px)"></div>
<div style="top:287.33px;height:5.44px;background:linear-gradient(90deg,#f7f7f6 0 82.4px,#f7f6f4 0 185.4px,#f8f4f2 0 288.3px,#f8f3f0 0 391.3px,#f8f2ef 0 514.9px,#f8f1ec 0 669.3px,#f9f0ea 0 968.0px,#f9efea 0 1236.7px)"></div>
<div style="top:281.91px;height:5.44px;background:linear-gradient(90deg,#f7f7f6 0 61.8px,#f7f6f4 0 144.2px,#f8f4f2 0 216.2px,#f8f3f0 0 298.6px,#f8f2ee 0 381.0px,#f8f1ec 0 473.7px,#f9f0ea 0 576.7px,#f9eee8 0 710.5px,#f9ede6 0 978.3px,#f9ede6 0 1225.4px,#f9ede7 0 1236.7px)"></div>
<div style="top:276.50px;height:5.44px;background:linear-gradient(90deg,#f7f7f6 0 51.5px,#f7f6f4 0 113.3px,#f8f4f2 0 175.1px,#f8f3f1 0 236.8px,#f8f2ef 0 298.6px,#f8f1ed 0 370.7px,#f9f0ea 0 442.8px,#f9eee8 0 525.2px,#f9ede6 0 607.6px,#f9ece4 0 720.8px,#faebe2 0 906.2px,#faebe2 0 1236.7px)"></div>
<div style="top:271.08px;height:5.44px;background:linear-gradient(90deg,#f7f7f6 0 41.2px,#f7f6f5 0 92.7px,#f8f4f3 0 144.2px,#f8f3f1 0 195.7px,#f8f2ef 0 247.1px,#f8f1ed 0 298.6px,#f9f0eb 0 360.4px,#f9eee8 0 422.2px,#f9ede6 0 484.0px,#f9ece4 0 545.8px,#faebe3 0 628.1px,#faeae0 0 720.8px,#fae9de 0 875.3px,#fae8dd 0 1215.1px,#fae9df 0 1236.7px)"></div>
<div style="top:265.66px;height:5.44px;background:linear-gradient(90deg,#f7f7f6 0 41.2px,#f7f5f4 0 82.4px,#f8f4f2 0 123.6px,#f8f3f1 0 164.8px,#f8f2ef 0 206.0px,#f8f1ed 0 236.8px,#f8f0eb 0 278.0px,#f9efe9 0 329.5px,#f9eee7 0 370.7px,#f9ede6 0 422.2px,#f9ece4 0 473.7px,#faeae2 0 535.5px,#fae9e0 0 597.3px,#fae8de 0 669.3px,#fae7dc 0 751.7px,#fbe6da 0 834.1px,#fbe5d9 0 1225.4px,#fbe6db 0 1236.7px)"></div>
<div style="top:260.25px;height:5.44px;background:linear-gradient(90deg,#f7f7f6 0 30.9px,#f7f6f5 0 72.1px,#f8f4f3 0 103.0px,#f8f3f1 0 144.2px,#f8f2ee 0 185.4px,#f8f1ec 0 226.5px,#f9f0ea 0 257.4px,#f9efe9 0 298.6px,#f9ede7 0 339.8px,#f9ece5 0 381.0px,#faebe3 0 422.2px,#faeae1 0 473.7px,#fae9de 0 525.2px,#fae7dc 0 576.7px,#fbe6da 0 638.4px,#fbe5d8 0 700.2px,#fbe4d7 0 792.9px,#fbe3d4 0 1236.7px)"></div>
<div style="top:254.83px;height:5.44px;background:linear-gradient(90deg,#f7f7f6 0 30.9px,#f7f6f4 0 61.8px,#f8f4f3 0 92.7px,#f8f3f1 0 123.6px,#f8f2ef 0 154.5px,#f8f1ed 0 175.1px,#f8f0ec 0 206.0px,#f9efea 0 247.1px,#f9eee7 0 278.0px,#f9ede6 0 308.9px,#f9ece4 0 350.1px,#faebe2 0 381.0px,#fae9e0 0 422.2px,#fae8de 0 463.4px,#fae7dc 0 504.6px,#fbe6d9 0 556.1px,#fbe5d7 0 597.3px,#fbe3d6 0 659.0px,#fbe2d3 0 720.8px,#fce1d1 0 803.2px,#fce0cf 0 968.0px,#fce0cf 0 1173.9px,#fce1d1 0 1236.7px)"></div>
<div style="top:249.42px;height:5.44px;background:linear-gradient(90deg,#f7f7f6 0 30.9px,#f7f6f5 0 51.5px,#f8f5f3 0 82.4px,#f8f3f1 0 113.3px,#f8f2ee 0 144.2px,#f8f1ec 0 175.1px,#f9f0ea 0 206.0px,#f9efe8 0 226.5px,#f9eee7 0 257.4px,#f9ece5 0 288.3px,#faebe3 0 319.2px,#faeae1 0 350.1px,#fae9de 0 391.3px,#fae7dc 0 422.2px,#fbe6db 0 453.1px,#fbe5d9 0 494.3px,#fbe4d6 0 535.5px,#fbe3d4 0 576.7px,#fce2d2 0 617.9px,#fce1d0 0 669.3px,#fcdfce 0 731.1px,#fcdecc 0 803.2px,#fdddca 0 937.1px,#fdddca 0 1163.6px,#fcdecc 0 1215.1px,#fcdecd 0 1236.7px)"></div>
<div style="top:244.00px;height:5.44px;background:linear-gradient(90deg,#f7f7f7 0 20.6px,#f7f6f5 0 51.5px,#f8f4f3 0 72.1px,#f8f3f1 0 103.0px,#f8f2ef 0 123.6px,#f8f1ed 0 154.5px,#f9f0eb 0 175.1px,#f9efe9 0 206.0px,#f9ede7 0 226.5px,#f9ece5 0 257.4px,#faebe2 0 288.3px,#faeae1 0 308.9px,#fae9df 0 339.8px,#fae8dd 0 370.7px,#fbe6da 0 401.6px,#fbe5d8 0 432.5px,#fbe4d6 0 463.4px,#fbe3d4 0 494.3px,#fce2d3 0 525.2px,#fce1d1 0 566.4px,#fcdfce 0 607.6px,#fcdecc 0 648.7px,#fdddca 0 700.2px,#fddcc8 0 751.7px,#fddbc7 0 813.5px,#fdd9c5 0 875.3px,#fcd8c3 0 968.0px,#fcd8c3 0 1091.5px,#fdd9c4 0 1153.3px,#fddac6 0 1194.5px,#fddbc7 0 1236.7px)"></div>
<div style="top:238.58px;height:5.44px;background:linear-gradient(90deg,#f7f7f7 0 20.6px,#f7f6f5 0 41.2px,#f8f4f3 0 72.1px,#f8f3f0 0 92.7px,#f8f2ef 0 113.3px,#f8f1ed 0 133.9px,#f9f0ea 0 164.8px,#f9eee8 0 185.4px,#f9ede7 0 206.0px,#f9ece5 0 226.5px,#faebe3 0 257.4px,#faeae0 0 278.0px,#fae9de 0 308.9px,#fae7dc 0 329.5px,#fbe6db 0 350.1px,#fbe5d9 0 381.0px,#fbe4d6 0 411.9px,#fbe3d4 0 432.5px,#fce2d3 0 463.4px,#fce0d0 0 494.3px,#fcdfce 0 525.2px,#fcdecc 0 556.1px,#fdddcb 0 587.0px,#fddcc9 0 628.1px,#fddbc7 0 659.0px,#fdd9c4 0 689.9px,#fcd8c3 0 720.8px,#fcd6c1 0 751.7px,#fcd5bf 0 782.6px,#fcd4be 0 834.1px,#fcd2bc 0 895.9px,#fbd1bb 0 1132.7px,#fcd3bd 0 1163.6px,#fcd4be 0 1215.1px,#fcd6c0 0 1236.7px)"></div>
<div style="top:233.17px;height:5.44px;background:linear-gradient(90deg,#f7f7f7 0 20.6px,#f7f6f5 0 41.2px,#f8f4f3 0 61.8px,#f8f3f1 0 82.4px,#f8f2ef 0 103.0px,#f8f1ed 0 123.6px,#f9f0eb 0 144.2px,#f9efe9 0 164.8px,#f9ede7 0 185.4px,#f9ece5 0 206.0px,#faebe3 0 226.5px,#faeae1 0 247.1px,#fae9df 0 267.7px,#fae8dd 0 298.6px,#fbe6da 0 319.2px,#fbe5d8 0 339.8px,#fbe4d7 0 360.4px,#fbe3d4 0 391.3px,#fce2d2 0 411.9px,#fce1d1 0 432.5px,#fcdfcf 0 463.4px,#fcdecd 0 484.0px,#fdddcb 0 514.9px,#fddcc8 0 545.8px,#fddbc7 0 566.4px,#fdd9c5 0 587.0px,#fcd8c3 0 607.6px,#fcd6c1 0 628.1px,#fcd5bf 0 648.7px,#fcd3bd 0 679.6px,#fcd2bc 0 700.2px,#fbd0b9 0 741.4px,#fbcfb7 0 772.3px,#fbcdb6 0 813.5px,#faccb3 0 875.3px,#facab2 0 1132.7px,#fbcdb5 0 1184.2px,#fbceb6 0 1215.1px,#fbcfb8 0 1236.7px)"></div>
<div style="top:227.75px;height:5.44px;background:linear-gradient(90deg,#f7f7f6 0 20.6px,#f7f5f4 0 41.2px,#f8f4f2 0 61.8px,#f8f3f0 0 82.4px,#f8f2ee 0 103.0px,#f8f0eb 0 123.6px,#f9efe9 0 144.2px,#f9eee7 0 164.8px,#f9ece5 0 185.4px,#faebe3 0 206.0px,#faeae1 0 226.5px,#fae9de 0 247.1px,#fae7dc 0 267.7px,#fbe6da 0 288.3px,#fbe5d8 0 308.9px,#fbe4d6 0 329.5px,#fbe3d4 0 350.1px,#fce2d2 0 370.7px,#fce0d0 0 391.3px,#fcdfce 0 411.9px,#fcdecc 0 432.5px,#fdddcb 0 453.1px,#fddcc8 0 484.0px,#fddbc7 0 494.3px,#fdd9c5 0 514.9px,#fcd8c3 0 535.5px,#fcd6c0 0 556.1px,#fcd4be 0 576.7px,#fcd2bc 0 597.3px,#fbd1ba 0 617.9px,#fbcfb8 0 638.4px,#fbceb6 0 659.0px,#fbcdb5 0 679.6px,#facbb3 0 700.2px,#facab1 0 720.8px,#fac9b0 0 751.7px,#fac7ae 0 782.6px,#f9c6ac 0 813.5px,#f9c5aa 0 865.0px,#f9c3a8 0 937.1px,#f9c3a8 0 1091.5px,#f9c4aa 0 1143.0px,#f9c6ac 0 1184.2px,#fac7ad 0 1215.1px,#fac8af 0 1236.7px)"></div>
<div style="top:222.33px;height:5.44px;background:linear-gradient(90deg,#f7f7f6 0 20.6px,#f7f6f5 0 30.9px,#f8f5f3 0 51.5px,#f8f3f0 0 72.1px,#f8f2ef 0 82.4px,#f8f1ed 0 103.0px,#f9f0ea 0 123.6px,#f9eee8 0 144.2px,#f9ede5 0 164.8px,#f9ece4 0 175.1px,#faebe2 0 195.7px,#fae9df 0 216.2px,#fae8dd 0 236.8px,#fbe7db 0 257.4px,#fbe5d8 0 278.0px,#fbe4d6 0 298.6px,#fbe3d4 0 319.2px,#fce1d2 0 339.8px,#fce0cf 0 360.4px,#fcdfcd 0 381.0px,#fcddcb 0 401.6px,#fddcc9 0 422.2px,#fddbc8 0 432.5px,#fddbc6 0 442.8px,#fdd9c4 0 463.4px,#fcd7c2 0 484.0px,#fcd5c0 0 494.3px,#fcd4be 0 514.9px,#fcd2bc 0 525.2px,#fbd1ba 0 545.8px,#fbcfb7 0 566.4px,#fbcdb6 0 576.7px,#faccb4 0 597.3px,#facab2 0 617.9px,#fac9b0 0 638.4px,#fac7ae 0 659.0px,#f9c6ac 0 679.6px,#f9c4aa 0 700.2px,#f9c3a8 0 720.8px,#f9c2a7 0 741.4px,#f9c0a5 0 772.3px,#f8bfa3 0 813.5px,#f8bda1 0 854.7px,#f8bb9e 0 937.1px,#f8ba9d 0 1081.2px,#f8bc9f 0 1122.4px,#f8bda1 0 1163.6px,#f8bfa3 0 1194.5px,#f8c0a4 0 1215.1px,#f9c1a5 0 1236.7px)"></div>
<div style="top:216.92px;height:5.44px;background:linear-gradient(90deg,#f7f7f6 0 20.6px,#f7f5f4 0 41.2px,#f8f4f2 0 51.5px,#f8f3f0 0 72.1px,#f8f2ee 0 82.4px,#f8f0ec 0 103.0px,#f9efea 0 113.3px,#f9eee8 0 133.9px,#f9ede6 0 144.2px,#f9ece4 0 164.8px,#faebe2 0 175.1px,#fae9e0 0 195.7px,#fae8de 0 206.0px,#fae7dc 0 226.5px,#fbe6d9 0 247.1px,#fbe4d7 0 267.7px,#fbe3d5 0 278.0px,#fce2d3 0 298.6px,#fce0d0 0 319.2px,#fcdfcf 0 329.5px,#fcdecd 0 350.1px,#fdddca 0 370.7px,#fddcc9 0 381.0px,#fddbc7 0 401.6px,#fdd8c3 0 422.2px,#fcd6c1 0 432.5px,#fcd4bf 0 453.1px,#fcd3bc 0 463.4px,#fbd1bb 0 473.7px,#fbd0b9 0 494.3px,#fbcdb6 0 514.9px,#faccb4 0 525.2px,#facab1 0 545.8px,#fac8af 0 566.4px,#fac6ac 0 587.0px,#f9c4aa 0 607.6px,#f9c2a7 0 628.1px,#f9c0a5 0 648.7px,#f8bfa3 0 669.3px,#f8bda1 0 689.9px,#f8bb9f 0 720.8px,#f7ba9c 0 741.4px,#f7b89a 0 772.3px,#f7b698 0 803.2px,#f7b596 0 834.1px,#f6b495 0 885.6px,#f6b293 0 978.3px,#f6b292 0 1070.9px,#f6b394 0 1112.1px,#f7b496 0 1153.3px,#f7b697 0 1184.2px,#f7b799 0 1215.1px,#f7b99b 0 1236.7px)"></div>
<div style="top:211.50px;height:5.44px;background:linear-gradient(90deg,#f7f7f6 0 20.6px,#f7f5f3 0 41.2px,#f8f3f0 0 61.8px,#f8f1ed 0 82.4px,#f9f0eb 0 103.0px,#f9eee8 0 123.6px,#f9ece5 0 144.2px,#faebe3 0 154.5px,#faeae0 0 175.1px,#fae8dd 0 195.7px,#fbe6db 0 216.2px,#fbe5d8 0 236.8px,#fbe3d6 0 247.1px,#fbe2d3 0 267.7px,#fce1d1 0 288.3px,#fcdfcf 0 298.6px,#fcdecd 0 319.2px,#fdddcb 0 329.5px,#fddcc9 0 350.1px,#fddac6 0 360.4px,#fdd8c4 0 381.0px,#fcd6c1 0 391.3px,#fcd5bf 0 401.6px,#fcd3bd 0 411.9px,#fbd2bb 0 422.2px,#fbd0ba 0 432.5px,#fbcfb8 0 442.8px,#fbceb6 0 453.1px,#faccb4 0 473.7px,#facab1 0 484.0px,#fac9af 0 494.3px,#fac7ae 0 504.6px,#f9c5ac 0 525.2px,#f9c3a8 0 545.8px,#f9c1a6 0 566.4px,#f8bfa3 0 587.0px,#f8bda1 0 597.3px,#f8bb9f 0 617.9px,#f7ba9d 0 628.1px,#f7b89b 0 648.7px,#f7b799 0 669.3px,#f7b596 0 689.9px,#f6b394 0 710.5px,#f6b292 0 731.1px,#f6b090 0 751.7px,#f6af8e 0 782.6px,#f5ad8c 0 803.2px,#f5ac8b 0 844.4px,#f5aa88 0 885.6px,#f5a987 0 1101.8px,#f5ab89 0 1143.0px,#f5ac8b 0 1173.9px,#f5ae8d 0 1204.8px,#f6af8f 0 1225.4px,#f6b091 0 1236.7px)"></div>
<div style="top:206.08px;height:5.44px;background:linear-gradient(90deg,#f7f7f7 0 10.3px,#f7f6f5 0 30.9px,#f8f4f1 0 51.5px,#f8f2ef 0 61.8px,#f8f1ed 0 82.4px,#f9efe9 0 103.0px,#f9eee7 0 113.3px,#f9ece5 0 133.9px,#faebe2 0 144.2px,#fae9e0 0 164.8px,#fae8dc 0 185.4px,#fbe6d9 0 206.0px,#fbe4d7 0 216.2px,#fbe3d5 0 236.8px,#fce1d1 0 257.4px,#fcdfce 0 278.0px,#fcdecb 0 298.6px,#fddcc8 0 319.2px,#fddac6 0 329.5px,#fdd8c4 0 339.8px,#fcd7c1 0 350.1px,#fcd5bf 0 360.4px,#fcd3bd 0 370.7px,#fbd2bb 0 381.0px,#fbd0b9 0 391.3px,#fbcfb7 0 401.6px,#fbcdb5 0 411.9px,#faccb3 0 422.2px,#facab1 0 432.5px,#fac9af 0 442.8px,#fac7ae 0 453.1px,#f9c6ac 0 463.4px,#f9c4aa 0 473.7px,#f9c3a8 0 484.0px,#f9c1a5 0 504.6px,#f8bfa3 0 514.9px,#f8bda1 0 525.2px,#f8bb9f 0 545.8px,#f7b99b 0 566.4px,#f7b799 0 576.7px,#f7b597 0 597.3px,#f6b394 0 617.9px,#f6b192 0 628.1px,#f6b090 0 648.7px,#f6ae8e 0 659.0px,#f5ad8c 0 679.6px,#f5ab89 0 700.2px,#f5a987 0 720.8px,#f4a785 0 741.4px,#f4a683 0 762.0px,#f4a481 0 803.2px,#f4a380 0 854.7px,#f3a27e 0 1153.3px,#f4a481 0 1194.5px,#f4a583 0 1225.4px,#f4a784 0 1236.7px)"></div>
<div style="top:200.67px;height:5.44px;background:linear-gradient(90deg,#f7f7f7 0 10.3px,#f7f6f5 0 20.6px,#f8f4f3 0 41.2px,#f8f3f0 0 51.5px,#f8f2ee 0 61.8px,#f8f0ec 0 82.4px,#f9efe9 0 92.7px,#f9eee7 0 103.0px,#f9ece4 0 123.6px,#faebe2 0 133.9px,#faeae0 0 144.2px,#fae9de 0 154.5px,#fae7dc 0 175.1px,#fbe5d9 0 185.4px,#fbe4d7 0 195.7px,#fbe3d5 0 216.2px,#fce1d2 0 226.5px,#fce0cf 0 247.1px,#fcdecd 0 257.4px,#fcddcb 0 267.7px,#fddcc9 0 288.3px,#fddac6 0 298.6px,#fdd8c3 0 308.9px,#fcd6c1 0 319.2px,#fcd4bf 0 329.5px,#fcd3bc 0 339.8px,#fbd1ba 0 350.1px,#fbcfb8 0 360.4px,#fbcdb5 0 370.7px,#faccb3 0 381.0px,#facab1 0 391.3px,#fac8af 0 401.6px,#fac6ad 0 411.9px,#f9c5aa 0 422.2px,#f9c3a8 0 432.5px,#f9c1a6 0 442.8px,#f8c0a4 0 453.1px,#f8bea2 0 463.4px,#f8bca0 0 473.7px,#f8bb9e 0 484.0px,#f7b99c 0 494.3px,#f7b89a 0 504.6px,#f7b698 0 514.9px,#f7b596 0 525.2px,#f6b394 0 545.8px,#f6b191 0 556.1px,#f6af8f 0 566.4px,#f5ad8d 0 587.0px,#f5ab8a 0 597.3px,#f5a988 0 617.9px,#f4a885 0 628.1px,#f4a684 0 638.4px,#f4a582 0 669.3px,#f4a380 0 689.9px,#f3a27e 0 720.8px,#f3a07d 0 762.0px,#f39f7b 0 813.5px,#f39d79 0 875.3px,#f29c77 0 1132.7px,#f39e7a 0 1173.9px,#f39f7b 0 1225.4px,#f3a17d 0 1236.7px)"></div>
<div style="top:195.25px;height:5.44px;background:linear-gradient(90deg,#f7f7f7 0 10.3px,#f7f6f5 0 20.6px,#f7f5f3 0 30.9px,#f8f4f1 0 41.2px,#f8f2ef 0 51.5px,#f8f1ed 0 61.8px,#f8f0eb 0 72.1px,#f9efe9 0 82.4px,#f9eee7 0 92.7px,#f9ede5 0 103.0px,#f9ece3 0 113.3px,#faeae2 0 123.6px,#fae9e0 0 133.9px,#fae8de 0 144.2px,#fae7dc 0 154.5px,#fbe6da 0 164.8px,#fbe5d8 0 175.1px,#fbe4d6 0 185.4px,#fbe3d4 0 195.7px,#fce1d2 0 206.0px,#fce0d0 0 216.2px,#fcdfce 0 226.5px,#fcdecc 0 236.8px,#fddcc9 0 257.4px,#fddbc6 0 267.7px,#fdd9c4 0 278.0px,#fcd6c1 0 288.3px,#fcd4be 0 298.6px,#fcd2bc 0 308.9px,#fbd0b9 0 319.2px,#fbceb7 0 329.5px,#fbccb4 0 339.8px,#facab2 0 350.1px,#fac8af 0 360.4px,#fac6ac 0 370.7px,#f9c4aa 0 381.0px,#f9c2a8 0 391.3px,#f9c0a5 0 401.6px,#f8bfa3 0 411.9px,#f8bda0 0 422.2px,#f8bb9e 0 432.5px,#f7b99c 0 442.8px,#f7b799 0 453.1px,#f7b597 0 463.4px,#f6b495 0 473.7px,#f6b293 0 484.0px,#f6b090 0 494.3px,#f6af8e 0 504.6px,#f5ad8c 0 514.9px,#f5ab8a 0 525.2px,#f5aa88 0 535.5px,#f5a886 0 545.8px,#f4a784 0 556.1px,#f4a582 0 576.7px,#f4a380 0 597.3px,#f3a27e 0 617.9px,#f3a07c 0 648.7px,#f39f7a 0 669.3px,#f39d79 0 700.2px,#f29b77 0 741.4px,#f29974 0 782.6px,#f29872 0 834.1px,#f19670 0 895.9px,#f1956f 0 1112.1px,#f19772 0 1163.6px,#f29973 0 1204.8px,#f29a75 0 1236.7px)"></div>
<div style="top:189.83px;height:5.44px;background:linear-gradient(90deg,#f7f7f7 0 10.3px,#f7f6f5 0 20.6px,#f8f4f3 0 30.9px,#f8f3f1 0 41.2px,#f8f2ee 0 51.5px,#f8f1ec 0 61.8px,#f9efea 0 72.1px,#f9eee8 0 82.4px,#f9ede6 0 92.7px,#f9ece4 0 103.0px,#faeae1 0 113.3px,#fae9df 0 123.6px,#fae8dd 0 133.9px,#fbe7db 0 144.2px,#fbe5d9 0 154.5px,#fbe4d7 0 164.8px,#fbe3d4 0 175.1px,#fce2d2 0 185.4px,#fce0d0 0 195.7px,#fcdfce 0 206.0px,#fcdecc 0 216.2px,#fdddca 0 226.5px,#fddbc8 0 236.8px,#fdd9c5 0 247.1px,#fcd7c2 0 257.4px,#fcd5bf 0 267.7px,#fcd2bc 0 278.0px,#fbd0b9 0 288.3px,#fbceb6 0 298.6px,#facbb3 0 308.9px,#fac9b0 0 319.2px,#fac7ad 0 329.5px,#f9c5aa 0 339.8px,#f9c2a8 0 350.1px,#f9c0a5 0 360.4px,#f8bea2 0 370.7px,#f8bc9f 0 381.0px,#f7ba9c 0 391.3px,#f7b89a 0 401.6px,#f7b597 0 411.9px,#f6b394 0 422.2px,#f6b192 0 432.5px,#f6af8f 0 442.8px,#f5ad8d 0 453.1px,#f5ab8a 0 463.4px,#f5a988 0 473.7px,#f4a785 0 484.0px,#f4a683 0 494.3px,#f4a481 0 514.9px,#f3a27e 0 535.5px,#f3a07c 0 556.1px,#f39f7a 0 576.7px,#f39d78 0 597.3px,#f29b77 0 617.9px,#f29a74 0 648.7px,#f29872 0 669.3px,#f19670 0 700.2px,#f1946e 0 731.1px,#f1936c 0 762.0px,#f0916b 0 803.2px,#f08f68 0 854.7px,#f08e67 0 906.2px,#f08d66 0 1101.8px,#f08f68 0 1143.0px,#f0906a 0 1184.2px,#f0926b 0 1215.1px,#f1936d 0 1236.7px)"></div>
<div style="top:184.42px;height:5.44px;background:linear-gradient(90deg,#f7f7f7 0 10.3px,#f7f6f5 0 20.6px,#f8f4f2 0 30.9px,#f8f3f0 0 41.2px,#f8f1ed 0 51.5px,#f9f0eb 0 61.8px,#f9efe8 0 72.1px,#f9ede6 0 82.4px,#f9ece4 0 92.7px,#faeae1 0 103.0px,#fae9df 0 113.3px,#fae7dc 0 123.6px,#fbe6da 0 133.9px,#fbe5d7 0 144.2px,#fbe3d5 0 154.5px,#fce2d2 0 164.8px,#fce0d0 0 175.1px,#fcdfce 0 185.4px,#fcddcb 0 195.7px,#fddcc9 0 206.0px,#fddac6 0 216.2px,#fcd8c3 0 226.5px,#fcd5bf 0 236.8px,#fcd2bc 0 247.1px,#fbd0b8 0 257.4px,#fbcdb5 0 267.7px,#facab2 0 278.0px,#fac8ae 0 288.3px,#f9c5ab 0 298.6px,#f9c2a8 0 308.9px,#f8c0a4 0 319.2px,#f8bda1 0 329.5px,#f8bb9e 0 339.8px,#f7b89b 0 350.1px,#f7b697 0 360.4px,#f6b394 0 370.7px,#f6b191 0 381.0px,#f6ae8e 0 391.3px,#f5ac8b 0 401.6px,#f5aa88 0 411.9px,#f4a785 0 422.2px,#f4a481 0 442.8px,#f4a37f 0 453.1px,#f3a17d 0 473.7px,#f39f7b 0 494.3px,#f39d79 0 504.6px,#f29c77 0 525.2px,#f29974 0 545.8px,#f29873 0 556.1px,#f19771 0 576.7px,#f1956f 0 597.3px,#f1936c 0 617.9px,#f0916a 0 638.4px,#f08f68 0 659.0px,#f08e67 0 679.6px,#ef8c65 0 700.2px,#ef8b63 0 720.8px,#ef8a62 0 741.4px,#ed8761 0 772.3px,#ec8560 0 792.9px,#eb835f 0 823.8px,#ea815e 0 865.0px,#e97f5d 0 916.5px,#e87e5c 0 1081.2px,#e9805d 0 1122.4px,#ea825e 0 1153.3px,#ec845f 0 1184.2px,#ed8760 0 1215.1px,#ee8961 0 1236.7px)"></div>
<div style="top:179.00px;height:5.44px;background:linear-gradient(90deg,#f7f7f7 0 10.3px,#f7f5f4 0 20.6px,#f8f4f1 0 30.9px,#f8f2ef 0 41.2px,#f8f0ec 0 51.5px,#f9efe9 0 61.8px,#f9ede6 0 72.1px,#f9ebe3 0 82.4px,#faeae0 0 92.7px,#fae8de 0 103.0px,#fbe7db 0 113.3px,#fbe5d8 0 123.6px,#fbe3d5 0 133.9px,#fce2d2 0 144.2px,#fce0cf 0 154.5px,#fcdecd 0 164.8px,#fdddca 0 175.1px,#fddbc7 0 185.4px,#fcd8c3 0 195.7px,#fcd5bf 0 206.0px,#fbd2bb 0 216.2px,#fbceb7 0 226.5px,#facbb3 0 236.8px,#fac8af 0 247.1px,#f9c5ab 0 257.4px,#f9c2a7 0 267.7px,#f8bfa3 0 278.0px,#f8bc9f 0 288.3px,#f7b99c 0 298.6px,#f7b698 0 308.9px,#f6b394 0 319.2px,#f6b090 0 329.5px,#f5ad8d 0 339.8px,#f5aa89 0 350.1px,#f4a785 0 360.4px,#f4a582 0 370.7px,#f4a380 0 381.0px,#f3a17e 0 401.6px,#f39f7a 0 422.2px,#f29d78 0 432.5px,#f29b76 0 453.1px,#f29973 0 463.4px,#f19772 0 473.7px,#f19570 0 494.3px,#f1946d 0 504.6px,#f0926b 0 525.2px,#f09069 0 545.8px,#f08e67 0 556.1px,#ef8c65 0 576.7px,#ef8b63 0 587.0px,#ee8961 0 607.6px,#ec8660 0 628.1px,#eb835e 0 648.7px,#e9805d 0 669.3px,#e77d5c 0 689.9px,#e67b5a 0 710.5px,#e57859 0 731.1px,#e37658 0 751.7px,#e27457 0 772.3px,#e17256 0 792.9px,#e07055 0 823.8px,#df6e54 0 854.7px,#dd6c53 0 895.9px,#dc6b52 0 1091.5px,#de6e54 0 1132.7px,#df6f55 0 1153.3px,#e07156 0 1184.2px,#e27357 0 1204.8px,#e37558 0 1225.4px,#e47758 0 1236.7px)"></div>
<div style="top:173.59px;height:5.44px;background:linear-gradient(90deg,#f7f7f7 0 10.3px,#f7f5f4 0 20.6px,#f8f3f1 0 30.9px,#f8f2ee 0 41.2px,#f9f0eb 0 51.5px,#f9eee8 0 61.8px,#f9ece4 0 72.1px,#faeae1 0 82.4px,#fae9de 0 92.7px,#fae7db 0 103.0px,#fbe5d8 0 113.3px,#fbe3d5 0 123.6px,#fce1d2 0 133.9px,#fce0cf 0 144.2px,#fcdecc 0 154.5px,#fddcc9 0 164.8px,#fdd9c5 0 175.1px,#fcd6c0 0 185.4px,#fcd2bc 0 195.7px,#fbcfb8 0 206.0px,#faccb3 0 216.2px,#fac8af 0 226.5px,#f9c5ab 0 236.8px,#f9c1a6 0 247.1px,#f8bea2 0 257.4px,#f8bb9e 0 267.7px,#f7b79a 0 278.0px,#f7b495 0 288.3px,#f6b191 0 298.6px,#f5ae8d 0 308.9px,#f5aa89 0 319.2px,#f4a785 0 329.5px,#f4a581 0 339.8px,#f4a380 0 350.1px,#f3a17e 0 360.4px,#f3a07c 0 370.7px,#f39e7a 0 381.0px,#f29d78 0 391.3px,#f29b76 0 411.9px,#f29873 0 422.2px,#f19771 0 432.5px,#f19570 0 442.8px,#f1946e 0 453.1px,#f1936c 0 463.4px,#f0916b 0 473.7px,#f09069 0 484.0px,#f08f67 0 494.3px,#f08d66 0 504.6px,#ef8b64 0 525.2px,#ee8962 0 535.5px,#ed8761 0 545.8px,#ec8560 0 556.1px,#eb835e 0 576.7px,#e9805d 0 587.0px,#e87e5c 0 597.3px,#e67c5b 0 617.9px,#e57859 0 638.4px,#e37558 0 659.0px,#e17256 0 679.6px,#df7055 0 700.2px,#de6e54 0 710.5px,#dd6c53 0 731.1px,#dc6a52 0 751.7px,#da6751 0 772.3px,#d96550 0 792.9px,#d8644f 0 813.5px,#d7624e 0 844.4px,#d6604d 0 865.0px,#d65e4c 0 885.6px,#d55c4b 0 906.2px,#d55a4a 0 937.1px,#d55849 0 1040.0px,#d55a4a 0 1070.9px,#d65d4b 0 1091.5px,#d65e4c 0 1101.8px,#d6604d 0 1132.7px,#d8634e 0 1163.6px,#d9654f 0 1184.2px,#da6750 0 1204.8px,#db6951 0 1225.4px,#dc6a52 0 1236.7px)"></div>
<div style="top:168.17px;height:5.44px;background:linear-gradient(90deg,#f7f7f7 0 10.3px,#f7f5f4 0 20.6px,#f8f3f0 0 30.9px,#f8f1ed 0 41.2px,#f9efea 0 51.5px,#f9ede6 0 61.8px,#f9ebe3 0 72.1px,#fae9e0 0 82.4px,#fae8dc 0 92.7px,#fbe6d9 0 103.0px,#fbe4d6 0 113.3px,#fce2d2 0 123.6px,#fce0cf 0 133.9px,#fcdecc 0 144.2px,#fddcc9 0 154.5px,#fdd9c5 0 164.8px,#fcd5c0 0 175.1px,#fbd2bb 0 185.4px,#fbceb6 0 195.7px,#facab2 0 206.0px,#fac7ad 0 216.2px,#f9c3a8 0 226.5px,#f8bfa4 0 236.8px,#f8bc9f 0 247.1px,#f7b89b 0 257.4px,#f7b596 0 267.7px,#f6b192 0 278.0px,#f5ae8d 0 288.3px,#f5aa89 0 298.6px,#f4a784 0 308.9px,#f4a481 0 319.2px,#f4a27f 0 329.5px,#f3a17d 0 339.8px,#f39f7b 0 350.1px,#f39d79 0 360.4px,#f29c77 0 370.7px,#f29a75 0 381.0px,#f29973 0 391.3px,#f19771 0 401.6px,#f1956f 0 422.2px,#f1926c 0 432.5px,#f0916a 0 442.8px,#f08f68 0 453.1px,#f08e66 0 463.4px,#ef8c65 0 473.7px,#ef8b63 0 484.0px,#ee8962 0 494.3px,#ed8760 0 504.6px,#ec855f 0 514.9px,#eb835e 0 525.2px,#e9815d 0 535.5px,#e87f5c 0 545.8px,#e77d5b 0 556.1px,#e67b5a 0 566.4px,#e57959 0 576.7px,#e47758 0 587.0px,#e27557 0 597.3px,#e17357 0 607.6px,#e07155 0 628.1px,#de6e54 0 638.4px,#dd6c53 0 659.0px,#db6851 0 679.6px,#d96650 0 700.2px,#d8634e 0 720.8px,#d7614d 0 731.1px,#d65f4d 0 741.4px,#d65c4b 0 751.7px,#d55a4a 0 762.0px,#d55749 0 772.3px,#d55548 0 782.6px,#d45347 0 792.9px,#d45146 0 803.2px,#d44f45 0 813.5px,#d44d44 0 823.8px,#d34b43 0 834.1px,#d34842 0 854.7px,#d34541 0 875.3px,#d24440 0 885.6px,#d2413f 0 916.5px,#d23f3e 0 947.4px,#d23e3d 0 1040.0px,#d2403e 0 1060.6px,#d2423f 0 1081.2px,#d34440 0 1101.8px,#d34641 0 1112.1px,#d34942 0 1132.7px,#d34b43 0 1143.0px,#d44d44 0 1153.3px,#d44f45 0 1163.6px,#d45146 0 1173.9px,#d45347 0 1184.2px,#d55548 0 1194.5px,#d55849 0 1204.8px,#d55a4a 0 1215.1px,#d65d4c 0 1225.4px,#d6604d 0 1236.7px)"></div>
<div style="top:162.75px;height:5.44px;background:linear-gradient(90deg,#f7f7f7 0 10.3px,#f7f5f4 0 20.6px,#f8f3f0 0 30.9px,#f8f1ec 0 41.2px,#f9efe9 0 51.5px,#f9ede5 0 61.8px,#faebe2 0 72.1px,#fae9de 0 82.4px,#fbe7db 0 92.7px,#fbe5d7 0 103.0px,#fbe3d4 0 113.3px,#fce0d0 0 123.6px,#fcdecd 0 133.9px,#fddcc9 0 144.2px,#fddac5 0 154.5px,#fcd6c0 0 164.8px,#fbd2bb 0 175.1px,#fbceb7 0 185.4px,#facab2 0 195.7px,#fac6ad 0 206.0px,#f9c3a8 0 216.2px,#f8bfa3 0 226.5px,#f8bb9e 0 236.8px,#f7b799 0 247.1px,#f6b394 0 257.4px,#f6b08f 0 267.7px,#f5ac8b 0 278.0px,#f5a886 0 288.3px,#f4a582 0 298.6px,#f4a380 0 308.9px,#f3a17d 0 319.2px,#f39f7b 0 329.5px,#f39e79 0 339.8px,#f29c77 0 350.1px,#f29a75 0 360.4px,#f29873 0 370.7px,#f19771 0 381.0px,#f1956f 0 391.3px,#f1936d 0 401.6px,#f0916b 0 411.9px,#f09069 0 422.2px,#f08e67 0 432.5px,#ef8d65 0 442.8px,#ef8b63 0 453.1px,#ef8962 0 463.4px,#ed8760 0 473.7px,#ec845f 0 484.0px,#ea825e 0 494.3px,#e9805d 0 504.6px,#e87e5c 0 514.9px,#e67b5b 0 525.2px,#e5795a 0 535.5px,#e47758 0 545.8px,#e27557 0 556.1px,#e17356 0 566.4px,#e07155 0 576.7px,#df6f54 0 587.0px,#de6d53 0 597.3px,#dd6b52 0 607.6px,#db6952 0 617.9px,#da6650 0 638.4px,#d8644f 0 648.7px,#d7614e 0 669.3px,#d65e4c 0 679.6px,#d55a4a 0 689.9px,#d55749 0 700.2px,#d45347 0 710.5px,#d45046 0 720.8px,#d44d44 0 731.1px,#d34a43 0 741.4px,#d34741 0 751.7px,#d34540 0 762.0px,#d2423f 0 772.3px,#d2403e 0 782.6px,#d23d3d 0 792.9px,#d13b3c 0 803.2px,#d1393b 0 813.5px,#d1373a 0 823.8px,#d13539 0 834.1px,#d03338 0 844.4px,#d03137 0 865.0px,#d02f36 0 875.3px,#d02d35 0 895.9px,#cf2b34 0 916.5px,#cf2833 0 957.7px,#cf2732 0 1029.8px,#cf2933 0 1060.6px,#cf2c35 0 1081.2px,#d02d35 0 1091.5px,#d03036 0 1112.1px,#d03338 0 1132.7px,#d13539 0 1143.0px,#d1373a 0 1153.3px,#d1393b 0 1163.6px,#d13b3c 0 1173.9px,#d23e3d 0 1184.2px,#d2403e 0 1194.5px,#d2433f 0 1204.8px,#d34540 0 1215.1px,#d34842 0 1225.4px,#d34b43 0 1236.7px)"></div>
<div style="top:157.34px;height:5.44px;background:linear-gradient(90deg,#f7f7f7 0 10.3px,#f7f5f3 0 20.6px,#f8f3f0 0 30.9px,#f8f1ec 0 41.2px,#f9eee8 0 51.5px,#f9ece5 0 61.8px,#faeae1 0 72.1px,#fae8dd 0 82.4px,#fbe6da 0 92.7px,#fbe4d6 0 103.0px,#fce2d2 0 113.3px,#fcdfcf 0 123.6px,#fdddcb 0 133.9px,#fddbc7 0 144.2px,#fcd7c2 0 154.5px,#fcd3bd 0 164.8px,#fbcfb8 0 175.1px,#facbb2 0 185.4px,#fac7ad 0 195.7px,#f9c3a8 0 206.0px,#f8bfa3 0 216.2px,#f8bb9e 0 226.5px,#f7b799 0 236.8px,#f6b394 0 247.1px,#f6af8f 0 257.4px,#f5ab8a 0 267.7px,#f4a785 0 278.0px,#f4a481 0 288.3px,#f3a27f 0 298.6px,#f3a07c 0 308.9px,#f39e7a 0 319.2px,#f29c78 0 329.5px,#f29b76 0 339.8px,#f29974 0 350.1px,#f19771 0 360.4px,#f1956f 0 370.7px,#f1936d 0 381.0px,#f0926b 0 391.3px,#f09069 0 401.6px,#f08e67 0 411.9px,#ef8c65 0 422.2px,#ef8b63 0 432.5px,#ee8861 0 442.8px,#ed8660 0 453.1px,#eb835f 0 463.4px,#ea815d 0 473.7px,#e87e5c 0 484.0px,#e77c5b 0 494.3px,#e5795a 0 504.6px,#e47759 0 514.9px,#e27557 0 525.2px,#e17356 0 535.5px,#e07055 0 545.8px,#de6e54 0 556.1px,#dd6c53 0 566.4px,#dc6a52 0 576.7px,#db6851 0 587.0px,#d96650 0 597.3px,#d8644f 0 607.6px,#d7624e 0 617.9px,#d6604d 0 628.1px,#d55c4b 0 638.4px,#d55849 0 648.7px,#d45447 0 659.0px,#d45045 0 669.3px,#d34c44 0 679.6px,#d34842 0 689.9px,#d34540 0 700.2px,#d2413f 0 710.5px,#d23e3d 0 720.8px,#d13b3c 0 731.1px,#d1383a 0 741.4px,#d13539 0 751.7px,#d03237 0 762.0px,#d02f36 0 772.3px,#d02d35 0 782.6px,#cf2a34 0 792.9px,#cf2833 0 803.2px,#cf2532 0 813.5px,#ce2331 0 823.8px,#ce202f 0 844.4px,#ce1e2e 0 854.7px,#cd1b2d 0 875.3px,#cd192c 0 895.9px,#cd172b 0 916.5px,#cd142a 0 957.7px,#cc1329 0 1029.8px,#cd162a 0 1060.6px,#cd182b 0 1081.2px,#cd1a2c 0 1101.8px,#ce1d2e 0 1122.4px,#ce202f 0 1132.7px,#ce2230 0 1143.0px,#ce2431 0 1153.3px,#cf2632 0 1163.6px,#cf2833 0 1173.9px,#cf2b34 0 1184.2px,#d02d35 0 1194.5px,#d03036 0 1204.8px,#d03238 0 1215.1px,#d13539 0 1225.4px,#d1383a 0 1236.7px)"></div>
<div style="top:151.92px;height:5.44px;background:linear-gradient(90deg,#f7f7f7 0 10.3px,#f7f5f3 0 20.6px,#f8f3ef 0 30.9px,#f8f0ec 0 41.2px,#f9eee8 0 51.5px,#f9ece4 0 61.8px,#faeae0 0 72.1px,#fae7dc 0 82.4px,#fbe5d8 0 92.7px,#fbe3d5 0 103.0px,#fce1d1 0 113.3px,#fcdecd 0 123.6px,#fddcc9 0 133.9px,#fdd9c5 0 144.2px,#fcd5bf 0 154.5px,#fbd1ba 0 164.8px,#fbccb4 0 175.1px,#fac8af 0 185.4px,#f9c4a9 0 195.7px,#f8c0a4 0 206.0px,#f8bb9f 0 216.2px,#f7b799 0 226.5px,#f6b394 0 236.8px,#f6af8f 0 247.1px,#f5ab8a 0 257.4px,#f4a784 0 267.7px,#f4a481 0 278.0px,#f3a27e 0 288.3px,#f3a07c 0 298.6px,#f39e7a 0 308.9px,#f29c77 0 319.2px,#f29a75 0 329.5px,#f29873 0 339.8px,#f19670 0 350.1px,#f1946e 0 360.4px,#f1926c 0 370.7px,#f0906a 0 381.0px,#f08f67 0 391.3px,#f08d65 0 401.6px,#ef8b63 0 411.9px,#ee8961 0 422.2px,#ed8660 0 432.5px,#eb835f 0 442.8px,#e9815d 0 453.1px,#e87e5c 0 463.4px,#e67b5b 0 473.7px,#e57959 0 484.0px,#e37658 0 494.3px,#e27457 0 504.6px,#e07156 0 514.9px,#df6f54 0 525.2px,#dd6d53 0 535.5px,#dc6a52 0 545.8px,#db6851 0 556.1px,#d96650 0 566.4px,#d8644f 0 576.7px,#d7614e 0 587.0px,#d65e4c 0 597.3px,#d55a4a 0 607.6px,#d55548 0 617.9px,#d45146 0 628.1px,#d44c44 0 638.4px,#d34842 0 648.7px,#d24440 0 659.0px,#d2403e 0 669.3px,#d13c3c 0 679.6px,#d1383a 0 689.9px,#d13439 0 700.2px,#d03137 0 710.5px,#d02d35 0 720.8px,#cf2a34 0 731.1px,#cf2732 0 741.4px,#ce2431 0 751.7px,#ce212f 0 762.0px,#ce1e2e 0 772.3px,#cd1b2d 0 782.6px,#cd192c 0 792.9px,#cd162a 0 803.2px,#cd1429 0 813.5px,#cc1228 0 823.8px,#cc1027 0 834.1px,#cc0e27 0 844.4px,#cc0c26 0 854.7px,#cb0a25 0 875.3px,#cb0723 0 895.9px,#cb0522 0 916.5px,#ca0321 0 947.4px,#ca0121 0 1029.8px,#ca0322 0 1060.6px,#cb0523 0 1070.9px,#cb0723 0 1091.5px,#cb0924 0 1101.8px,#cb0c25 0 1122.4px,#cc0e27 0 1132.7px,#cc1028 0 1143.0px,#cc1229 0 1153.3px,#cd152a 0 1163.6px,#cd172b 0 1173.9px,#cd192c 0 1184.2px,#cd1c2d 0 1194.5px,#ce1f2e 0 1204.8px,#ce2230 0 1215.1px,#cf2531 0 1225.4px,#cf2833 0 1236.7px)"></div>
<div style="top:146.50px;height:5.44px;background:linear-gradient(90deg,#f7f7f7 0 10.3px,#f7f5f3 0 20.6px,#f8f2ef 0 30.9px,#f8f0eb 0 41.2px,#f9eee7 0 51.5px,#f9ebe3 0 61.8px,#fae9df 0 72.1px,#fae7db 0 82.4px,#fbe4d7 0 92.7px,#fbe2d3 0 103.0px,#fce0cf 0 113.3px,#fcdecb 0 123.6px,#fddbc7 0 133.9px,#fcd7c2 0 144.2px,#fcd3bc 0 154.5px,#fbceb7 0 164.8px,#facab1 0 175.1px,#f9c5ab 0 185.4px,#f9c1a6 0 195.7px,#f8bda0 0 206.0px,#f7b89b 0 216.2px,#f7b495 0 226.5px,#f6b090 0 236.8px,#f5ac8a 0 247.1px,#f4a785 0 257.4px,#f4a481 0 267.7px,#f3a27e 0 278.0px,#f3a07c 0 288.3px,#f39e79 0 298.6px,#f29c77 0 308.9px,#f29a75 0 319.2px,#f29872 0 329.5px,#f19670 0 339.8px,#f1946d 0 350.1px,#f0926b 0 360.4px,#f09069 0 370.7px,#f08e67 0 381.0px,#ef8c64 0 391.3px,#ef8a62 0 401.6px,#ed8761 0 411.9px,#ec845f 0 422.2px,#ea815e 0 432.5px,#e87f5c 0 442.8px,#e77c5b 0 453.1px,#e5795a 0 463.4px,#e37658 0 473.7px,#e27457 0 484.0px,#e07156 0 494.3px,#df6f54 0 504.6px,#dd6c53 0 514.9px,#dc6a52 0 525.2px,#da6751 0 535.5px,#d9654f 0 545.8px,#d7624e 0 556.1px,#d6604d 0 566.4px,#d55b4b 0 576.7px,#d55648 0 587.0px,#d45146 0 597.3px,#d44c44 0 607.6px,#d34741 0 617.9px,#d2433f 0 628.1px,#d23e3d 0 638.4px,#d13a3b 0 648.7px,#d13639 0 659.0px,#d03137 0 669.3px,#d02d35 0 679.6px,#cf2933 0 689.9px,#cf2632 0 700.2px,#ce2230 0 710.5px,#ce1e2e 0 720.8px,#cd1b2d 0 731.1px,#cd182b 0 741.4px,#cd152a 0 751.7px,#cc1128 0 762.0px,#cc0f27 0 772.3px,#cb0c26 0 782.6px,#cb0924 0 792.9px,#cb0723 0 803.2px,#cb0422 0 813.5px,#ca0221 0 823.8px,#c90120 0 865.0px,#c70321 0 937.1px,#c60422 0 1070.9px,#c80221 0 1122.4px,#ca0020 0 1143.0px,#ca0221 0 1153.3px,#cb0522 0 1163.6px,#cb0723 0 1173.9px,#cb0a25 0 1184.2px,#cc0c26 0 1194.5px,#cc0f27 0 1204.8px,#cc1229 0 1215.1px,#cd152a 0 1225.4px,#cd182b 0 1236.7px)"></div>
<div style="top:141.09px;height:5.44px;background:linear-gradient(90deg,#f7f7f7 0 10.3px,#f8f5f3 0 20.6px,#f8f2ef 0 30.9px,#f9f0eb 0 41.2px,#f9ede7 0 51.5px,#faebe3 0 61.8px,#fae9de 0 72.1px,#fbe6da 0 82.4px,#fbe4d6 0 92.7px,#fce2d2 0 103.0px,#fcdfce 0 113.3px,#fdddca 0 123.6px,#fddac6 0 133.9px,#fcd5c0 0 144.2px,#fbd1ba 0 154.5px,#fbccb4 0 164.8px,#fac8ae 0 175.1px,#f9c3a8 0 185.4px,#f8bfa3 0 195.7px,#f8ba9d 0 206.0px,#f7b697 0 216.2px,#f6b192 0 226.5px,#f5ad8c 0 236.8px,#f5a886 0 247.1px,#f4a581 0 257.4px,#f4a27f 0 267.7px,#f3a07c 0 278.0px,#f39e7a 0 288.3px,#f29c77 0 298.6px,#f29a75 0 308.9px,#f29872 0 319.2px,#f19670 0 329.5px,#f1946d 0 339.8px,#f0916b 0 350.1px,#f08f68 0 360.4px,#f08d66 0 370.7px,#ef8b64 0 381.0px,#ef8962 0 391.3px,#ed8660 0 401.6px,#eb835f 0 411.9px,#e9805d 0 422.2px,#e77d5c 0 432.5px,#e67a5a 0 442.8px,#e47859 0 453.1px,#e27557 0 463.4px,#e17256 0 473.7px,#df6f55 0 484.0px,#dd6d53 0 494.3px,#dc6a52 0 504.6px,#da6751 0 514.9px,#d9654f 0 525.2px,#d7624e 0 535.5px,#d65f4d 0 545.8px,#d55a4a 0 556.1px,#d55448 0 566.4px,#d44f45 0 576.7px,#d34a43 0 587.0px,#d34540 0 597.3px,#d2403e 0 607.6px,#d13b3c 0 617.9px,#d13639 0 628.1px,#d03237 0 638.4px,#d02d35 0 648.7px,#cf2933 0 659.0px,#cf2431 0 669.3px,#ce202f 0 679.6px,#ce1c2d 0 689.9px,#cd182b 0 700.2px,#cd142a 0 710.5px,#cc1128 0 720.8px,#cc0d26 0 731.1px,#cb0a25 0 741.4px,#cb0723 0 751.7px,#ca0322 0 762.0px,#c90120 0 792.9px,#c70321 0 823.8px,#c60422 0 865.0px,#c30723 0 957.7px,#c30723 0 1060.6px,#c40623 0 1122.4px,#c60422 0 1153.3px,#c80221 0 1184.2px,#ca0120 0 1204.8px,#cb0422 0 1215.1px,#cb0723 0 1225.4px,#cb0b25 0 1236.7px)"></div>
<div style="top:135.67px;height:5.44px;background:linear-gradient(90deg,#f7f7f7 0 10.3px,#f8f5f3 0 20.6px,#f8f2ef 0 30.9px,#f9f0ea 0 41.2px,#f9ede6 0 51.5px,#faebe2 0 61.8px,#fae8de 0 72.1px,#fbe6da 0 82.4px,#fbe3d5 0 92.7px,#fce1d1 0 103.0px,#fcdecd 0 113.3px,#fddcc9 0 123.6px,#fdd8c4 0 133.9px,#fcd4be 0 144.2px,#fbcfb8 0 154.5px,#facab2 0 164.8px,#f9c6ac 0 175.1px,#f9c1a6 0 185.4px,#f8bca0 0 195.7px,#f7b89a 0 206.0px,#f6b394 0 216.2px,#f6af8e 0 226.5px,#f5aa88 0 236.8px,#f4a683 0 247.1px,#f4a380 0 257.4px,#f3a17d 0 267.7px,#f39f7a 0 278.0px,#f29c78 0 288.3px,#f29a75 0 298.6px,#f29873 0 308.9px,#f19670 0 319.2px,#f1946d 0 329.5px,#f0926b 0 339.8px,#f08f68 0 350.1px,#f08d66 0 360.4px,#ef8b64 0 370.7px,#ee8961 0 381.0px,#ec8660 0 391.3px,#eb835e 0 401.6px,#e9805d 0 411.9px,#e77d5b 0 422.2px,#e57a5a 0 432.5px,#e37758 0 442.8px,#e27457 0 453.1px,#e07155 0 463.4px,#de6e54 0 473.7px,#dd6b53 0 484.0px,#db6851 0 494.3px,#d96650 0 504.6px,#d8634e 0 514.9px,#d6604d 0 525.2px,#d55b4b 0 535.5px,#d55548 0 545.8px,#d44f45 0 556.1px,#d34a43 0 566.4px,#d34440 0 576.7px,#d23f3d 0 587.0px,#d13a3b 0 597.3px,#d13539 0 607.6px,#d03036 0 617.9px,#cf2b34 0 628.1px,#cf2632 0 638.4px,#ce2130 0 648.7px,#ce1d2d 0 659.0px,#cd182b 0 669.3px,#cd1429 0 679.6px,#cc1027 0 689.9px,#cb0c26 0 700.2px,#cb0824 0 710.5px,#cb0422 0 720.8px,#ca0120 0 741.4px,#c80221 0 772.3px,#c50522 0 803.2px,#c40623 0 834.1px,#c20824 0 885.6px,#c00a25 0 1101.8px,#c20823 0 1143.0px,#c40623 0 1173.9px,#c60422 0 1204.8px,#c80221 0 1225.4px,#ca0020 0 1236.7px)"></div>
<div style="top:130.25px;height:5.44px;background:linear-gradient(90deg,#f7f7f7 0 10.3px,#f8f4f3 0 20.6px,#f8f2ee 0 30.9px,#f9efea 0 41.2px,#f9ede6 0 51.5px,#faeae1 0 61.8px,#fae8dd 0 72.1px,#fbe5d9 0 82.4px,#fbe3d5 0 92.7px,#fce0d0 0 103.0px,#fcdecc 0 113.3px,#fddbc8 0 123.6px,#fcd7c2 0 133.9px,#fcd2bc 0 144.2px,#fbcdb5 0 154.5px,#fac9af 0 164.8px,#f9c4a9 0 175.1px,#f8bfa3 0 185.4px,#f8ba9d 0 195.7px,#f7b697 0 206.0px,#f6b191 0 216.2px,#f5ac8b 0 226.5px,#f4a885 0 236.8px,#f4a481 0 247.1px,#f3a27e 0 257.4px,#f39f7b 0 267.7px,#f39d79 0 278.0px,#f29b76 0 288.3px,#f29973 0 298.6px,#f19671 0 308.9px,#f1946e 0 319.2px,#f0926b 0 329.5px,#f09069 0 339.8px,#f08e66 0 350.1px,#ef8c64 0 360.4px,#ee8962 0 370.7px,#ed8660 0 381.0px,#eb835e 0 391.3px,#e97f5d 0 401.6px,#e77c5b 0 411.9px,#e5795a 0 422.2px,#e37658 0 432.5px,#e17357 0 442.8px,#e07055 0 453.1px,#de6d54 0 463.4px,#dc6a52 0 473.7px,#da6751 0 484.0px,#d9644f 0 494.3px,#d7624e 0 504.6px,#d65e4c 0 514.9px,#d55749 0 525.2px,#d45146 0 535.5px,#d34c43 0 545.8px,#d34641 0 556.1px,#d2403e 0 566.4px,#d13a3b 0 576.7px,#d13539 0 587.0px,#d03036 0 597.3px,#cf2a34 0 607.6px,#cf2531 0 617.9px,#ce202f 0 628.1px,#cd1b2d 0 638.4px,#cd172b 0 648.7px,#cc1228 0 659.0px,#cc0d26 0 669.3px,#cb0924 0 679.6px,#cb0522 0 689.9px,#ca0120 0 710.5px,#c80221 0 731.1px,#c60422 0 762.0px,#c40623 0 782.6px,#c10924 0 823.8px,#bf0b25 0 854.7px,#be0c26 0 916.5px,#bc0e26 0 1081.2px,#be0c25 0 1122.4px,#c00a24 0 1163.6px,#c30723 0 1194.5px,#c50523 0 1215.1px,#c60422 0 1236.7px)"></div>
<div style="top:124.84px;height:5.44px;background:linear-gradient(90deg,#f7f7f7 0 10.3px,#f8f4f3 0 20.6px,#f8f2ee 0 30.9px,#f9efea 0 41.2px,#f9ede5 0 51.5px,#faeae1 0 61.8px,#fae8dd 0 72.1px,#fbe5d8 0 82.4px,#fbe2d4 0 92.7px,#fce0cf 0 103.0px,#fdddcb 0 113.3px,#fddbc6 0 123.6px,#fcd6c0 0 133.9px,#fbd1ba 0 144.2px,#faccb4 0 154.5px,#fac7ad 0 164.8px,#f9c2a7 0 175.1px,#f8bda1 0 185.4px,#f7b89b 0 195.7px,#f6b495 0 206.0px,#f6af8e 0 216.2px,#f5aa88 0 226.5px,#f4a582 0 236.8px,#f4a37f 0 247.1px,#f3a07d 0 257.4px,#f39e7a 0 267.7px,#f29c77 0 278.0px,#f29974 0 288.3px,#f19772 0 298.6px,#f1956f 0 308.9px,#f1936c 0 319.2px,#f0906a 0 329.5px,#f08e67 0 339.8px,#ef8c64 0 350.1px,#ef8a62 0 360.4px,#ed8660 0 370.7px,#eb835e 0 381.0px,#e9805d 0 391.3px,#e77c5b 0 401.6px,#e5795a 0 411.9px,#e37658 0 422.2px,#e17356 0 432.5px,#df7055 0 442.8px,#de6d53 0 453.1px,#dc6a52 0 463.4px,#da6750 0 473.7px,#d8644f 0 484.0px,#d7614d 0 494.3px,#d55c4b 0 504.6px,#d55548 0 514.9px,#d44f45 0 525.2px,#d34942 0 535.5px,#d2433f 0 545.8px,#d23d3d 0 556.1px,#d1373a 0 566.4px,#d03137 0 576.7px,#cf2c35 0 587.0px,#cf2632 0 597.3px,#ce212f 0 607.6px,#cd1c2d 0 617.9px,#cd172b 0 628.1px,#cc1228 0 638.4px,#cc0d26 0 648.7px,#cb0824 0 659.0px,#ca0322 0 669.3px,#c90120 0 689.9px,#c70321 0 710.5px,#c50522 0 731.1px,#c30723 0 751.7px,#c20824 0 772.3px,#c00a25 0 803.2px,#be0c26 0 844.4px,#bb0f27 0 885.6px,#ba1027 0 1101.8px,#bd0d26 0 1143.0px,#bf0b25 0 1173.9px,#c10924 0 1204.8px,#c30723 0 1225.4px,#c40623 0 1236.7px)"></div>
<div style="top:119.42px;height:5.44px;background:linear-gradient(90deg,#f7f7f7 0 10.3px,#f8f4f3 0 20.6px,#f8f2ee 0 30.9px,#f9efea 0 41.2px,#f9ede5 0 51.5px,#faeae1 0 61.8px,#fae7dc 0 72.1px,#fbe5d8 0 82.4px,#fbe2d3 0 92.7px,#fcdfcf 0 103.0px,#fdddca 0 113.3px,#fddac5 0 123.6px,#fcd4bf 0 133.9px,#fbcfb8 0 144.2px,#facab2 0 154.5px,#f9c5ac 0 164.8px,#f9c1a5 0 175.1px,#f8bc9f 0 185.4px,#f7b799 0 195.7px,#f6b292 0 206.0px,#f5ad8c 0 216.2px,#f4a886 0 226.5px,#f4a481 0 236.8px,#f3a27e 0 247.1px,#f39f7b 0 257.4px,#f29d78 0 267.7px,#f29b76 0 278.0px,#f29873 0 288.3px,#f19670 0 298.6px,#f1946d 0 308.9px,#f0916b 0 319.2px,#f08f68 0 329.5px,#ef8d65 0 339.8px,#ef8a63 0 350.1px,#ed8761 0 360.4px,#eb845f 0 370.7px,#e9805d 0 381.0px,#e77d5c 0 391.3px,#e57a5a 0 401.6px,#e37758 0 411.9px,#e17357 0 422.2px,#e07055 0 432.5px,#de6d53 0 442.8px,#dc6a52 0 453.1px,#da6750 0 463.4px,#d8644f 0 473.7px,#d6614d 0 484.0px,#d55b4b 0 494.3px,#d55448 0 504.6px,#d44e44 0 514.9px,#d34741 0 525.2px,#d2413f 0 535.5px,#d13b3c 0 545.8px,#d13539 0 556.1px,#d02f36 0 566.4px,#cf2933 0 576.7px,#ce2331 0 587.0px,#ce1e2e 0 597.3px,#cd182b 0 607.6px,#cc1329 0 617.9px,#cc0e27 0 628.1px,#cb0924 0 638.4px,#ca0422 0 648.7px,#c90120 0 669.3px,#c70321 0 689.9px,#c50522 0 710.5px,#c30723 0 731.1px,#c00a24 0 762.0px,#be0c25 0 782.6px,#bd0d26 0 813.5px,#ba1027 0 854.7px,#b81228 0 906.2px,#b71329 0 1091.5px,#ba1028 0 1132.7px,#bb0f27 0 1163.6px,#bd0d26 0 1194.5px,#bf0b25 0 1215.1px,#c10924 0 1236.7px)"></div>
<div style="top:114.00px;height:5.44px;background:linear-gradient(90deg,#f7f7f7 0 10.3px,#f8f4f2 0 20.6px,#f8f2ee 0 30.9px,#f9efe9 0 41.2px,#f9ece5 0 51.5px,#faeae0 0 61.8px,#fae7dc 0 72.1px,#fbe4d7 0 82.4px,#fce2d2 0 92.7px,#fcdfce 0 103.0px,#fddcc9 0 113.3px,#fdd9c4 0 123.6px,#fcd3bd 0 133.9px,#fbceb7 0 144.2px,#fac9b0 0 154.5px,#f9c4aa 0 164.8px,#f8bfa3 0 175.1px,#f8ba9d 0 185.4px,#f7b597 0 195.7px,#f6b090 0 206.0px,#f5ab8a 0 216.2px,#f4a684 0 226.5px,#f4a380 0 236.8px,#f3a17d 0 247.1px,#f39e7a 0 257.4px,#f29c77 0 267.7px,#f29974 0 278.0px,#f19771 0 288.3px,#f1956f 0 298.6px,#f1926c 0 308.9px,#f09069 0 319.2px,#f08e66 0 329.5px,#ef8b64 0 339.8px,#ee8961 0 350.1px,#ec8560 0 360.4px,#ea825e 0 370.7px,#e87e5c 0 381.0px,#e67b5a 0 391.3px,#e47759 0 401.6px,#e27457 0 411.9px,#e07155 0 422.2px,#de6d54 0 432.5px,#dc6a52 0 442.8px,#da6751 0 453.1px,#d8644f 0 463.4px,#d7614d 0 473.7px,#d55b4b 0 484.0px,#d55448 0 494.3px,#d44e44 0 504.6px,#d34741 0 514.9px,#d2403e 0 525.2px,#d13a3b 0 535.5px,#d03438 0 545.8px,#d02e35 0 556.1px,#cf2833 0 566.4px,#ce2230 0 576.7px,#cd1c2d 0 587.0px,#cd162a 0 597.3px,#cc1128 0 607.6px,#cb0b25 0 617.9px,#cb0623 0 628.1px,#ca0120 0 648.7px,#c70321 0 669.3px,#c50522 0 689.9px,#c30723 0 710.5px,#c10924 0 731.1px,#bf0b25 0 751.7px,#bd0d26 0 782.6px,#ba1027 0 813.5px,#b81228 0 844.4px,#b61429 0 895.9px,#b5152a 0 1101.8px,#b71328 0 1132.7px,#b91128 0 1163.6px,#bb0f27 0 1194.5px,#bd0d26 0 1215.1px,#bf0b25 0 1236.7px)"></div>
<div style="top:108.59px;height:5.44px;background:linear-gradient(90deg,#f7f7f7 0 10.3px,#f8f4f2 0 20.6px,#f8f2ee 0 30.9px,#f9efe9 0 41.2px,#f9ece4 0 51.5px,#fae9e0 0 61.8px,#fae7db 0 72.1px,#fbe4d7 0 82.4px,#fce1d2 0 92.7px,#fcdfcd 0 103.0px,#fddcc9 0 113.3px,#fcd8c3 0 123.6px,#fcd3bc 0 133.9px,#fbcdb6 0 144.2px,#fac8af 0 154.5px,#f9c3a8 0 164.8px,#f8bea2 0 175.1px,#f7b99b 0 185.4px,#f6b495 0 195.7px,#f6af8e 0 206.0px,#f5aa88 0 216.2px,#f4a582 0 226.5px,#f3a27f 0 236.8px,#f3a07c 0 247.1px,#f39d79 0 257.4px,#f29b76 0 267.7px,#f29873 0 278.0px,#f19670 0 288.3px,#f1946d 0 298.6px,#f0916b 0 308.9px,#f08f68 0 319.2px,#ef8c65 0 329.5px,#ef8a62 0 339.8px,#ed8760 0 350.1px,#eb835f 0 360.4px,#e9805d 0 370.7px,#e77c5b 0 381.0px,#e57959 0 391.3px,#e37558 0 401.6px,#e17256 0 411.9px,#df6e54 0 422.2px,#dd6b53 0 432.5px,#db6851 0 442.8px,#d9654f 0 453.1px,#d7624e 0 463.4px,#d65c4b 0 473.7px,#d55548 0 484.0px,#d44e45 0 494.3px,#d34842 0 504.6px,#d2413e 0 514.9px,#d13a3b 0 525.2px,#d03438 0 535.5px,#d02d35 0 545.8px,#cf2732 0 556.1px,#ce212f 0 566.4px,#cd1b2d 0 576.7px,#cd152a 0 587.0px,#cc0f27 0 597.3px,#cb0a25 0 607.6px,#cb0422 0 617.9px,#ca0020 0 628.1px,#c80221 0 648.7px,#c50522 0 669.3px,#c40623 0 679.6px,#c20824 0 700.2px,#c00a25 0 720.8px,#be0c26 0 741.4px,#bb0f27 0 772.3px,#b91128 0 792.9px,#b81228 0 823.8px,#b61429 0 865.0px,#b3172a 0 926.8px,#b2182b 0 1070.9px,#b4162a 0 1122.4px,#b71329 0 1153.3px,#b91128 0 1184.2px,#ba1027 0 1204.8px,#bc0e26 0 1225.4px,#be0c26 0 1236.7px)"></div>
<div style="top:103.17px;height:5.44px;background:linear-gradient(90deg,#f7f7f7 0 10.3px,#f8f4f2 0 20.6px,#f8f2ee 0 30.9px,#f9efe9 0 41.2px,#f9ece4 0 51.5px,#fae9e0 0 61.8px,#fbe7db 0 72.1px,#fbe4d6 0 82.4px,#fce1d1 0 92.7px,#fcdecd 0 103.0px,#fddcc8 0 113.3px,#fcd7c2 0 123.6px,#fbd2bb 0 133.9px,#fbccb4 0 144.2px,#fac7ae 0 154.5px,#f9c2a7 0 164.8px,#f8bda0 0 175.1px,#f7b89a 0 185.4px,#f6b293 0 195.7px,#f5ad8d 0 206.0px,#f5a886 0 216.2px,#f4a481 0 226.5px,#f3a27e 0 236.8px,#f39f7b 0 247.1px,#f29c78 0 257.4px,#f29a75 0 267.7px,#f29872 0 278.0px,#f1956f 0 288.3px,#f1936c 0 298.6px,#f09069 0 308.9px,#f08e67 0 319.2px,#ef8b64 0 329.5px,#ee8961 0 339.8px,#ec855f 0 350.1px,#ea815e 0 360.4px,#e87e5c 0 370.7px,#e67a5a 0 381.0px,#e47758 0 391.3px,#e17357 0 401.6px,#df7055 0 411.9px,#dd6c53 0 422.2px,#db6952 0 432.5px,#d96650 0 442.8px,#d8634e 0 453.1px,#d65e4c 0 463.4px,#d55749 0 473.7px,#d45046 0 484.0px,#d34942 0 494.3px,#d2423f 0 504.6px,#d13b3c 0 514.9px,#d13539 0 525.2px,#d02e36 0 535.5px,#cf2833 0 545.8px,#ce2130 0 556.1px,#cd1b2d 0 566.4px,#cd152a 0 576.7px,#cc0f27 0 587.0px,#cb0924 0 597.3px,#ca0422 0 607.6px,#ca0020 0 617.9px,#c70321 0 638.4px,#c60422 0 648.7px,#c40623 0 669.3px,#c10924 0 689.9px,#bf0b25 0 710.5px,#bc0e26 0 741.4px,#ba1027 0 762.0px,#b81228 0 782.6px,#b71329 0 813.5px,#b5152a 0 844.4px,#b3172b 0 885.6px,#b0172b 0 906.2px,#ae172a 0 926.8px,#ad162a 0 1050.3px,#b0172b 0 1070.9px,#b2182b 0 1091.5px,#b3172a 0 1132.7px,#b51529 0 1163.6px,#b71328 0 1194.5px,#ba1028 0 1215.1px,#bb0f27 0 1236.7px)"></div>
<div style="top:97.76px;height:5.44px;background:linear-gradient(90deg,#f7f7f7 0 10.3px,#f8f4f2 0 20.6px,#f8f1ee 0 30.9px,#f9efe9 0 41.2px,#f9ece4 0 51.5px,#fae9df 0 61.8px,#fbe6da 0 72.1px,#fbe4d6 0 82.4px,#fce1d1 0 92.7px,#fcdecc 0 103.0px,#fddbc7 0 113.3px,#fcd6c1 0 123.6px,#fbd1ba 0 133.9px,#faccb3 0 144.2px,#fac6ad 0 154.5px,#f9c1a6 0 164.8px,#f8bc9f 0 175.1px,#f7b798 0 185.4px,#f6b192 0 195.7px,#f5ac8b 0 206.0px,#f4a785 0 216.2px,#f4a380 0 226.5px,#f3a17d 0 236.8px,#f39e7a 0 247.1px,#f29c77 0 257.4px,#f29974 0 267.7px,#f19771 0 278.0px,#f1946e 0 288.3px,#f0926b 0 298.6px,#f08f68 0 308.9px,#f08d65 0 319.2px,#ef8b63 0 329.5px,#ed8761 0 339.8px,#eb835f 0 350.1px,#e9805d 0 360.4px,#e77c5b 0 370.7px,#e57959 0 381.0px,#e37558 0 391.3px,#e07156 0 401.6px,#de6e54 0 411.9px,#dc6b52 0 422.2px,#da6751 0 432.5px,#d8644f 0 442.8px,#d6614d 0 453.1px,#d55a4a 0 463.4px,#d45347 0 473.7px,#d34b43 0 484.0px,#d34440 0 494.3px,#d23d3d 0 504.6px,#d1363a 0 514.9px,#d03036 0 525.2px,#cf2933 0 535.5px,#ce2330 0 545.8px,#ce1c2d 0 556.1px,#cd162a 0 566.4px,#cc1027 0 576.7px,#cb0a25 0 587.0px,#ca0422 0 597.3px,#ca0020 0 607.6px,#c70321 0 628.1px,#c50522 0 648.7px,#c20824 0 669.3px,#c00a25 0 689.9px,#be0c26 0 710.5px,#bb0f27 0 731.1px,#b91128 0 751.7px,#b81228 0 772.3px,#b61429 0 803.2px,#b4162a 0 834.1px,#b2182b 0 854.7px,#b0172b 0 865.0px,#ae172a 0 885.6px,#ab162a 0 906.2px,#a9152a 0 926.8px,#a71529 0 1050.3px,#aa162a 0 1070.9px,#ad162a 0 1091.5px,#af172b 0 1112.1px,#b2172b 0 1143.0px,#b4162a 0 1173.9px,#b71329 0 1204.8px,#b91128 0 1225.4px,#ba1027 0 1236.7px)"></div>
<div style="top:92.34px;height:5.44px;background:linear-gradient(90deg,#f7f7f7 0 10.3px,#f8f4f2 0 20.6px,#f8f1ed 0 30.9px,#f9efe9 0 41.2px,#f9ece4 0 51.5px,#fae9df 0 61.8px,#fbe6da 0 72.1px,#fbe3d5 0 82.4px,#fce1d1 0 92.7px,#fcdecc 0 103.0px,#fddbc7 0 113.3px,#fcd6c0 0 123.6px,#fbd0b9 0 133.9px,#facbb2 0 144.2px,#f9c6ac 0 154.5px,#f9c0a5 0 164.8px,#f8bb9e 0 175.1px,#f7b697 0 185.4px,#f6b091 0 195.7px,#f5ab8a 0 206.0px,#f4a683 0 216.2px,#f4a37f 0 226.5px,#f3a07c 0 236.8px,#f39e79 0 247.1px,#f29b76 0 257.4px,#f29973 0 267.7px,#f19670 0 278.0px,#f1946d 0 288.3px,#f0916a 0 298.6px,#f08f67 0 308.9px,#ef8c65 0 319.2px,#ef8a62 0 329.5px,#ec8660 0 339.8px,#ea825e 0 350.1px,#e87e5c 0 360.4px,#e67b5a 0 370.7px,#e47759 0 381.0px,#e27457 0 391.3px,#e07055 0 401.6px,#dd6c53 0 411.9px,#db6952 0 422.2px,#d96650 0 432.5px,#d7624e 0 442.8px,#d65e4c 0 453.1px,#d55648 0 463.4px,#d44f45 0 473.7px,#d34741 0 484.0px,#d2403e 0 494.3px,#d1393b 0 504.6px,#d03238 0 514.9px,#cf2b34 0 525.2px,#cf2531 0 535.5px,#ce1e2e 0 545.8px,#cd182b 0 556.1px,#cc1128 0 566.4px,#cb0b25 0 576.7px,#cb0522 0 587.0px,#ca0020 0 597.3px,#c80221 0 617.9px,#c60422 0 628.1px,#c30723 0 648.7px,#c20824 0 659.0px,#c00a25 0 679.6px,#bd0d26 0 700.2px,#bb0f27 0 720.8px,#b91128 0 741.4px,#b71329 0 762.0px,#b51529 0 782.6px,#b4162a 0 813.5px,#b2182b 0 823.8px,#b0172b 0 834.1px,#ae172a 0 854.7px,#aa162a 0 875.3px,#a81529 0 895.9px,#a61429 0 916.5px,#a31329 0 957.7px,#a21328 0 1029.8px,#a51429 0 1060.6px,#a71429 0 1081.2px,#a9152a 0 1101.8px,#ac162a 0 1122.4px,#af172b 0 1132.7px,#b2182b 0 1153.3px,#b4162a 0 1184.2px,#b61429 0 1204.8px,#b71328 0 1225.4px,#b91128 0 1236.7px)"></div>
<div style="top:86.92px;height:5.44px;background:linear-gradient(90deg,#f7f7f7 0 10.3px,#f8f4f2 0 20.6px,#f8f1ed 0 30.9px,#f9efe8 0 41.2px,#f9ece4 0 51.5px,#fae9df 0 61.8px,#fbe6da 0 72.1px,#fbe3d5 0 82.4px,#fce0d0 0 92.7px,#fcdecb 0 103.0px,#fddbc6 0 113.3px,#fcd5bf 0 123.6px,#fbd0b9 0 133.9px,#facab2 0 144.2px,#f9c5ab 0 154.5px,#f8c0a4 0 164.8px,#f8ba9d 0 175.1px,#f7b596 0 185.4px,#f6b08f 0 195.7px,#f5aa89 0 206.0px,#f4a582 0 216.2px,#f4a27f 0 226.5px,#f3a07c 0 236.8px,#f39d79 0 247.1px,#f29b76 0 257.4px,#f29873 0 267.7px,#f19570 0 278.0px,#f1936d 0 288.3px,#f0906a 0 298.6px,#f08e67 0 308.9px,#ef8b64 0 319.2px,#ee8861 0 329.5px,#ec855f 0 339.8px,#ea815d 0 350.1px,#e77d5c 0 360.4px,#e57a5a 0 370.7px,#e37658 0 381.0px,#e17256 0 391.3px,#df6f54 0 401.6px,#dd6b53 0 411.9px,#db6851 0 422.2px,#d9644f 0 432.5px,#d7614d 0 442.8px,#d55a4a 0 453.1px,#d45347 0 463.4px,#d34b43 0 473.7px,#d24440 0 484.0px,#d23d3c 0 494.3px,#d13639 0 504.6px,#d02f36 0 514.9px,#cf2833 0 525.2px,#ce212f 0 535.5px,#cd1a2c 0 545.8px,#cc1429 0 556.1px,#cc0d26 0 566.4px,#cb0723 0 576.7px,#c90121 0 597.3px,#c70322 0 617.9px,#c40623 0 638.4px,#c20824 0 648.7px,#c00a25 0 669.3px,#bd0d26 0 689.9px,#bb0f27 0 710.5px,#b91128 0 731.1px,#b61429 0 762.0px,#b4162a 0 782.6px,#b3172b 0 803.2px,#b1182b 0 813.5px,#af172a 0 823.8px,#ad162a 0 834.1px,#ab162a 0 844.4px,#a9152a 0 854.7px,#a71429 0 875.3px,#a41329 0 895.9px,#a21328 0 916.5px,#9f1228 0 957.7px,#9e1228 0 1029.8px,#a11228 0 1060.6px,#a21329 0 1070.9px,#a41429 0 1091.5px,#a61429 0 1101.8px,#a91529 0 1122.4px,#ab162a 0 1132.7px,#ad162a 0 1143.0px,#af172b 0 1153.3px,#b1182b 0 1163.6px,#b3172a 0 1194.5px,#b51529 0 1215.1px,#b71329 0 1236.7px)"></div>
<div style="top:81.51px;height:5.44px;background:linear-gradient(90deg,#f7f7f7 0 10.3px,#f8f4f2 0 20.6px,#f8f1ed 0 30.9px,#f9eee8 0 41.2px,#f9ece4 0 51.5px,#fae9df 0 61.8px,#fbe6da 0 72.1px,#fbe3d5 0 82.4px,#fce0d0 0 92.7px,#fcddcb 0 103.0px,#fddac6 0 113.3px,#fcd5bf 0 123.6px,#fbcfb8 0 133.9px,#facab1 0 144.2px,#f9c4aa 0 154.5px,#f8bfa3 0 164.8px,#f7ba9c 0 175.1px,#f7b495 0 185.4px,#f6af8f 0 195.7px,#f5aa88 0 206.0px,#f4a582 0 216.2px,#f3a27e 0 226.5px,#f39f7b 0 236.8px,#f29d78 0 247.1px,#f29a75 0 257.4px,#f29872 0 267.7px,#f1956f 0 278.0px,#f1926c 0 288.3px,#f09069 0 298.6px,#f08d66 0 308.9px,#ef8b63 0 319.2px,#ee8861 0 329.5px,#eb845f 0 339.8px,#e9805d 0 350.1px,#e77c5b 0 360.4px,#e57859 0 370.7px,#e27557 0 381.0px,#e07156 0 391.3px,#de6e54 0 401.6px,#dc6a52 0 411.9px,#da6750 0 422.2px,#d8634f 0 432.5px,#d65f4d 0 442.8px,#d55849 0 453.1px,#d45045 0 463.4px,#d34842 0 473.7px,#d2413e 0 484.0px,#d13a3b 0 494.3px,#d03338 0 504.6px,#cf2c34 0 514.9px,#cf2531 0 525.2px,#ce1e2e 0 535.5px,#cd172b 0 545.8px,#cc1128 0 556.1px,#cb0a25 0 566.4px,#ca0422 0 576.7px,#c90121 0 597.3px,#c60422 0 617.9px,#c40623 0 628.1px,#c20824 0 648.7px,#c00a25 0 659.0px,#be0c26 0 679.6px,#bb0f27 0 700.2px,#b91128 0 720.8px,#b71329 0 741.4px,#b5152a 0 772.3px,#b2182b 0 792.9px,#b0172b 0 803.2px,#ad172a 0 813.5px,#ab162a 0 823.8px,#a9152a 0 834.1px,#a71429 0 854.7px,#a31329 0 875.3px,#a11228 0 895.9px,#9e1228 0 916.5px,#9c1128 0 947.4px,#9b1127 0 1029.8px,#9d1128 0 1060.6px,#a01228 0 1081.2px,#a21328 0 1101.8px,#a51429 0 1122.4px,#a81529 0 1132.7px,#aa152a 0 1143.0px,#ac162a 0 1153.3px,#ae172a 0 1163.6px,#b0172b 0 1173.9px,#b3172b 0 1194.5px,#b4162a 0 1215.1px,#b61429 0 1236.7px)"></div>
<div style="top:76.09px;height:5.44px;background:linear-gradient(90deg,#f7f7f7 0 10.3px,#f8f4f2 0 20.6px,#f8f1ed 0 30.9px,#f9eee8 0 41.2px,#f9ece3 0 51.5px,#fae9de 0 61.8px,#fbe6da 0 72.1px,#fbe3d5 0 82.4px,#fce0d0 0 92.7px,#fdddcb 0 103.0px,#fddac6 0 113.3px,#fcd4be 0 123.6px,#fbcfb7 0 133.9px,#fac9b1 0 144.2px,#f9c4aa 0 154.5px,#f8bea3 0 164.8px,#f7b99c 0 175.1px,#f6b495 0 185.4px,#f6ae8e 0 195.7px,#f5a987 0 206.0px,#f4a481 0 216.2px,#f3a27e 0 226.5px,#f39f7b 0 236.8px,#f29c78 0 247.1px,#f29a75 0 257.4px,#f19772 0 267.7px,#f1956f 0 278.0px,#f0926b 0 288.3px,#f08f68 0 298.6px,#f08d65 0 308.9px,#ef8a62 0 319.2px,#ed8760 0 329.5px,#eb835e 0 339.8px,#e97f5d 0 350.1px,#e67b5b 0 360.4px,#e47859 0 370.7px,#e27457 0 381.0px,#e07055 0 391.3px,#de6d53 0 401.6px,#db6952 0 411.9px,#d96650 0 422.2px,#d7624e 0 432.5px,#d65d4c 0 442.8px,#d55548 0 453.1px,#d44e44 0 463.4px,#d34641 0 473.7px,#d23f3d 0 484.0px,#d1373a 0 494.3px,#d03037 0 504.6px,#cf2933 0 514.9px,#ce2230 0 525.2px,#cd1b2d 0 535.5px,#cd142a 0 545.8px,#cc0e26 0 556.1px,#cb0723 0 566.4px,#c90121 0 587.0px,#c60422 0 607.6px,#c40623 0 628.1px,#c10924 0 648.7px,#be0c25 0 669.3px,#bc0e27 0 689.9px,#b91128 0 710.5px,#b71329 0 731.1px,#b5152a 0 751.7px,#b3172a 0 772.3px,#b2182b 0 782.6px,#b0172b 0 792.9px,#ad162a 0 803.2px,#ab162a 0 813.5px,#a9152a 0 823.8px,#a71429 0 834.1px,#a51429 0 844.4px,#a31329 0 854.7px,#a11228 0 875.3px,#9f1228 0 885.6px,#9d1128 0 906.2px,#9a1027 0 937.1px,#991027 0 1040.0px,#9c1127 0 1070.9px,#9e1228 0 1091.5px,#a01228 0 1101.8px,#a21328 0 1112.1px,#a41429 0 1132.7px,#a71529 0 1143.0px,#a9152a 0 1153.3px,#ac162a 0 1163.6px,#ae172a 0 1173.9px,#b0172b 0 1184.2px,#b3172b 0 1204.8px,#b5152a 0 1225.4px,#b61429 0 1236.7px)"></div>
<div style="top:70.67px;height:5.44px;background:linear-gradient(90deg,#f7f7f7 0 10.3px,#f8f4f2 0 20.6px,#f8f1ed 0 30.9px,#f9eee8 0 41.2px,#f9ece3 0 51.5px,#fae9de 0 61.8px,#fbe6d9 0 72.1px,#fbe3d5 0 82.4px,#fce0d0 0 92.7px,#fdddcb 0 103.0px,#fddac5 0 113.3px,#fcd4be 0 123.6px,#fbcfb7 0 133.9px,#fac9b0 0 144.2px,#f9c4a9 0 154.5px,#f8bea2 0 164.8px,#f7b99b 0 175.1px,#f6b394 0 185.4px,#f5ae8d 0 195.7px,#f5a886 0 206.0px,#f4a481 0 216.2px,#f3a17e 0 226.5px,#f39f7b 0 236.8px,#f29c77 0 247.1px,#f29974 0 257.4px,#f19771 0 267.7px,#f1946e 0 278.0px,#f0926b 0 288.3px,#f08f68 0 298.6px,#ef8d65 0 308.9px,#ef8a62 0 319.2px,#ed8660 0 329.5px,#ea825e 0 339.8px,#e87f5c 0 350.1px,#e67b5a 0 360.4px,#e47759 0 370.7px,#e17357 0 381.0px,#df7055 0 391.3px,#dd6c53 0 401.6px,#db6851 0 411.9px,#d9654f 0 422.2px,#d7614e 0 432.5px,#d55b4b 0 442.8px,#d45347 0 453.1px,#d34c44 0 463.4px,#d34440 0 473.7px,#d23d3c 0 484.0px,#d13539 0 494.3px,#d02e36 0 504.6px,#cf2732 0 514.9px,#ce202f 0 525.2px,#cd192c 0 535.5px,#cc1229 0 545.8px,#cb0c26 0 556.1px,#cb0522 0 566.4px,#ca0020 0 576.7px,#c70321 0 597.3px,#c40623 0 617.9px,#c20824 0 638.4px,#c00a25 0 648.7px,#be0c26 0 669.3px,#bb0f27 0 689.9px,#b91128 0 710.5px,#b71329 0 731.1px,#b5152a 0 751.7px,#b3172b 0 772.3px,#b0172b 0 782.6px,#ae172a 0 792.9px,#ab162a 0 803.2px,#a9152a 0 813.5px,#a71429 0 823.8px,#a51429 0 834.1px,#a31329 0 844.4px,#a11328 0 854.7px,#9f1228 0 875.3px,#9c1127 0 895.9px,#9a1027 0 916.5px,#970f27 0 957.7px,#960f27 0 1029.8px,#991027 0 1060.6px,#9a1027 0 1070.9px,#9c1128 0 1091.5px,#9e1228 0 1101.8px,#a01228 0 1112.1px,#a21329 0 1132.7px,#a51429 0 1143.0px,#a71529 0 1153.3px,#aa152a 0 1163.6px,#ac162a 0 1173.9px,#ae172a 0 1184.2px,#b1182b 0 1194.5px,#b3172a 0 1225.4px,#b51529 0 1236.7px)"></div>
<div style="top:65.26px;height:5.44px;background:linear-gradient(90deg,#f7f7f7 0 10.3px,#f8f4f2 0 20.6px,#f8f1ed 0 30.9px,#f9eee8 0 41.2px,#f9ebe3 0 51.5px,#fae9de 0 61.8px,#fbe6d9 0 72.1px,#fbe3d4 0 82.4px,#fce0cf 0 92.7px,#fdddcb 0 103.0px,#fdd9c5 0 113.3px,#fcd4be 0 123.6px,#fbceb7 0 133.9px,#fac9b0 0 144.2px,#f9c3a9 0 154.5px,#f8bea2 0 164.8px,#f7b89b 0 175.1px,#f6b394 0 185.4px,#f5ae8d 0 195.7px,#f5a886 0 206.0px,#f4a481 0 216.2px,#f3a17d 0 226.5px,#f39f7a 0 236.8px,#f29c77 0 247.1px,#f29974 0 257.4px,#f19771 0 267.7px,#f1946e 0 278.0px,#f0916b 0 288.3px,#f08f68 0 298.6px,#ef8c65 0 308.9px,#ef8a62 0 319.2px,#ed8660 0 329.5px,#ea825e 0 339.8px,#e87e5c 0 350.1px,#e67a5a 0 360.4px,#e37758 0 370.7px,#e17356 0 381.0px,#df6f55 0 391.3px,#dd6c53 0 401.6px,#db6851 0 411.9px,#d9644f 0 422.2px,#d7614d 0 432.5px,#d55a4a 0 442.8px,#d45247 0 453.1px,#d34b43 0 463.4px,#d2433f 0 473.7px,#d13b3c 0 484.0px,#d13438 0 494.3px,#d02d35 0 504.6px,#cf2632 0 514.9px,#ce1f2e 0 525.2px,#cd182b 0 535.5px,#cc1128 0 545.8px,#cb0a25 0 556.1px,#ca0422 0 566.4px,#c90121 0 587.0px,#c60422 0 607.6px,#c30723 0 628.1px,#c00a25 0 648.7px,#bd0d26 0 669.3px,#bb0f27 0 689.9px,#b81228 0 710.5px,#b61429 0 731.1px,#b4162a 0 751.7px,#b3172b 0 762.0px,#b1182b 0 772.3px,#af172a 0 782.6px,#ac162a 0 792.9px,#aa152a 0 803.2px,#a71529 0 813.5px,#a51429 0 823.8px,#a31329 0 834.1px,#a01228 0 854.7px,#9e1228 0 865.0px,#9c1127 0 885.6px,#991027 0 906.2px,#970f27 0 926.8px,#950f26 0 978.3px,#950f26 0 1019.5px,#960f27 0 1050.3px,#981027 0 1070.9px,#9b1127 0 1091.5px,#9e1128 0 1112.1px,#a01228 0 1122.4px,#a21328 0 1132.7px,#a41329 0 1143.0px,#a61429 0 1153.3px,#a81529 0 1163.6px,#aa162a 0 1173.9px,#ad162a 0 1184.2px,#af172b 0 1194.5px,#b3172b 0 1215.1px,#b4162a 0 1236.7px)"></div>
<div style="top:59.84px;height:5.44px;background:linear-gradient(90deg,#f7f7f7 0 10.3px,#f8f4f2 0 20.6px,#f8f1ed 0 30.9px,#f9eee8 0 41.2px,#f9ebe3 0 51.5px,#fae9de 0 61.8px,#fbe6d9 0 72.1px,#fbe3d4 0 82.4px,#fce0cf 0 92.7px,#fdddca 0 103.0px,#fdd9c5 0 113.3px,#fcd4be 0 123.6px,#fbceb7 0 133.9px,#fac9b0 0 144.2px,#f9c3a9 0 154.5px,#f8bea2 0 164.8px,#f7b89b 0 175.1px,#f6b394 0 185.4px,#f5ad8d 0 195.7px,#f4a886 0 206.0px,#f4a481 0 216.2px,#f3a17d 0 226.5px,#f39e7a 0 236.8px,#f29c77 0 247.1px,#f29974 0 257.4px,#f19671 0 267.7px,#f1946e 0 278.0px,#f0916b 0 288.3px,#f08f68 0 298.6px,#ef8c65 0 308.9px,#ef8962 0 319.2px,#ec8660 0 329.5px,#ea825e 0 339.8px,#e87e5c 0 350.1px,#e67a5a 0 360.4px,#e37658 0 370.7px,#e17356 0 381.0px,#df6f54 0 391.3px,#dd6b53 0 401.6px,#db6851 0 411.9px,#d8644f 0 422.2px,#d6614d 0 432.5px,#d5594a 0 442.8px,#d45246 0 453.1px,#d34a43 0 463.4px,#d2423f 0 473.7px,#d13b3b 0 484.0px,#d03338 0 494.3px,#d02c35 0 504.6px,#cf2531 0 514.9px,#ce1e2e 0 525.2px,#cd172b 0 535.5px,#cc1028 0 545.8px,#cb0924 0 556.1px,#ca0321 0 566.4px,#c80221 0 587.0px,#c50522 0 607.6px,#c20824 0 628.1px,#c00a25 0 648.7px,#be0c26 0 659.0px,#bc0e27 0 679.6px,#b91128 0 700.2px,#b81228 0 710.5px,#b61429 0 731.1px,#b4162a 0 751.7px,#b1182b 0 772.3px,#ae172a 0 782.6px,#ab162a 0 792.9px,#a9152a 0 803.2px,#a71429 0 813.5px,#a41429 0 823.8px,#a21328 0 834.1px,#a01228 0 854.7px,#9d1128 0 865.0px,#9b1127 0 885.6px,#981027 0 906.2px,#960f27 0 926.8px,#940f26 0 1050.3px,#981027 0 1070.9px,#991027 0 1081.2px,#9b1127 0 1101.8px,#9d1128 0 1112.1px,#9f1228 0 1122.4px,#a11328 0 1132.7px,#a31329 0 1143.0px,#a51429 0 1153.3px,#a71529 0 1163.6px,#aa152a 0 1173.9px,#ac162a 0 1184.2px,#af172a 0 1194.5px,#b1182b 0 1204.8px,#b3172a 0 1225.4px,#b5152a 0 1236.7px)"></div>
</div>
<svg width="1345" height="1123" viewBox="0 0 1345 1123" font-family="Liberation Sans, sans-serif">
<path d="M198.48 59.8V1034.8M301.45 59.8V1034.8M404.43 59.8V1034.8M507.40 59.8V1034.8M610.38 59.8V1034.8M713.35 59.8V1034.8M816.33 59.8V1034.8M919.30 59.8V1034.8M1022.28 59.8V1034.8M1125.25 59.8V1034.8M1228.23 59.8V1034.8M1331.20 59.8V1034.8M95.5 980.64H1331.2M95.5 926.47H1331.2M95.5 872.31H1331.2M95.5 818.14H1331.2M95.5 763.98H1331.2M95.5 709.81H1331.2M95.5 655.65H1331.2M95.5 601.48H1331.2M95.5 547.32H1331.2M95.5 493.16H1331.2M95.5 438.99H1331.2M95.5 384.83H1331.2M95.5 330.66H1331.2M95.5 276.50H1331.2M95.5 222.33H1331.2M95.5 168.17H1331.2M95.5 114.00H1331.2M95.5 59.84H1331.2" stroke="rgba(38,38,38,0.19)" stroke-width="1" fill="none"/>
<path d="M1331.2,579.9 1322.9,585.2 1313.7,590.1 M1278.3,604.0 1268.7,606.9 1248.8,612.0 1228.2,616.3 1217.9,618.2 1197.3,621.4 1184.3,623.2 1166.4,625.2 1135.5,627.9 1104.7,629.6 1084.1,630.3 1063.5,630.6 1031.0,630.3 M993.0,628.8 970.8,627.3 950.2,625.4 929.6,623.1 909.0,620.2 888.8,616.7 868.9,612.5 848.9,607.2 839.0,604.1 831.2,601.5 817.3,596.1 805.8,590.7 796.2,585.2 788.2,579.8 781.7,574.4 779.2,571.9 776.5,569.0 772.5,563.6 769.6,557.8 M778.0,523.0 780.5,520.2 786.8,514.8 794.5,509.4 803.8,504.0 814.9,498.6 828.2,493.2 839.0,489.5 848.9,486.4 863.8,482.3 888.2,476.9 898.7,475.0 919.3,471.7 929.6,470.4 950.2,468.0 970.8,466.1 991.4,464.7 1012.1,463.7 M1050.1,462.8 1073.8,462.9 1094.4,463.3 1125.2,464.7 1145.8,466.1 1166.4,468.0 1187.0,470.4 1207.6,473.3 1228.2,476.7 1248.8,481.1 1259.1,483.5 1274.5,487.7 1291.1,493.2 1304.8,498.6 1316.3,504.0 1325.9,509.4 1331.2,513.0 M1331.2,853.7 1312.8,853.1 M1286.8,852.3 1228.2,850.9 1156.1,849.8 1094.4,849.4 1027.9,849.6 M1001.9,849.9 929.6,851.1 867.8,852.6 806.0,854.9 744.0,857.8 M718.0,859.2 672.2,862.2 641.3,864.4 579.5,869.8 538.3,874.1 517.7,876.5 486.8,880.3 460.0,884.0 M434.2,887.9 404.4,892.6 352.9,901.4 334.6,904.8 322.0,906.6 301.1,910.2 283.1,915.6 270.7,921.1 261.2,926.5 253.6,931.9 247.3,937.3 242.1,942.7 237.6,948.1 233.8,953.6 230.4,959.0 227.5,964.4 225.0,969.8 220.9,980.6 217.8,991.5 M213.6,1017.2 213.0,1024.0 212.7,1034.8 M213.0,59.8 213.3,70.7 213.7,76.5 M217.8,102.1 221.1,114.0 225.3,124.8 227.8,130.3 230.7,135.7 234.1,141.1 237.9,146.5 242.4,151.9 247.7,157.3 254.0,162.8 261.6,168.2 271.2,173.6 283.7,179.0 301.8,184.4 322.0,187.9 335.5,189.8 383.8,198.3 414.7,203.5 432.3,206.2 M458.0,210.0 486.8,214.0 528.0,219.0 579.5,224.4 610.4,227.2 651.6,230.6 715.6,234.8 M741.5,236.3 806.0,239.3 867.8,241.5 929.6,243.0 999.0,244.1 M1025.0,244.3 1094.4,244.5 1156.1,244.1 1217.9,243.2 1283.9,241.6 M1309.9,240.8 1331.2,240.0 M1331.2,893.1 1290.0,891.5 1251.0,890.4 M1225.0,889.8 1166.4,888.8 1094.4,888.2 1032.6,888.3 966.1,889.1 M940.1,889.5 878.1,891.1 826.6,892.9 754.5,896.0 680.7,900.0 M654.8,901.4 569.2,906.9 524.5,910.2 486.8,915.3 476.5,917.1 456.7,921.1 435.9,926.5 419.5,931.9 406.0,937.3 402.7,938.8 M380.1,951.5 377.0,953.6 369.9,959.0 363.8,964.4 358.5,969.8 352.9,976.5 349.8,980.6 346.3,986.1 343.3,991.5 340.8,996.9 338.6,1002.3 336.8,1007.7 335.3,1013.1 334.2,1018.6 333.5,1024.0 333.0,1029.4 332.8,1034.8 M333.3,59.8 333.5,65.3 333.9,70.7 334.7,76.1 335.8,81.5 337.3,86.9 339.1,92.3 341.3,97.8 343.8,103.2 346.9,108.6 350.4,114.0 354.4,119.4 359.1,124.8 364.7,130.5 M385.4,146.2 395.5,151.9 406.8,157.3 420.3,162.8 425.0,164.3 436.9,168.2 457.8,173.6 485.6,179.0 526.1,184.4 558.9,186.9 635.2,191.9 M661.1,193.4 744.2,197.9 785.4,199.8 857.5,202.6 920.0,204.4 M946.0,204.9 1012.0,205.8 1073.8,206.1 1135.5,205.8 1204.9,204.9 M1230.9,204.3 1279.7,203.0 1331.2,201.1 M1331.2,911.7 1312.9,910.8 M1286.9,909.9 1217.9,908.5 1156.1,907.7 1094.4,907.3 1028.9,907.4 M1002.9,907.6 929.6,908.5 851.9,910.2 795.7,912.8 744.9,915.8 M719.0,918.0 686.6,921.1 661.9,924.1 641.3,927.0 613.3,931.9 600.1,934.7 588.3,937.3 567.9,942.7 550.9,948.1 536.6,953.6 524.4,959.0 513.9,964.4 504.8,969.8 496.9,975.2 490.2,980.6 484.3,986.1 477.8,993.3 M465.1,1015.8 464.1,1018.6 462.9,1024.0 462.1,1029.4 461.8,1034.8 M462.6,59.8 462.9,65.3 463.7,70.7 464.5,74.3 M475.7,97.6 480.1,103.2 485.2,108.6 491.1,114.0 497.9,119.4 505.8,124.8 515.0,130.3 525.5,135.7 537.8,141.1 552.2,146.5 569.3,151.9 589.8,157.3 610.4,161.8 620.7,163.8 646.9,168.2 661.9,170.2 689.1,173.6 716.1,176.2 M742.0,178.4 764.8,179.9 795.7,181.6 858.0,184.4 929.6,185.9 1000.0,186.8 M1026.0,187.0 1094.4,187.1 1156.1,186.7 1217.9,185.9 1284.9,184.5 M1310.8,183.5 1331.2,182.6 M1331.2,941.8 1290.0,937.4 1259.8,935.1 M1233.9,933.3 1207.6,931.9 1176.7,930.7 1145.8,929.8 1104.7,929.1 1073.8,929.0 1042.9,929.1 1012.0,929.6 975.0,930.6 M949.0,931.5 909.0,933.7 867.8,936.6 836.9,939.5 806.0,943.1 771.7,948.1 742.7,953.6 719.3,959.0 703.1,963.5 694.3,966.2 M669.9,975.2 658.1,980.6 648.1,986.1 639.6,991.5 632.4,996.9 626.5,1002.3 620.7,1008.9 617.7,1013.1 614.7,1018.6 612.6,1024.0 611.3,1029.4 610.9,1034.8 M612.3,59.8 612.7,65.3 614.0,70.7 616.1,76.1 619.1,81.5 623.0,86.9 628.0,92.3 634.0,97.8 641.2,103.2 649.7,108.6 654.6,111.2 M678.3,122.0 685.5,124.8 702.0,130.3 721.6,135.7 745.4,141.1 775.1,146.6 812.6,151.9 847.2,155.7 864.5,157.3 888.4,159.2 931.2,161.8 M957.2,163.0 991.4,164.2 1022.3,164.8 1053.2,165.2 1084.1,165.2 1125.2,164.8 1156.1,164.1 1187.0,163.1 1215.7,161.7 M1241.7,160.2 1280.7,157.3 1310.6,154.4 1331.2,152.1 M1329.2,1034.8 1328.3,1029.4 1325.7,1024.0 1321.3,1018.6 1314.8,1013.1 1306.2,1007.7 1295.0,1002.3 1280.7,996.9 1262.5,991.5 1240.5,986.4 M1214.9,981.9 1206.4,980.6 1187.0,978.3 1154.8,975.2 1135.5,974.0 1115.0,973.1 1084.1,972.4 1063.5,972.4 1042.9,972.8 1012.0,974.0 991.4,975.3 970.8,977.1 956.8,978.6 M931.1,982.1 908.1,986.1 884.4,991.5 866.1,996.9 851.9,1002.3 840.6,1007.7 836.9,1010.0 832.0,1013.1 825.5,1018.6 821.1,1024.0 818.4,1029.4 817.6,1034.8 M820.9,59.8 821.8,65.3 824.5,70.7 829.0,76.1 835.6,81.5 844.4,86.9 855.9,92.3 870.6,97.8 889.4,103.2 903.3,106.3 M928.8,111.1 950.2,114.2 970.8,116.5 991.4,118.3 1022.3,120.2 1053.2,121.1 1073.8,121.3 1094.4,121.1 1125.2,120.1 1156.1,118.1 1186.9,115.1 M1212.6,111.6 1230.5,108.6 1255.1,103.2 1273.9,97.8 1290.0,91.7 1300.3,86.8 1308.9,81.5 1315.4,76.1 1320.0,70.7 1320.9,68.9 1322.7,65.3 1323.5,59.8 M1331.2,779.4 1301.0,779.6 M1275.0,779.7 1016.2,780.8 M990.2,780.9 730.8,781.4 M704.8,781.5 446.8,781.8 M420.8,781.8 162.9,781.9 M136.9,781.9 105.8,781.9 95.5,780.2 M95.5,314.4 105.8,312.0 130.6,312.0 M156.6,312.1 414.0,312.2 M440.0,312.2 698.9,312.4 M724.9,312.5 983.8,312.8 M1009.8,312.9 1268.2,313.6 M1294.2,313.7 1331.2,313.9" fill="none" stroke="#000" stroke-width="1.6" stroke-linejoin="round"/>
<g><g transform="translate(206.34 90.80) rotate(81.0)"><path transform="translate(-6.39 0) scale(1.0000)" d="M8.6 0H6.3V-11.2H2.3V-12.7C4.6-12.8 6.1-13.8 6.5-16.4H8.6Z"/></g>
<g transform="translate(369.23 146.04) rotate(36.9)"><text x="-6.39" font-size="23.0">2</text></g>
<g transform="translate(460.88 90.44) rotate(64.0)"><text x="-6.39" font-size="23.0">3</text></g>
<g transform="translate(662.58 125.24) rotate(24.2)"><text x="-6.39" font-size="23.0">4</text></g>
<g transform="translate(914.38 117.81) rotate(10.4)"><text x="-6.39" font-size="23.0">5</text></g>
<g transform="translate(1201.02 122.44) rotate(-7.8)"><text x="-6.39" font-size="23.0">5</text></g>
<g transform="translate(943.80 171.50) rotate(2.7)"><text x="-6.39" font-size="23.0">4</text></g>
<g transform="translate(1229.25 170.02) rotate(-3.4)"><text x="-6.39" font-size="23.0">4</text></g>
<g transform="translate(728.28 186.30) rotate(4.9)"><text x="-6.39" font-size="23.0">3</text></g>
<g transform="translate(1012.90 195.95) rotate(0.4)"><text x="-6.39" font-size="23.0">3</text></g>
<g transform="translate(1298.22 193.07) rotate(-2.3)"><text x="-6.39" font-size="23.0">3</text></g>
<g transform="translate(647.60 201.67) rotate(3.4)"><text x="-6.39" font-size="23.0">2</text></g>
<g transform="translate(932.84 213.68) rotate(1.2)"><text x="-6.39" font-size="23.0">2</text></g>
<g transform="translate(1218.12 213.63) rotate(-1.2)"><text x="-6.39" font-size="23.0">2</text></g>
<g transform="translate(443.78 217.12) rotate(8.6)"><path transform="translate(-6.39 0) scale(1.0000)" d="M8.6 0H6.3V-11.2H2.3V-12.7C4.6-12.8 6.1-13.8 6.5-16.4H8.6Z"/></g>
<g transform="translate(728.04 244.57) rotate(3.2)"><path transform="translate(-6.39 0) scale(1.0000)" d="M8.6 0H6.3V-11.2H2.3V-12.7C4.6-12.8 6.1-13.8 6.5-16.4H8.6Z"/></g>
<g transform="translate(1011.89 253.26) rotate(0.5)"><path transform="translate(-6.39 0) scale(1.0000)" d="M8.6 0H6.3V-11.2H2.3V-12.7C4.6-12.8 6.1-13.8 6.5-16.4H8.6Z"/></g>
<g transform="translate(1297.16 250.23) rotate(-1.8)"><path transform="translate(-6.39 0) scale(1.0000)" d="M8.6 0H6.3V-11.2H2.3V-12.7C4.6-12.8 6.1-13.8 6.5-16.4H8.6Z"/></g>
<g transform="translate(143.55 321.09) rotate(0.0)"><text x="-6.39" font-size="23.0">0</text></g>
<g transform="translate(426.98 321.23) rotate(0.0)"><text x="-6.39" font-size="23.0">0</text></g>
<g transform="translate(711.87 321.48) rotate(0.1)"><text x="-6.39" font-size="23.0">0</text></g>
<g transform="translate(996.76 321.90) rotate(0.1)"><text x="-6.39" font-size="23.0">0</text></g>
<g transform="translate(1281.15 322.68) rotate(0.2)"><text x="-6.39" font-size="23.0">0</text></g>
<g transform="translate(1031.31 472.12) rotate(-1.3)"><text x="-10.22" font-size="23.0">-</text><path transform="translate(-2.56 0) scale(1.0000)" d="M8.6 0H6.3V-11.2H2.3V-12.7C4.6-12.8 6.1-13.8 6.5-16.4H8.6Z"/></g>
<g transform="translate(777.20 541.63) rotate(-74.4)"><text x="-10.22" font-size="23.0">-</text><path transform="translate(-2.56 0) scale(1.0000)" d="M8.6 0H6.3V-11.2H2.3V-12.7C4.6-12.8 6.1-13.8 6.5-16.4H8.6Z"/></g>
<g transform="translate(1011.63 638.75) rotate(2.2)"><text x="-10.22" font-size="23.0">-</text><path transform="translate(-2.56 0) scale(1.0000)" d="M8.6 0H6.3V-11.2H2.3V-12.7C4.6-12.8 6.1-13.8 6.5-16.4H8.6Z"/></g>
<g transform="translate(1299.55 606.15) rotate(-21.2)"><text x="-10.22" font-size="23.0">-</text><path transform="translate(-2.56 0) scale(1.0000)" d="M8.6 0H6.3V-11.2H2.3V-12.7C4.6-12.8 6.1-13.8 6.5-16.4H8.6Z"/></g>
<g transform="translate(149.93 790.97) rotate(-0.0)"><text x="-6.39" font-size="23.0">0</text></g>
<g transform="translate(433.85 790.80) rotate(-0.0)"><text x="-6.39" font-size="23.0">0</text></g>
<g transform="translate(717.78 790.47) rotate(-0.1)"><text x="-6.39" font-size="23.0">0</text></g>
<g transform="translate(1003.18 789.88) rotate(-0.2)"><text x="-6.39" font-size="23.0">0</text></g>
<g transform="translate(1288.10 788.70) rotate(-0.4)"><text x="-6.39" font-size="23.0">0</text></g>
<g transform="translate(731.51 867.50) rotate(-3.2)"><path transform="translate(-6.39 0) scale(1.0000)" d="M8.6 0H6.3V-11.2H2.3V-12.7C4.6-12.8 6.1-13.8 6.5-16.4H8.6Z"/></g>
<g transform="translate(1015.01 858.78) rotate(-0.5)"><path transform="translate(-6.39 0) scale(1.0000)" d="M8.6 0H6.3V-11.2H2.3V-12.7C4.6-12.8 6.1-13.8 6.5-16.4H8.6Z"/></g>
<g transform="translate(1299.54 861.70) rotate(1.8)"><path transform="translate(-6.39 0) scale(1.0000)" d="M8.6 0H6.3V-11.2H2.3V-12.7C4.6-12.8 6.1-13.8 6.5-16.4H8.6Z"/></g>
<g transform="translate(448.42 894.81) rotate(-8.5)"><path transform="translate(-6.39 0) scale(1.0000)" d="M8.6 0H6.3V-11.2H2.3V-12.7C4.6-12.8 6.1-13.8 6.5-16.4H8.6Z"/></g>
<g transform="translate(668.24 909.71) rotate(-3.1)"><text x="-6.39" font-size="23.0">2</text></g>
<g transform="translate(953.30 898.31) rotate(-1.0)"><text x="-6.39" font-size="23.0">2</text></g>
<g transform="translate(1237.82 899.09) rotate(1.4)"><text x="-6.39" font-size="23.0">2</text></g>
<g transform="translate(395.52 952.64) rotate(-29.0)"><text x="-6.39" font-size="23.0">2</text></g>
<g transform="translate(732.74 925.83) rotate(-4.8)"><text x="-6.39" font-size="23.0">3</text></g>
<g transform="translate(1015.96 916.56) rotate(-0.4)"><text x="-6.39" font-size="23.0">3</text></g>
<g transform="translate(1299.57 919.33) rotate(2.0)"><text x="-6.39" font-size="23.0">3</text></g>
<g transform="translate(478.29 1008.41) rotate(-60.5)"><text x="-6.39" font-size="23.0">3</text></g>
<g transform="translate(962.30 940.04) rotate(-2.1)"><text x="-6.39" font-size="23.0">4</text></g>
<g transform="translate(1246.26 943.18) rotate(3.8)"><text x="-6.39" font-size="23.0">4</text></g>
<g transform="translate(685.14 978.87) rotate(-20.3)"><text x="-6.39" font-size="23.0">4</text></g>
<g transform="translate(945.11 989.16) rotate(-7.6)"><text x="-6.39" font-size="23.0">5</text></g>
<g transform="translate(1226.19 992.95) rotate(9.8)"><text x="-6.39" font-size="23.0">5</text></g>
<g transform="translate(224.10 1005.72) rotate(-80.8)"><path transform="translate(-6.39 0) scale(1.0000)" d="M8.6 0H6.3V-11.2H2.3V-12.7C4.6-12.8 6.1-13.8 6.5-16.4H8.6Z"/></g>
<g transform="translate(86.97 551.30) rotate(90.0)"><text x="-6.39" font-size="23.0">0</text></g></g>
<g fill="#ff0000"><circle cx="95.5" cy="774.8" r="3"/><circle cx="95.5" cy="769.4" r="3"/><circle cx="95.5" cy="764.0" r="3"/><circle cx="95.5" cy="758.6" r="3"/><circle cx="95.5" cy="753.1" r="3"/><circle cx="95.5" cy="747.7" r="3"/><circle cx="95.5" cy="742.3" r="3"/><circle cx="95.5" cy="736.9" r="3"/><circle cx="95.5" cy="731.5" r="3"/><circle cx="95.5" cy="726.1" r="3"/><circle cx="95.5" cy="720.6" r="3"/><circle cx="95.5" cy="715.2" r="3"/><circle cx="95.5" cy="709.8" r="3"/><circle cx="95.5" cy="704.4" r="3"/><circle cx="95.5" cy="699.0" r="3"/><circle cx="95.5" cy="693.6" r="3"/><circle cx="95.5" cy="688.1" r="3"/><circle cx="95.5" cy="682.7" r="3"/><circle cx="95.5" cy="677.3" r="3"/><circle cx="95.5" cy="671.9" r="3"/><circle cx="95.5" cy="666.5" r="3"/><circle cx="95.5" cy="661.1" r="3"/><circle cx="95.5" cy="655.6" r="3"/><circle cx="95.5" cy="650.2" r="3"/><circle cx="95.5" cy="644.8" r="3"/><circle cx="95.5" cy="639.4" r="3"/><circle cx="95.5" cy="634.0" r="3"/><circle cx="95.5" cy="628.6" r="3"/><circle cx="95.5" cy="623.2" r="3"/><circle cx="95.5" cy="617.7" r="3"/><circle cx="95.5" cy="612.3" r="3"/><circle cx="95.5" cy="606.9" r="3"/><circle cx="95.5" cy="601.5" r="3"/><circle cx="95.5" cy="596.1" r="3"/><circle cx="95.5" cy="590.7" r="3"/><circle cx="95.5" cy="585.2" r="3"/><circle cx="95.5" cy="579.8" r="3"/><circle cx="95.5" cy="574.4" r="3"/><circle cx="95.5" cy="569.0" r="3"/><circle cx="95.5" cy="563.6" r="3"/><circle cx="95.5" cy="558.2" r="3"/><circle cx="95.5" cy="552.7" r="3"/><circle cx="95.5" cy="547.3" r="3"/><circle cx="95.5" cy="541.9" r="3"/><circle cx="95.5" cy="536.5" r="3"/><circle cx="95.5" cy="531.1" r="3"/><circle cx="95.5" cy="525.7" r="3"/><circle cx="95.5" cy="520.2" r="3"/><circle cx="95.5" cy="514.8" r="3"/><circle cx="95.5" cy="509.4" r="3"/><circle cx="95.5" cy="504.0" r="3"/><circle cx="95.5" cy="498.6" r="3"/><circle cx="95.5" cy="493.2" r="3"/><circle cx="95.5" cy="487.7" r="3"/><circle cx="95.5" cy="482.3" r="3"/><circle cx="95.5" cy="476.9" r="3"/><circle cx="95.5" cy="471.5" r="3"/><circle cx="95.5" cy="466.1" r="3"/><circle cx="95.5" cy="460.7" r="3"/><circle cx="95.5" cy="455.2" r="3"/><circle cx="95.5" cy="449.8" r="3"/><circle cx="95.5" cy="444.4" r="3"/><circle cx="95.5" cy="439.0" r="3"/><circle cx="95.5" cy="433.6" r="3"/><circle cx="95.5" cy="428.2" r="3"/><circle cx="95.5" cy="422.7" r="3"/><circle cx="95.5" cy="417.3" r="3"/><circle cx="95.5" cy="411.9" r="3"/><circle cx="95.5" cy="406.5" r="3"/><circle cx="95.5" cy="401.1" r="3"/><circle cx="95.5" cy="395.7" r="3"/><circle cx="95.5" cy="390.2" r="3"/><circle cx="95.5" cy="384.8" r="3"/><circle cx="95.5" cy="379.4" r="3"/><circle cx="95.5" cy="374.0" r="3"/><circle cx="95.5" cy="368.6" r="3"/><circle cx="95.5" cy="363.2" r="3"/><circle cx="95.5" cy="357.7" r="3"/><circle cx="95.5" cy="352.3" r="3"/><circle cx="95.5" cy="346.9" r="3"/><circle cx="95.5" cy="341.5" r="3"/><circle cx="95.5" cy="336.1" r="3"/><circle cx="95.5" cy="330.7" r="3"/><circle cx="95.5" cy="325.2" r="3"/><circle cx="95.5" cy="319.8" r="3"/><circle cx="95.5" cy="314.4" r="3"/><circle cx="1073.8" cy="265.7" r="3"/><circle cx="1073.8" cy="260.2" r="3"/><circle cx="1073.8" cy="254.8" r="3"/><circle cx="1073.8" cy="249.4" r="3"/><circle cx="1073.8" cy="244.0" r="3"/><circle cx="1073.8" cy="238.6" r="3"/><circle cx="1073.8" cy="233.2" r="3"/><circle cx="1073.8" cy="227.7" r="3"/><circle cx="1073.8" cy="222.3" r="3"/><circle cx="1073.8" cy="216.9" r="3"/><circle cx="1073.8" cy="211.5" r="3"/><circle cx="1073.8" cy="206.1" r="3"/><circle cx="1073.8" cy="200.7" r="3"/><circle cx="1073.8" cy="195.3" r="3"/><circle cx="1073.8" cy="189.8" r="3"/><circle cx="1073.8" cy="184.4" r="3"/><circle cx="1073.8" cy="179.0" r="3"/><circle cx="1073.8" cy="173.6" r="3"/><circle cx="1073.8" cy="168.2" r="3"/><circle cx="1073.8" cy="162.8" r="3"/><circle cx="1073.8" cy="157.3" r="3"/><circle cx="1073.8" cy="151.9" r="3"/><circle cx="1073.8" cy="146.5" r="3"/><circle cx="1073.8" cy="141.1" r="3"/><circle cx="1073.8" cy="135.7" r="3"/><circle cx="1073.8" cy="130.3" r="3"/><circle cx="1073.8" cy="124.8" r="3"/><circle cx="1073.8" cy="119.4" r="3"/><circle cx="1073.8" cy="114.0" r="3"/><circle cx="1073.8" cy="108.6" r="3"/><circle cx="1073.8" cy="103.2" r="3"/><circle cx="1073.8" cy="97.8" r="3"/><circle cx="1073.8" cy="92.3" r="3"/><circle cx="1073.8" cy="86.9" r="3"/><circle cx="1073.8" cy="81.5" r="3"/><circle cx="1073.8" cy="76.1" r="3"/><circle cx="1073.8" cy="70.7" r="3"/><circle cx="1073.8" cy="65.3" r="3"/><circle cx="1073.8" cy="59.8" r="3"/><circle cx="1084.1" cy="287.3" r="3"/><circle cx="1084.1" cy="281.9" r="3"/><circle cx="1084.1" cy="276.5" r="3"/><circle cx="1084.1" cy="271.1" r="3"/><circle cx="1094.4" cy="298.2" r="3"/><circle cx="1094.4" cy="292.7" r="3"/><circle cx="1115.0" cy="303.6" r="3"/><circle cx="1187.0" cy="309.0" r="3"/><circle cx="1073.8" cy="1034.8" r="3"/><circle cx="1073.8" cy="1029.4" r="3"/><circle cx="1073.8" cy="1024.0" r="3"/><circle cx="1073.8" cy="1018.6" r="3"/><circle cx="1073.8" cy="1013.1" r="3"/><circle cx="1073.8" cy="1007.7" r="3"/><circle cx="1073.8" cy="1002.3" r="3"/><circle cx="1073.8" cy="996.9" r="3"/><circle cx="1073.8" cy="991.5" r="3"/><circle cx="1073.8" cy="986.1" r="3"/><circle cx="1073.8" cy="980.6" r="3"/><circle cx="1073.8" cy="975.2" r="3"/><circle cx="1073.8" cy="969.8" r="3"/><circle cx="1073.8" cy="964.4" r="3"/><circle cx="1073.8" cy="959.0" r="3"/><circle cx="1073.8" cy="953.6" r="3"/><circle cx="1073.8" cy="948.1" r="3"/><circle cx="1073.8" cy="942.7" r="3"/><circle cx="1073.8" cy="937.3" r="3"/><circle cx="1073.8" cy="931.9" r="3"/><circle cx="1073.8" cy="926.5" r="3"/><circle cx="1073.8" cy="921.1" r="3"/><circle cx="1073.8" cy="915.6" r="3"/><circle cx="1073.8" cy="910.2" r="3"/><circle cx="1073.8" cy="904.8" r="3"/><circle cx="1073.8" cy="899.4" r="3"/><circle cx="1073.8" cy="894.0" r="3"/><circle cx="1073.8" cy="888.6" r="3"/><circle cx="1073.8" cy="883.1" r="3"/><circle cx="1073.8" cy="877.7" r="3"/><circle cx="1073.8" cy="872.3" r="3"/><circle cx="1073.8" cy="866.9" r="3"/><circle cx="1073.8" cy="861.5" r="3"/><circle cx="1073.8" cy="856.1" r="3"/><circle cx="1073.8" cy="850.6" r="3"/><circle cx="1084.1" cy="845.2" r="3"/><circle cx="1084.1" cy="839.8" r="3"/><circle cx="1084.1" cy="834.4" r="3"/><circle cx="1084.1" cy="829.0" r="3"/><circle cx="1084.1" cy="823.6" r="3"/><circle cx="1084.1" cy="818.1" r="3"/><circle cx="1084.1" cy="812.7" r="3"/><circle cx="1094.4" cy="801.9" r="3"/><circle cx="1094.4" cy="807.3" r="3"/><circle cx="1104.7" cy="796.5" r="3"/><circle cx="1125.2" cy="791.1" r="3"/><circle cx="1176.7" cy="785.6" r="3"/><circle cx="1331.2" cy="780.2" r="3"/></g>
<path d="M95.4 59.8V1035.4M94.5 1034.5H1331.2M95.4 1034.50h13.3M95.4 980.64h13.3M95.4 926.47h13.3M95.4 872.31h13.3M95.4 818.14h13.3M95.4 763.98h13.3M95.4 709.81h13.3M95.4 655.65h13.3M95.4 601.48h13.3M95.4 547.32h13.3M95.4 493.16h13.3M95.4 438.99h13.3M95.4 384.83h13.3M95.4 330.66h13.3M95.4 276.50h13.3M95.4 222.33h13.3M95.4 168.17h13.3M95.4 114.00h13.3M95.4 59.84h13.3M95.50 1034.5v-13M198.48 1034.5v-13M301.45 1034.5v-13M404.43 1034.5v-13M507.40 1034.5v-13M610.38 1034.5v-13M713.35 1034.5v-13M816.33 1034.5v-13M919.30 1034.5v-13M1022.28 1034.5v-13M1125.25 1034.5v-13M1228.23 1034.5v-13M1331.20 1034.5v-13" stroke="#000" stroke-width="1.8" fill="none"/>
<g transform="scale(1 1.06)"><g transform="translate(79.40 985.09)"><text x="-39.74" font-size="27.5">-</text><text x="-30.58" font-size="27.5">9</text><text x="-15.29" font-size="27.5">0</text></g>
<g transform="translate(79.40 831.80)"><text x="-39.74" font-size="27.5">-</text><text x="-30.58" font-size="27.5">6</text><text x="-15.29" font-size="27.5">0</text></g>
<g transform="translate(79.40 678.50)"><text x="-39.74" font-size="27.5">-</text><text x="-30.58" font-size="27.5">3</text><text x="-15.29" font-size="27.5">0</text></g>
<g transform="translate(82.40 525.21)"><text x="-15.29" font-size="27.5">0</text></g>
<g transform="translate(81.00 371.91)"><text x="-30.58" font-size="27.5">3</text><text x="-15.29" font-size="27.5">0</text></g>
<g transform="translate(81.00 218.62)"><text x="-30.58" font-size="27.5">6</text><text x="-15.29" font-size="27.5">0</text></g>
<g transform="translate(81.00 65.32)"><text x="-30.58" font-size="27.5">9</text><text x="-15.29" font-size="27.5">0</text></g>
<g transform="translate(95.00 1014.15)"><text x="-7.65" font-size="27.5">0</text></g>
<g transform="translate(300.95 1014.15)"><text x="-7.65" font-size="27.5">2</text></g>
<g transform="translate(506.90 1014.15)"><text x="-7.65" font-size="27.5">4</text></g>
<g transform="translate(712.85 1014.15)"><text x="-7.65" font-size="27.5">6</text></g>
<g transform="translate(918.80 1014.15)"><text x="-7.65" font-size="27.5">8</text></g>
<g transform="translate(1124.75 1014.15)"><path transform="translate(-15.29 0) scale(1.1957)" d="M8.6 0H6.3V-11.2H2.3V-12.7C4.6-12.8 6.1-13.8 6.5-16.4H8.6Z"/><text x="0.00" font-size="27.5">0</text></g>
<g transform="translate(1330.70 1014.15)"><path transform="translate(-15.29 0) scale(1.1957)" d="M8.6 0H6.3V-11.2H2.3V-12.7C4.6-12.8 6.1-13.8 6.5-16.4H8.6Z"/><text x="0.00" font-size="27.5">2</text></g></g>
<text x="716.2" y="1115.9" font-size="31.2" text-anchor="middle">Age (ka)</text>
<text transform="translate(23.3 548) rotate(-90)" font-size="31.2" text-anchor="middle">Latitude</text>
<g transform="translate(0 32.7) scale(1 1.06)"><text x="491.0" y="0" font-size="31.4" font-weight="bold">Mean annual anomaly (W/m<tspan dx="4.5" dy="-13.8" font-size="23">2</tspan><tspan dy="13.8" dx="0.5">)</tspan></text></g>
</svg>
</body></html>
